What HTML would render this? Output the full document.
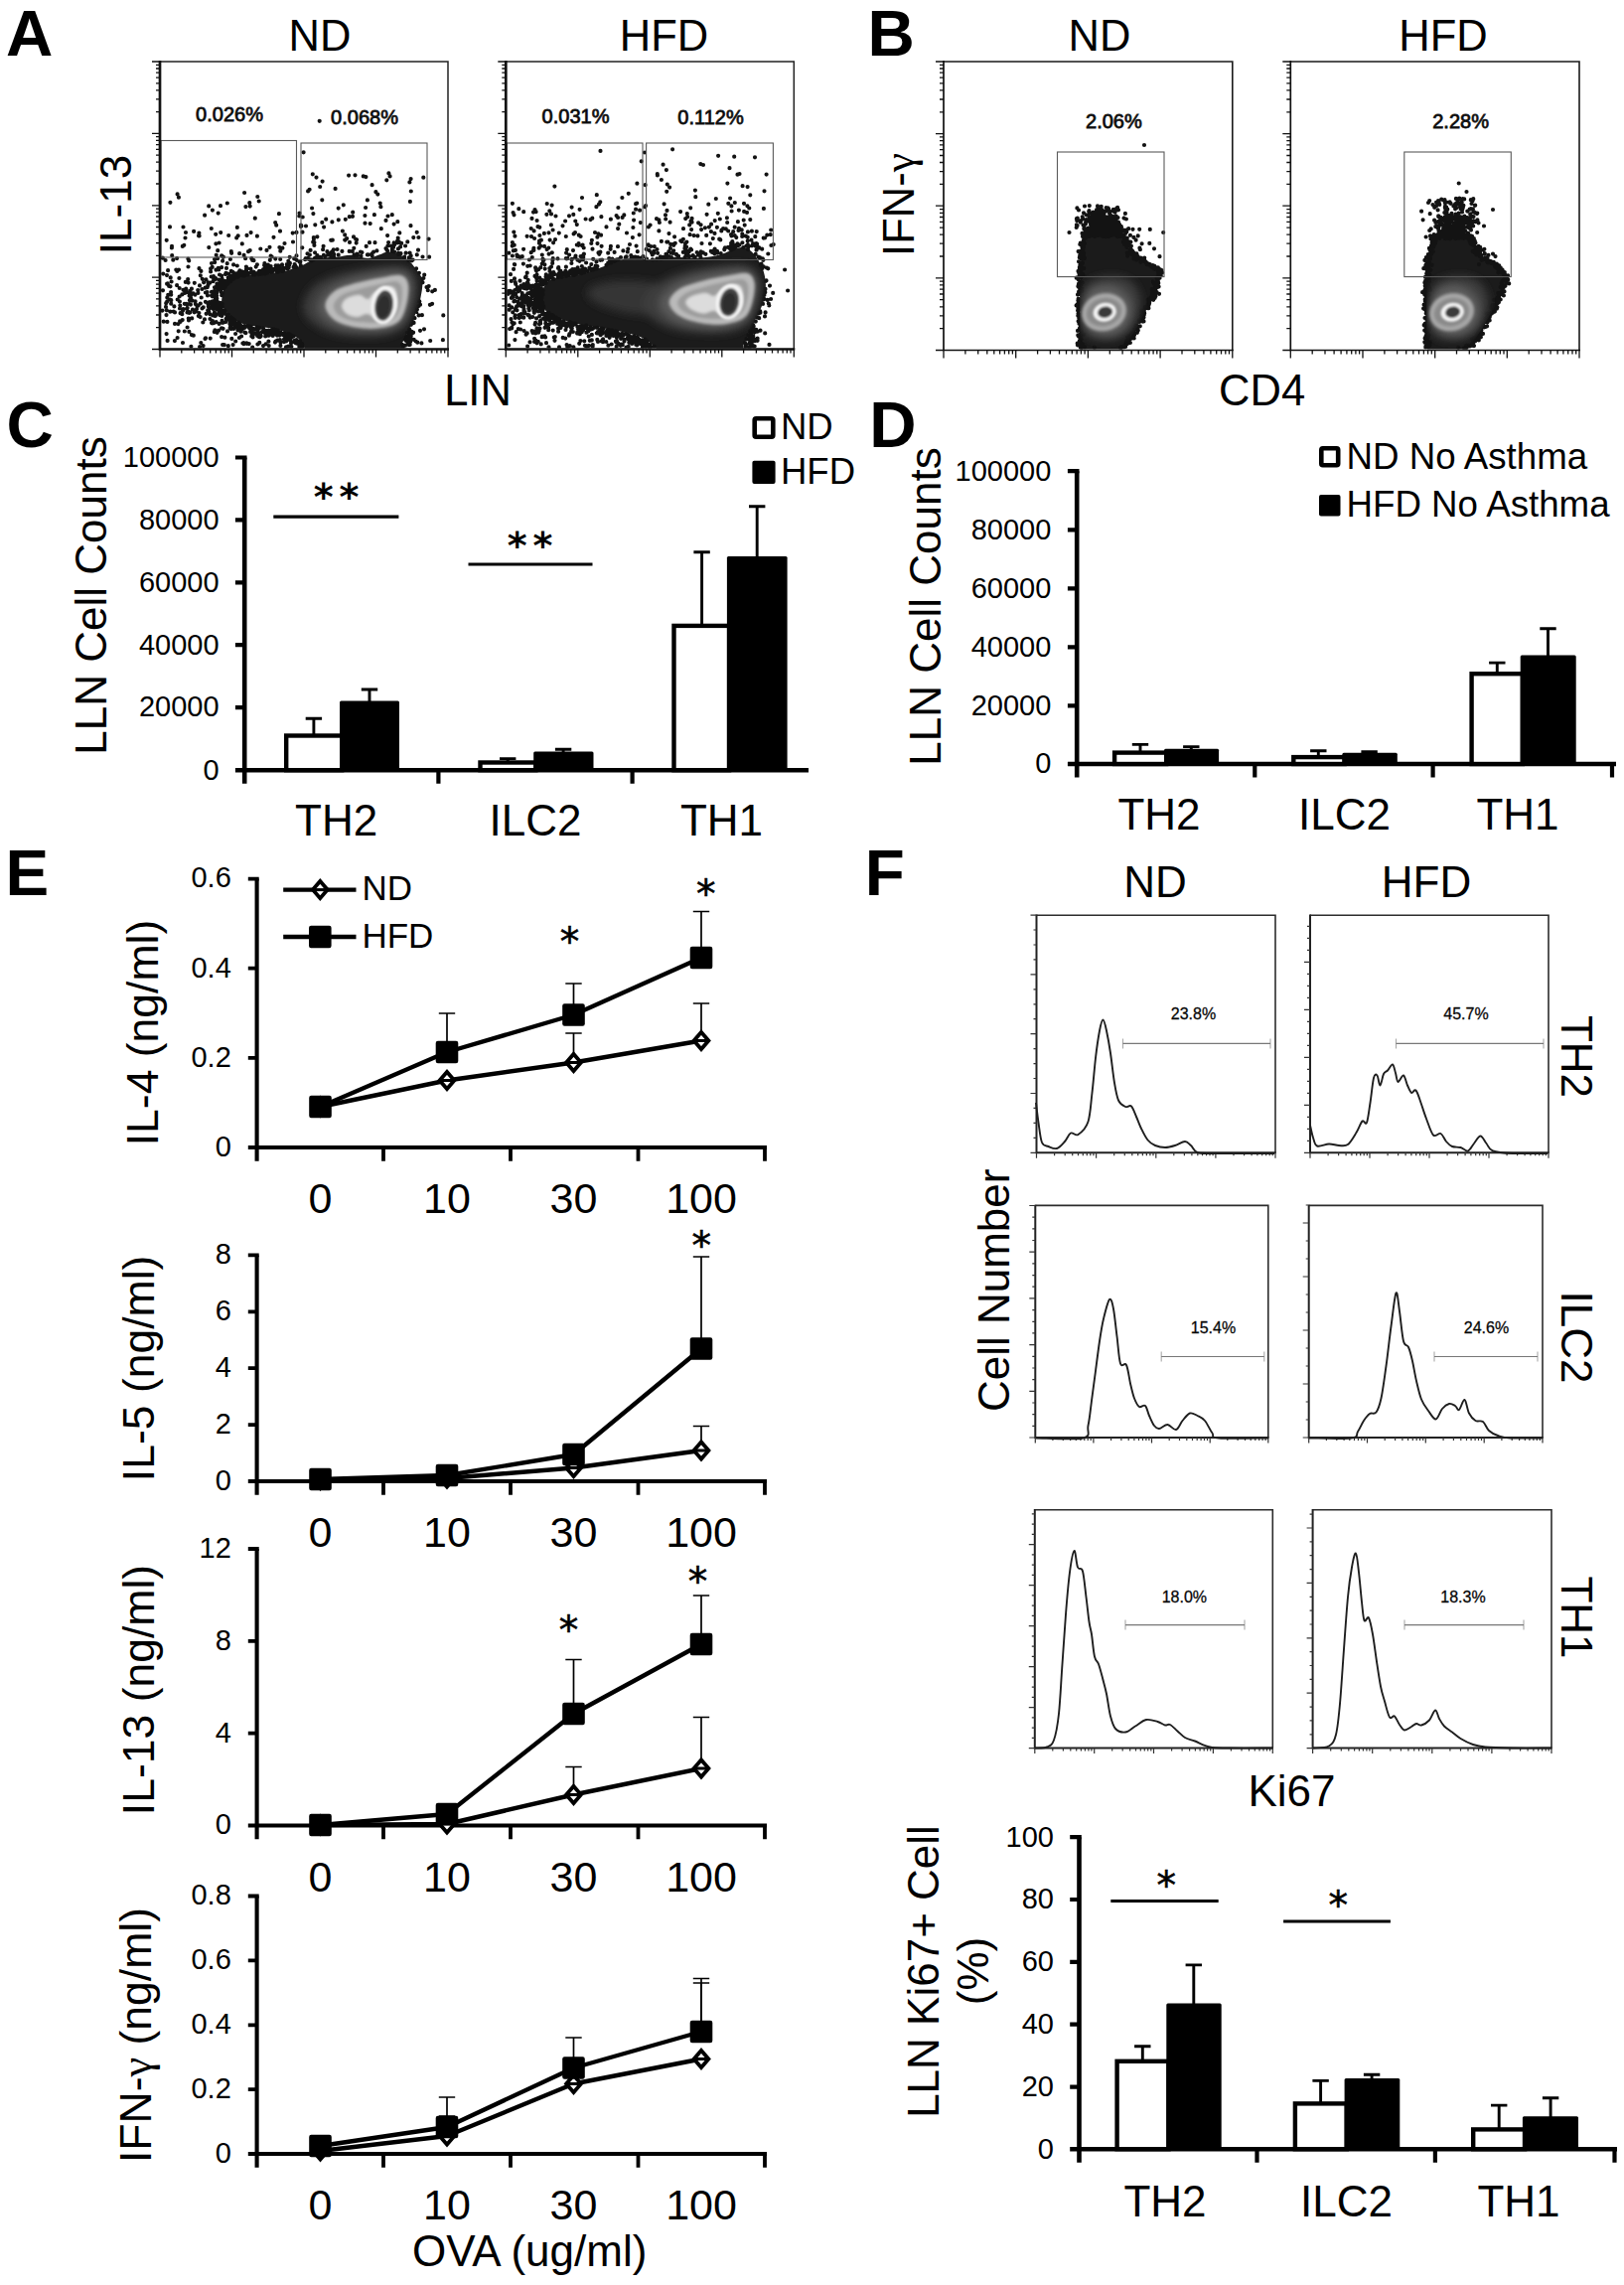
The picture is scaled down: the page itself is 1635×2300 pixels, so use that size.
<!DOCTYPE html>
<html><head><meta charset="utf-8"><title>Figure</title>
<style>html,body{margin:0;padding:0;background:#fff}svg{display:block}text{font-family:"Liberation Sans",Arial,sans-serif;fill:#000}</style>
</head><body>
<svg width="1635" height="2300" viewBox="0 0 1635 2300">
<defs>
<filter id="bl5" x="-20%" y="-20%" width="140%" height="140%"><feGaussianBlur stdDeviation="4"/></filter>
<filter id="bl2" x="-20%" y="-20%" width="140%" height="140%"><feGaussianBlur stdDeviation="1.6"/></filter>
<filter id="bl1" x="-20%" y="-20%" width="140%" height="140%"><feGaussianBlur stdDeviation="0.9"/></filter>
</defs>
<rect width="1635" height="2300" fill="#fff"/>
<clipPath id="ca1"><rect x="162" y="62" width="289" height="288.5"/></clipPath>
<g clip-path="url(#ca1)">
<clipPath id="ca1b"><path d="M223.2 301.5C223.5 298.4 224.3 293.1 226 289.9C227.8 286.7 230.4 284.1 233.6 282C236.7 280 239.8 278.4 245.2 277.4C250.6 276.4 258.9 276.5 265.9 275.8C272.9 275 280.7 274.2 287.1 272.8C293.5 271.3 299 269.1 304.3 267C309.5 264.9 312.7 261.6 318.6 260.2C324.4 258.8 333.3 259.4 339.2 258.8C345 258.2 348.3 256.5 353.5 256.7C358.7 256.9 365.6 259.9 370.3 259.9C375 259.8 378 257.7 381.5 256.6C385 255.6 387.7 253.6 391.2 253.6C394.8 253.6 399.2 254.9 402.7 256.5C406.3 258.1 409.5 260.5 412.5 263.3C415.4 266.2 418.3 270.1 420.5 273.3C422.6 276.6 424.8 278.1 425.3 282.7C425.7 287.2 424.6 294.6 423.2 300.7C421.9 306.7 419.5 312.9 417.1 319.1C414.7 325.3 411 333 408.8 337.8C406.5 342.7 404.7 345.7 403.6 348.2C402.4 350.8 405.9 352.3 402.1 353.2C398.3 354 389.5 353.4 380.7 353.5C372 353.5 358.8 353.5 349.4 353.5C340 353.5 331.1 353.7 324.3 353.5C317.5 353.3 312.6 354.4 308.7 352.3C304.8 350.2 304.3 344.1 300.8 341.1C297.3 338.1 292.5 336.2 287.4 334.4C282.3 332.5 275.9 331.1 270.3 330.1C264.6 329 258.7 329 253.6 328C248.4 327 243.5 326 239.6 324C235.6 322.1 232.4 318.7 229.8 316.1C227.2 313.6 225.1 311 224 308.6C222.9 306.1 222.9 304.6 223.2 301.5z"/></clipPath>
<path d="M223.2 301.5C223.5 298.4 224.3 293.1 226 289.9C227.8 286.7 230.4 284.1 233.6 282C236.7 280 239.8 278.4 245.2 277.4C250.6 276.4 258.9 276.5 265.9 275.8C272.9 275 280.7 274.2 287.1 272.8C293.5 271.3 299 269.1 304.3 267C309.5 264.9 312.7 261.6 318.6 260.2C324.4 258.8 333.3 259.4 339.2 258.8C345 258.2 348.3 256.5 353.5 256.7C358.7 256.9 365.6 259.9 370.3 259.9C375 259.8 378 257.7 381.5 256.6C385 255.6 387.7 253.6 391.2 253.6C394.8 253.6 399.2 254.9 402.7 256.5C406.3 258.1 409.5 260.5 412.5 263.3C415.4 266.2 418.3 270.1 420.5 273.3C422.6 276.6 424.8 278.1 425.3 282.7C425.7 287.2 424.6 294.6 423.2 300.7C421.9 306.7 419.5 312.9 417.1 319.1C414.7 325.3 411 333 408.8 337.8C406.5 342.7 404.7 345.7 403.6 348.2C402.4 350.8 405.9 352.3 402.1 353.2C398.3 354 389.5 353.4 380.7 353.5C372 353.5 358.8 353.5 349.4 353.5C340 353.5 331.1 353.7 324.3 353.5C317.5 353.3 312.6 354.4 308.7 352.3C304.8 350.2 304.3 344.1 300.8 341.1C297.3 338.1 292.5 336.2 287.4 334.4C282.3 332.5 275.9 331.1 270.3 330.1C264.6 329 258.7 329 253.6 328C248.4 327 243.5 326 239.6 324C235.6 322.1 232.4 318.7 229.8 316.1C227.2 313.6 225.1 311 224 308.6C222.9 306.1 222.9 304.6 223.2 301.5z" fill="#1b1b1b"/>
<path d="M374.5 255.3h0M363.5 257.8h0M254.2 261.9h0M187 234h0M426.3 178.7h0M389.5 251.5h0M382.7 204.6h0M303.4 227.4h0M200 237.3h0M394.8 251.1h0M278.2 226.7h0M210.2 207.4h0M260.7 202.5h0M304.7 218.5h0M419.7 233.8h0M314.8 261.7h0M248.5 236.9h0M349.2 240.1h0M319.4 238.3h0M319.5 257.2h0M351.1 176.6h0M282.3 252.7h0M400.3 223.2h0M324.3 201.3h0M351.8 218.2h0M325.1 251.2h0M414.6 261.5h0M314.1 209.5h0M311.9 256.6h0M238.2 239.4h0M224.9 258.7h0M383.4 208.2h0M206.1 216.7h0M354.8 252.9h0M357.5 176.3h0M400.7 239.7h0M432.1 258.7h0M251.7 207.6h0M223.1 257.4h0M316.4 246.9h0M410.3 243.4h0M339.5 251h0M419.8 256.4h0M336.2 258.7h0M388.5 221.9h0M316.4 244h0M412.9 202.9h0M323 259.3h0M322.5 258.9h0M408.6 254.7h0M241.1 255.2h0M310.1 192.4h0M232.8 253h0M359.3 255.5h0M298.5 257.4h0M217.2 235.8h0M253.3 260.2h0M317.2 259.8h0M219.2 252.2h0M370.8 256.4h0M325.9 256.8h0M412.6 254.6h0M302.9 227.9h0M397.2 246.3h0M388.5 250h0M310.8 260.9h0M328.2 220.7h0M185.3 246.8h0M335.1 252.6h0M363 253.6h0M200.6 237.4h0M322.2 188h0M421.4 239h0M315.4 215.1h0M394.8 253h0M333.2 241.8h0M324.6 182.6h0M171.4 203.8h0M397.3 246.1h0M372 244.2h0M402 243.8h0M314.8 175.3h0M368.1 209h0M171 228.4h0M268.5 251.9h0M275.5 238.8h0M356.5 256.7h0M347.8 220.8h0M393.9 247.6h0M189.4 260.6h0M311.6 190.8h0M389.3 181.3h0M325.6 247.8h0M256.8 219.7h0M246.1 194h0M317.3 226.3h0M308 227.5h0M340.8 221.3h0M222.2 234.1h0M407.2 258.7h0M331.1 255.4h0M412.4 183.4h0M245.6 256.9h0M334.8 241.7h0M413.7 257.4h0M397.1 253.5h0M359.1 241.3h0M309.9 259.8h0M315.9 240.8h0M324.3 223.9h0M344.4 252.9h0M383.8 230.2h0M219.7 214.6h0M259.3 198h0M396.1 248.9h0M406.9 259.3h0M334.4 223.4h0M222 207.2h0M286.5 245h0M401.3 255.9h0M172.9 249.5h0M369.9 256.4h0M319.2 258.9h0M321.5 259.9h0M367.5 224.7h0M233.1 254.8h0M230.2 237h0M247.4 208.1h0M250 253.2h0M400.1 242.5h0M271.5 248.8h0M337.6 189.9h0M271.8 261.8h0M298.5 233.9h0M295 243.5h0M404.2 244.9h0M396.6 225.6h0M200.4 234.6h0M302.9 226.7h0M166.6 262h0M326.1 228.6h0M376.1 253.7h0M277.2 224h0M195.1 232.9h0M376.9 216.2h0M365.8 177.4h0M217.4 245.3h0M305.6 153.3h0M367.4 217h0M390.4 247.5h0M396.6 244.4h0M315.2 243.7h0M411.8 259.3h0M425.5 258.5h0M251.7 252.1h0M216 261.1h0M318.5 178.6h0M331.9 256.8h0M356.3 249.8h0M309.5 255.3h0M280.9 215.2h0M377.5 244.2h0M315.8 239.1h0M272.6 257.5h0M364.4 254.1h0M213.9 211.6h0M210.3 249.1h0M243.8 245.4h0M347.2 236.4h0M184.5 228.5h0M178.6 195.4h0M333.5 254.2h0M217.7 256.8h0M352 243.9h0M413.8 192.5h0M368.7 247.9h0M183.8 247.9h0M412.4 260.8h0M391.4 174.4h0M330 256.6h0M284.4 249.7h0M374.6 186.2h0M347.4 241.7h0M403.1 248.4h0M401.3 243h0M412.3 259.2h0M238.8 228.9h0M351.7 252.9h0M291.7 258.8h0M369.9 201.4h0M368.4 178.1h0M390.1 252.5h0M358.7 244.6h0M340.7 209.6h0M219.1 260.2h0M304.5 233.7h0M262.3 250.5h0M301.3 217.5h0M273.7 258.5h0M347.2 241.5h0M231.9 261h0M374.7 257.6h0M167.7 241.8h0M251.3 204.2h0M413.5 227.2h0M421 251.7h0M258.9 237.7h0M355 217.8h0M173 247.9h0M304.3 249.3h0M334 258.5h0M416.3 239.1h0M391.1 244.1h0M431.6 240.6h0M296.2 260.4h0M220.6 244.5h0M298.6 261.8h0M340.7 256.7h0M228.8 204.5h0M336.2 255.9h0M390.5 217.5h0M408.1 247.5h0M400.9 250.4h0M173.2 257.2h0M282 232.7h0M327.2 258.3h0M345.8 206.3h0M335.8 251.4h0M355.2 213.7h0M378.4 193.2h0M281.4 249h0M301.5 214.5h0M239.7 237.3h0M294.7 234.6h0M413.6 180.1h0M252.6 234.1h0M390.1 237.1h0M380.3 195.6h0M335.1 254.3h0M358.2 240.8h0M179.9 198.7h0M402.3 234.4h0M359.9 256.7h0M317.1 254.3h0M394.8 216.2h0M312.6 251.9h0M372.7 225.1h0M403.5 255.2h0M212.8 230h0M356 238.4h0M401 254.8h0M379.4 252.4h0M186.5 239.5h0M392.6 177.4h0M329.4 253.2h0M344.9 232.6h0M401.4 255h0M400.2 244.3h0M269.1 273.1h0M304.3 348.8h0M410.8 345.6h0M279 337.6h0M293.1 337.7h0M187.2 290.7h0M259.8 346.3h0M213 324.9h0M178.7 301.5h0M199.2 292.1h0M277 344.6h0M198.2 307.4h0M243.2 331.1h0M163.5 312.6h0M248.3 273.4h0M207 340.3h0M289.4 337.8h0M409.4 340.8h0M253.3 338.4h0M202.3 345h0M238.6 327.2h0M275.9 333.8h0M279.5 342.7h0M222.8 310h0M205.1 284.3h0M220.2 271.4h0M225.8 347.2h0M169.1 272.2h0M223.5 322.9h0M261 339.2h0M255.4 273.9h0M291.9 264.9h0M269.9 266.7h0M226.3 312.6h0M224.2 287.7h0M223.6 305.8h0M193.2 320.4h0M266.9 275.5h0M194.7 295.3h0M437.9 291.9h0M189.6 284.6h0M280.2 267.4h0M192.5 296.5h0M171.7 279.4h0M238.8 276.5h0M218.2 287.8h0M228.8 284.3h0M254.3 337.3h0M412.8 333h0M265.2 332.6h0M225.6 314.9h0M237.7 325.8h0M300.8 346.3h0M224.1 347.1h0M425.5 280.6h0M190 322.4h0M218.3 300.5h0M190.8 305.9h0M226.4 339.7h0M227.5 274.9h0M254.2 349.5h0M231.7 277.8h0M187.5 305.8h0M221.9 314.5h0M247.7 275h0M280.6 271.6h0M174.7 313.6h0M223.9 295.1h0M174.3 261.7h0M234.9 278.2h0M280.5 335.1h0M266.4 265h0M270.7 348h0M286.8 270h0M180.6 298.5h0M265 348.1h0M220.1 315.4h0M203.5 310.5h0M252.7 328.9h0M423 306.7h0M212.7 278.5h0M171.2 301.6h0M198.3 307.4h0M253.9 334h0M275.2 333.3h0M184.5 291.8h0M288.8 266.2h0M192.9 290.7h0M235.2 276.4h0M255.5 262.2h0M270.8 337.6h0M215.8 296.5h0M283 271.7h0M248 271.5h0M219.1 290.5h0M281.5 337.6h0M244.5 273.9h0M426.4 280h0M226.6 286h0M215.5 307.8h0M302.3 346.3h0M419.9 311.4h0M188.2 306.6h0M228.2 285.7h0M164.2 275.6h0M223.6 308.6h0M432.9 306.8h0M240.6 273.9h0M183.7 322.1h0M239.4 326.8h0M209 297.4h0M275.3 333.4h0M416.7 341.8h0M226.1 315.6h0M413.8 261.5h0M201.1 349h0M196.4 296.7h0M270.1 273.9h0M208.7 289.2h0M235.5 280.3h0M252 331.2h0M201.8 277.3h0M415.5 324h0M416.1 334.7h0M185.8 333.5h0M266.8 274.8h0M404.9 346.9h0M296.6 342.8h0M271.8 333h0M255.6 273.8h0M249.3 276.5h0M229.8 348.2h0M209.5 284.4h0M191.9 306.6h0M312.9 261.3h0M192.6 301.9h0M210.5 310.8h0M224.3 288.8h0M239.4 332.3h0M172.6 283.5h0M236.1 275.2h0M220.4 281.7h0M243.4 273.6h0M232.6 331.1h0M276.8 270.7h0M217.5 293.9h0M260.5 273.8h0M415.1 335.5h0M169.2 296.9h0M257.3 275.2h0M187.9 310.8h0M247.9 271.2h0M258.9 266.3h0M411.1 344h0M319.5 259.1h0M313 261.5h0M299 344.4h0M200.5 270.2h0M236.4 322.3h0M289.4 341h0M192.9 337.1h0M181.6 315.2h0M254.8 331h0M218.7 289.3h0M189.9 313.8h0M216.2 264.1h0M415 325.1h0M285 337.1h0M184 345h0M433.2 343h0M195.7 314.3h0M217 306h0M275.2 333.2h0M232.8 272.8h0M221 288.1h0M285.9 335.7h0M285.8 269.9h0M217.3 296.8h0M218.2 297.4h0M287.8 339.3h0M202.7 299.5h0M269.5 274.1h0M197.4 313.3h0M297.1 267.2h0M273.4 335.2h0M255.8 275.5h0M231.6 323.6h0M291.2 267.1h0M201.8 305.5h0M408 347.7h0M235.2 331h0M251.3 330.5h0M239 277.4h0M253.4 335.2h0M217.6 299h0M409.8 338.5h0M224.3 290.2h0M242.4 333.7h0M248.9 328.6h0M253 331h0M254.7 276.5h0M242 331.7h0M189.8 320.6h0M186.8 283.9h0M206 321.4h0M258.3 331.8h0M219.8 304.8h0M233.6 277.8h0M220.4 312.3h0M215.2 280.6h0M229.7 279.7h0M202.4 272.9h0M427.2 276.7h0M232.6 320.7h0M168.3 299.6h0M280 271.7h0M293 345.4h0M176 314.4h0M178.1 287.2h0M260.2 330.9h0M281.4 335.9h0M239.8 278.6h0M227 276.1h0M295.5 268.9h0M222.7 288.2h0M279 267.6h0M211.4 316.3h0M272.1 333.6h0M213.3 303.5h0M290.2 348.5h0M290.7 269.6h0M214.7 310.9h0M201 287.4h0M279 272.3h0M280.2 336.1h0M266.1 267h0M232.5 328.8h0M172.1 294h0M307.8 260h0M272.1 274h0M411.3 262.1h0M224.3 313.7h0M226.4 285.6h0M423 332.8h0M200.4 315h0M178.1 260.1h0M260.3 331.1h0M217.2 300.5h0M266.9 335.2h0M284 266.4h0M204.7 309.3h0M263.1 272.9h0M295.3 344h0M232.6 325h0M190.6 297.7h0M316.8 260.2h0M413.5 261.9h0M252.1 334h0M411.1 343.1h0M184.4 311h0M214.6 307.6h0M303.9 349.1h0M217.1 280h0M271.1 271.3h0M301.1 346.1h0M278.1 268.3h0M282.1 269.5h0M189.5 268.5h0M168 277.1h0M424.4 345.4h0M291.4 337.4h0M289 337.8h0M304.1 346.2h0M274.7 338h0M209.2 312.4h0M199.7 307.6h0M232.3 321.6h0M435.1 305.8h0M196.8 306.1h0M290.8 336.4h0M213 265h0M225.7 283.2h0M167.8 312.3h0M256.6 335.7h0M244.4 345.5h0M186.1 294.9h0M218.3 294.5h0M258.7 329.3h0M217.5 316.7h0M282.2 261h0M414.5 333.8h0M260.8 276.1h0M298.3 344.7h0M204.6 348.1h0M231.6 330.1h0M216.6 299.5h0M201.6 319.1h0M218.8 303.5h0M225 324.6h0M289.2 336.3h0M235.2 325.7h0M272.4 336.2h0M313.2 262.5h0M221.8 285.9h0M269.4 274.5h0M411.5 347h0M248.7 345.9h0M225.2 290.4h0M212.3 305.1h0M285.2 272.6h0M232.4 321h0M223 284h0M288.9 338.1h0M216.7 281.1h0M234.6 347.1h0M291 339.2h0M270.7 273h0M218.6 306.2h0M212.5 309.7h0M225.4 285.2h0M295.6 338.6h0M228.9 283.2h0M411.5 338.2h0M256.5 276.4h0M222.5 305.4h0M246.5 277.3h0M171.5 288.3h0M240 324.5h0M242.2 327.7h0M214 323.1h0M192.4 348.8h0M172.2 296.7h0M190.5 315h0M413.9 326.8h0M420.3 344.7h0M245.2 345h0M421.6 308h0M253.2 273.1h0M224 288.8h0M249.1 270.3h0M283.8 272.8h0M410.2 334.8h0M217 317.8h0M215.5 315.7h0M235.8 278.1h0M210.4 314h0M284.1 272.7h0M225.2 289.3h0M407.9 341.8h0M244.4 275.4h0M282.4 347.9h0M269.4 334.3h0M302 343.4h0M179.7 333.3h0M240.9 340h0M167.2 305.2h0M218.2 311.3h0M187.5 291.4h0M298.1 268.8h0M203.7 280.8h0M215 278.2h0M288 349.4h0M184.1 312.6h0M220.8 309.5h0M313.5 262.2h0M189.3 294.3h0M408.6 342.8h0M223.2 313.9h0M222.7 311h0M280 271.3h0M270.4 343.7h0M235.1 266.4h0M213.9 310.2h0M229.3 318.3h0M215.9 314.5h0M204.3 324.5h0M270.4 332.5h0M435.2 293.3h0M180 271.6h0M209.4 287.3h0M272.9 270.8h0M307.2 261.2h0M277.6 267.4h0M220.7 314h0M270.8 337.7h0M290.2 336.6h0M249.9 328.7h0M188.6 329.5h0M254.7 275.5h0M228.5 319.4h0M276.4 335.4h0M247.1 260.2h0M213.3 306.1h0M415.1 323.8h0M319.7 260h0M292 342.6h0M280.2 271.7h0M206.9 294.5h0M236 276.1h0M222.9 289.8h0M183.3 316.2h0M223.3 318h0M264.9 275.5h0M237.1 278.1h0M245.1 329.7h0M219.8 269.8h0M318.7 259.5h0M214.6 309.3h0M232.5 282.1h0M223.6 280.6h0M246 328h0M416.6 324.9h0M176 325.9h0M218.4 285.7h0M237.1 336h0M274.9 271.2h0M257.7 268.6h0M274.1 331.6h0M288.1 343.4h0M224.6 330.8h0M252.4 270.5h0M229.7 284.5h0M414.4 341.4h0M218.4 303.7h0M262.5 337.5h0M262.3 275.8h0M266.9 268.2h0M214.2 296.2h0M268 272.2h0M265.1 330.6h0M217.2 288.8h0M245.5 276h0M411.7 336.5h0M242.5 277h0M277.9 270.2h0M297.3 345.1h0M279.1 342.7h0M191.5 292.9h0M230.1 281h0M218.7 311.1h0M251.2 274.8h0M293.4 348.8h0M266.9 272.4h0M218.6 334.8h0M233.5 281.2h0M270.7 269.4h0M289.8 269.4h0M218.6 305.1h0M254.5 339.4h0M301.6 263.7h0M214.5 283.2h0M412.6 342.3h0M257.3 331h0M177.3 271.5h0M280 273.6h0M262.9 274.3h0M405 349h0M192 299.4h0M232.6 321.6h0M279.1 269.6h0M213.7 268.9h0M221.7 304.8h0M236.3 277.5h0M194 311.6h0M424.9 317.2h0M431.7 288.1h0M445.9 342.2h0M215.5 296.2h0M168.1 285.7h0M250.6 328.6h0M245.1 274.6h0M277.7 332.2h0M211.4 321h0M218.1 297.2h0M263.9 334.2h0M296.6 266.1h0M221.9 292.3h0M256.4 335.7h0M290.3 262.8h0M259.6 275.1h0M250.5 328.6h0M292.9 339.1h0M211.3 284.7h0M259.2 338.1h0M230.5 275.8h0M427 331.3h0M232.1 283.2h0M446.3 317.4h0M181.5 323.9h0M425.5 284.3h0M239.4 275h0M216 317.8h0M262.7 338.2h0M255.6 331.3h0M231.4 326.1h0M181 310.5h0M193.6 302.6h0M246.4 334.6h0M208.6 294h0M188.7 310.1h0M220.6 286.1h0M190.2 262.4h0M241.4 272.4h0M164.7 323.7h0M238.6 329.3h0M429.5 289.1h0M419.3 314h0M239.4 276.4h0M242.6 275h0M419.1 270.3h0M223.1 269.2h0M183.4 296.4h0M292.1 341.4h0M247.9 268.6h0M169 286.3h0M213 297.6h0M302.4 263.4h0M163.8 259.6h0M267.6 346.3h0M248.3 345.4h0M226 285.6h0M240.2 325.8h0M281.4 269.1h0M217.7 324.2h0M223.8 314.9h0M225 314.1h0M220.6 325.9h0M212.1 270.4h0M190.4 333.9h0M223.2 277.5h0M217.5 271.7h0M226.7 288.8h0M188.5 314.5h0M213.7 298.3h0M224.3 288.7h0M408.9 339.7h0M415.2 325h0M179.4 326.1h0M234.3 280.8h0M227.5 283.1h0M167.6 336.1h0M242.3 329.7h0M180.9 303.6h0M279.4 271.1h0M405.5 349.4h0M206.5 341h0M235 326.1h0M171.3 313.7h0M190.9 302.2h0M237.7 325.7h0M199.8 318.1h0M222 283h0M254.4 275h0M217.3 307.8h0M236.4 328.5h0M234.6 320.8h0M180.7 290h0M413.7 338.3h0M303.7 347.3h0M245.4 346.2h0M280.8 269.9h0M277.5 343.5h0M241.5 326.3h0M232.2 321.6h0M266.3 270.9h0M232.5 319.3h0M281.9 342.2h0M209.5 306.2h0M232.5 281.8h0M213 293.9h0M274.4 273.2h0M265.2 271h0M167 308.9h0M232.1 328.5h0M220.1 332.7h0M274.6 272.6h0M194.8 337.7h0M273.4 335h0M243.6 273.4h0M228.4 275.3h0M224.1 262.7h0M268 332.8h0M211.7 340.6h0M233.3 340.9h0M207.6 315.8h0M412.7 346.9h0M226.8 287.8h0M196.6 303.3h0M168.8 285.4h0M191.4 314.4h0M282.5 344.7h0M217 299.3h0M267.9 335.5h0M413.1 336.5h0M228 269.9h0M223.2 297.2h0M247.5 335h0M254.5 338.2h0M413.6 336.5h0M237.6 329.3h0M164 292.3h0M291.3 337h0M268.1 270.5h0M272.7 268.1h0M405.1 347.5h0M214 317.3h0M237.2 343.5h0M413.2 343.8h0M209.3 312.3h0M198 311.1h0M233.2 322.7h0M222.2 283.2h0M180.4 280h0M178.3 273h0M223.1 339.1h0M228.4 320.4h0M217.7 296.9h0M210.7 304.3h0M218.3 307.1h0M227.6 320.8h0M168.4 323.9h0M221 290.3h0M206.9 303.8h0M215.1 325.2h0M229 333.4h0M247.4 335.2h0M291.6 336.5h0M168.2 303.6h0M231.8 281.3h0M220.2 309.5h0M220.2 291.1h0M209.8 308.4h0M222.2 284.3h0M222.7 294.1h0M216 289.3h0M244.4 277.4h0M405 347.1h0M418.7 343.5h0M221 276.5h0M227.4 324h0M229.6 285.1h0M219.4 309.4h0M243.7 331.4h0M195.8 284.8h0M261.1 272.8h0M246.1 328.8h0M268.5 271.5h0M216.6 302h0M245.3 277.3h0M216.4 332.4h0M238.8 267.5h0M261.3 344.9h0M289.5 270.5h0M287.9 269.7h0M227.1 315.6h0M217.8 293.7h0M172.2 305.7h0M230.1 321.4h0M221.6 285h0M293.4 339.8h0M215.9 293.2h0M261.7 339.2h0M221.4 317.2h0M301.3 348.9h0M298.8 345.7h0M191.3 301.8h0M231 282.8h0M214 294.4h0M167.5 317.1h0M297 266.8h0M207.5 281.4h0M279.8 332.5h0M185.8 305.8h0M170.1 288h0M234.4 273.8h0M172.3 302.2h0M422.3 303.4h0M279 268.9h0M224 324.8h0M278.2 336.2h0M215.6 306.2h0M228.7 265.2h0M224.8 314.2h0M430.8 292.2h0M318.3 259.2h0M238.8 276.5h0M286 344.1h0M421.6 317.4h0M415.6 261.6h0M181.1 323.3h0M421.9 274.8h0M259.4 346.5h0M302.8 267.2h0M250.7 346.1h0M223 330.4h0M230.5 280h0M245.7 274.1h0M412.9 339h0M298.6 342.1h0M213.4 325.3h0M246.1 330h0M252 329.2h0M278.6 273.3h0M215.1 293.3h0M175.4 308.4h0M206.6 289.7h0M221.8 306.8h0M230.4 283h0M232.2 324.2h0M215.2 303.1h0M287 335.8h0M267.2 338.5h0M226.4 283h0M253.5 330.8h0M233.5 278.2h0M175.9 343.1h0M275.9 331.7h0M277.3 260.6h0M417.5 320.2h0M292.9 339.7h0M199.4 294.9h0M286 341.7h0M260.2 334.8h0M286.8 338.2h0M259.3 330.1h0M241.1 275.1h0M203.4 291h0M412.1 331.3h0M212.1 273.4h0M414.5 262.5h0M254.2 274.4h0M266.3 271.8h0M261.5 329.9h0M215.8 334.1h0M255.4 276.2h0M237.1 279.1h0M181.3 307.6h0M229.9 316.8h0M228.7 286h0M189.2 281h0M269.8 337.6h0M217.4 293.1h0M210.6 304.3h0M282.2 334.3h0M239.6 326.3h0M243.1 338.5h0M283.5 271.5h0M168.6 342.9h0M178.6 340h0" fill="none" stroke="#131313" stroke-width="4.2" stroke-linecap="round"/>
<g clip-path="url(#ca1b)">
<g filter="url(#bl5)">
<path d="M305.4 307.5C306.1 301.2 310.6 292.2 318 286.6C325.3 281 335.4 277.2 349.4 274C363.3 270.9 390.2 266.7 401.7 267.7C413.2 268.8 416 273.7 418.4 280.3C420.9 286.9 418.4 299.3 416.4 307.5C414.3 315.7 411.8 324.3 405.9 329.5C400 334.7 391.9 337.3 380.8 338.5C369.6 339.6 350.1 338.8 338.9 336.4C327.7 334 319.4 329.1 313.8 324.3C308.2 319.4 304.7 313.8 305.4 307.5z" fill="#3e3e3e"/>
<path d="M320 307.5C321.1 302.6 326 295.5 332.6 290.8C339.2 286.1 348.3 282.2 359.8 279.2C371.3 276.3 392.6 272.1 401.7 273C410.8 273.8 412.5 278.7 414.3 284.5C416 290.2 414.3 300.4 412.2 307.5C410.1 314.7 408 323 401.7 327.4C395.4 331.8 384.3 333.2 374.5 333.7C364.7 334.1 351.1 332.4 343.1 330.1C335.1 327.9 330.2 323.8 326.3 320.1C322.5 316.3 319 312.4 320 307.5z" fill="#5c5c5c"/>
</g><g filter="url(#bl2)">
<path d="M327.4 307.5C327.4 302.6 331.4 296.7 336.8 292.9C342.2 289 351.8 286.8 359.8 284.5C367.9 282.2 377.6 280.5 385 279.2C392.3 278 399.4 275.9 403.8 277.2C408.2 278.4 410.2 281.5 411.1 286.6C412 291.6 410.8 301.2 409 307.5C407.3 313.8 405.4 320.4 400.7 324.3C395.9 328.1 387.9 329.7 380.8 330.5C373.6 331.4 365.1 330.9 357.7 329.5C350.4 328.1 341.9 325.8 336.8 322.2C331.7 318.5 327.4 312.4 327.4 307.5z" fill="#bababa"/>
<path d="M335.8 307.5C336.1 304 339.8 299.8 344.1 297C348.5 294.3 355.1 292.7 361.9 290.8C368.7 288.8 378.7 286.8 385 285.5C391.2 284.3 396.3 282.6 399.6 283.4C402.9 284.3 404.2 286.8 404.8 290.8C405.5 294.8 404.8 302.6 403.4 307.5C402 312.4 400.2 317.2 396.5 320.1C392.7 322.9 387.2 324.1 380.8 324.7C374.3 325.3 364.2 325 357.7 323.8C351.3 322.7 345.7 320.7 342 318C338.4 315.3 335.4 311 335.8 307.5z" fill="#9c9c9c"/>
<path d="M344.1 307.9C344.1 305.3 346.4 302 349.4 300.2C352.3 298.4 358.4 296.9 361.9 297C365.4 297.2 367.9 301.6 370.3 301.2C372.7 300.9 373.8 297 376.6 295C379.4 292.9 383.6 289.4 387 288.7C390.5 288 395.4 287.6 397.5 290.8C399.6 293.9 400.3 302.6 399.6 307.5C398.9 312.4 396.5 317.6 393.3 320.1C390.2 322.5 384.6 322.9 380.8 322.2C376.9 321.5 373.8 316.4 370.3 315.9C366.8 315.4 363.3 319 359.8 319C356.3 319 352 317.7 349.4 315.9C346.7 314 344.1 310.5 344.1 307.9z" fill="#dcdcdc"/>
</g><g filter="url(#bl1)">
<path d="M399.5 309C399 311.8 398.1 314.7 396.9 317.1C395.8 319.5 394.1 321.7 392.4 323.2C390.7 324.7 388.6 325.8 386.7 326.1C384.8 326.4 382.7 326.1 381 325.2C379.2 324.3 377.6 322.7 376.4 320.8C375.2 318.8 374.2 316.2 373.8 313.6C373.4 311 373.4 307.9 373.8 305.2C374.2 302.4 375.1 299.4 376.3 297.1C377.5 294.7 379.2 292.5 380.9 291C382.6 289.5 384.7 288.4 386.6 288.1C388.5 287.8 390.6 288.1 392.3 289C394 289.8 395.7 291.5 396.9 293.4C398.1 295.3 399 298 399.4 300.6C399.9 303.2 399.9 306.3 399.5 309z" fill="#f4f4f4"/>
<path d="M395.7 308.9C395.4 311.1 394.7 313.5 393.8 315.4C393 317.3 391.7 319.1 390.5 320.3C389.3 321.6 387.8 322.5 386.4 322.8C385 323.1 383.6 322.8 382.3 322.1C381.1 321.5 380 320.2 379.1 318.6C378.3 317.1 377.7 315 377.4 312.9C377.1 310.8 377.2 308.4 377.5 306.1C377.9 303.9 378.6 301.5 379.4 299.6C380.3 297.7 381.5 295.9 382.8 294.7C384 293.5 385.5 292.6 386.9 292.3C388.2 292 389.7 292.2 390.9 292.9C392.1 293.6 393.3 294.9 394.1 296.4C394.9 297.9 395.6 300 395.8 302.1C396.1 304.2 396.1 306.7 395.7 308.9z" fill="#444"/>
<path d="M392.4 309.7C392.2 311.4 391.7 313.1 391.1 314.6C390.4 316 389.6 317.3 388.7 318.3C387.9 319.2 386.8 319.8 385.9 320.1C385 320.3 384 320.2 383.1 319.7C382.3 319.2 381.5 318.2 381 317.1C380.4 316 380 314.4 379.9 312.9C379.7 311.3 379.7 309.5 380 307.8C380.2 306.2 380.7 304.4 381.4 303C382 301.6 382.8 300.2 383.7 299.3C384.5 298.4 385.6 297.7 386.5 297.5C387.4 297.2 388.4 297.4 389.3 297.9C390.1 298.4 390.9 299.3 391.4 300.5C392 301.6 392.4 303.1 392.5 304.7C392.7 306.2 392.7 308.1 392.4 309.7z" fill="#2e2e2e"/>
</g></g></g>
<rect x="162" y="141.5" width="136.5" height="117.5" fill="none" stroke="#5a5a5a" stroke-width="1.1"/>
<rect x="303" y="144" width="127" height="117.5" fill="none" stroke="#5a5a5a" stroke-width="1.1"/>
<path d="M161 62H451V351.5" fill="none" stroke="#222" stroke-width="1.5"/>
<path d="M161 61V351.5H452" fill="none" stroke="#111" stroke-width="2.7"/>
<path d="M161 351.5v8M161 351.5h-8M182.8 351.5v4M161 329.7h-4M195.6 351.5v4M161 317h-4M204.6 351.5v4M161 307.9h-4M211.7 351.5v4M161 300.9h-4M217.4 351.5v4M161 295.2h-4M222.3 351.5v4M161 290.3h-4M226.5 351.5v4M161 286.1h-4M230.2 351.5v4M161 282.4h-4M233.5 351.5v8M161 279.1h-8M255.3 351.5v4M161 257.3h-4M268.1 351.5v4M161 244.6h-4M277.1 351.5v4M161 235.6h-4M284.2 351.5v4M161 228.5h-4M289.9 351.5v4M161 222.8h-4M294.8 351.5v4M161 218h-4M299 351.5v4M161 213.8h-4M302.7 351.5v4M161 210.1h-4M306 351.5v8M161 206.8h-8M327.8 351.5v4M161 185h-4M340.6 351.5v4M161 172.2h-4M349.6 351.5v4M161 163.2h-4M356.7 351.5v4M161 156.2h-4M362.4 351.5v4M161 150.4h-4M367.3 351.5v4M161 145.6h-4M371.5 351.5v4M161 141.4h-4M375.2 351.5v4M161 137.7h-4M378.5 351.5v8M161 134.4h-8M400.3 351.5v4M161 112.6h-4M413.1 351.5v4M161 99.8h-4M422.1 351.5v4M161 90.8h-4M429.2 351.5v4M161 83.8h-4M434.9 351.5v4M161 78.1h-4M439.8 351.5v4M161 73.2h-4M444 351.5v4M161 69h-4M447.7 351.5v4M161 65.3h-4M451 351.5v8M161 62h-8" fill="none" stroke="#111" stroke-width="1.3"/>
<text x="231" y="121.5" text-anchor="middle" fill="#1a1a1a" font-size="20" stroke="#1a1a1a" stroke-width="0.8">0.026%</text>
<text x="367" y="124.5" text-anchor="middle" fill="#1a1a1a" font-size="20" stroke="#1a1a1a" stroke-width="0.8">0.068%</text>
<path d="M321.7 121.8h0" fill="none" stroke="#131313" stroke-width="4.2" stroke-linecap="round"/>
<clipPath id="ca2"><rect x="510.3" y="62" width="289" height="288.5"/></clipPath>
<g clip-path="url(#ca2)">
<clipPath id="ca2b"><path d="M545.4 301.2C545.4 296.9 546.6 289.6 549.1 286C551.6 282.4 555 281.2 560.3 279.6C565.7 278.1 574.1 278.1 581.1 276.6C588.1 275 595.3 272.6 602.3 270.2C609.3 267.7 616.9 263.6 623.1 261.9C629.2 260.1 633.3 259.9 639.1 259.9C644.9 259.9 651.4 262.1 658 262C664.7 261.8 672 259.2 679 258.8C686 258.5 692.9 260.1 699.9 259.9C707 259.6 714.9 258.7 721.3 257.3C727.7 255.9 733.5 252.8 738.2 251.4C742.9 250 746.2 248.3 749.6 248.9C753 249.6 755.6 251.8 758.6 255.2C761.6 258.7 765.5 264.5 767.5 269.7C769.6 275 770.8 280.8 770.9 286.6C771 292.4 769.8 298.9 768.1 304.7C766.4 310.4 763.2 315.6 760.7 321.1C758.2 326.6 755 333.3 752.9 337.8C750.9 342.4 749 345.8 748.1 348.3C747.2 350.9 752 352.3 747.4 353.1C742.8 354 730.4 353.4 720.7 353.5C711.1 353.5 698.7 353.6 689.4 353.5C680.1 353.4 671.8 354.9 665 352.8C658.2 350.6 654.9 343.8 648.6 340.8C642.3 337.7 634.3 336.1 627.2 334.3C620.1 332.5 613.8 331.5 606.1 330.1C598.4 328.7 588.6 327.6 581.1 325.9C573.5 324.2 565.9 322.1 560.6 319.8C555.3 317.5 551.6 315.3 549 312.2C546.5 309.1 545.4 305.6 545.4 301.2z"/></clipPath>
<path d="M545.4 301.2C545.4 296.9 546.6 289.6 549.1 286C551.6 282.4 555 281.2 560.3 279.6C565.7 278.1 574.1 278.1 581.1 276.6C588.1 275 595.3 272.6 602.3 270.2C609.3 267.7 616.9 263.6 623.1 261.9C629.2 260.1 633.3 259.9 639.1 259.9C644.9 259.9 651.4 262.1 658 262C664.7 261.8 672 259.2 679 258.8C686 258.5 692.9 260.1 699.9 259.9C707 259.6 714.9 258.7 721.3 257.3C727.7 255.9 733.5 252.8 738.2 251.4C742.9 250 746.2 248.3 749.6 248.9C753 249.6 755.6 251.8 758.6 255.2C761.6 258.7 765.5 264.5 767.5 269.7C769.6 275 770.8 280.8 770.9 286.6C771 292.4 769.8 298.9 768.1 304.7C766.4 310.4 763.2 315.6 760.7 321.1C758.2 326.6 755 333.3 752.9 337.8C750.9 342.4 749 345.8 748.1 348.3C747.2 350.9 752 352.3 747.4 353.1C742.8 354 730.4 353.4 720.7 353.5C711.1 353.5 698.7 353.6 689.4 353.5C680.1 353.4 671.8 354.9 665 352.8C658.2 350.6 654.9 343.8 648.6 340.8C642.3 337.7 634.3 336.1 627.2 334.3C620.1 332.5 613.8 331.5 606.1 330.1C598.4 328.7 588.6 327.6 581.1 325.9C573.5 324.2 565.9 322.1 560.6 319.8C555.3 317.5 551.6 315.3 549 312.2C546.5 309.1 545.4 305.6 545.4 301.2z" fill="#1b1b1b"/>
<path d="M680.8 255.9h0M665.3 260.7h0M671.3 243.6h0M596.5 250.7h0M700.3 198.2h0M559.5 217.5h0M543 242.7h0M686.3 243.2h0M741.3 239.1h0M733.2 232.5h0M690.4 257.9h0M692.5 253.6h0M601.4 238.7h0M729.3 250.9h0M690 245.1h0M537 213.6h0M556.6 231.5h0M605.6 247.8h0M537.6 232.4h0M596.3 219.7h0M604.4 261.8h0M737.2 243.6h0M747.4 244.3h0M606.1 261.6h0M640.6 247.6h0M577.6 235.4h0M552.3 249.6h0M753 251.2h0M742.4 245.4h0M688 230.2h0M647 259h0M711.2 236.9h0M520.4 256.5h0M736.4 246.8h0M627.4 252.4h0M612.2 254.7h0M732.2 224h0M713.3 205.7h0M697.7 257.2h0M538.1 240h0M757.8 246.9h0M516.6 214.1h0M597.2 260.8h0M643.6 236.3h0M675.4 245.9h0M776.2 231.5h0M638.1 221.6h0M559 241.1h0M683.1 257.9h0M555.6 206.6h0M554.9 226.4h0M622.1 219h0M763.6 258.6h0M756.5 241.7h0M666.6 260.5h0M605.4 218.2h0M703 256.7h0M604.4 253.7h0M703.7 255.8h0M628.3 216.4h0M671.2 192.8h0M699.9 191.6h0M603 205.6h0M535 238.1h0M761.5 251.7h0M586 199h0M579.5 257.7h0M691.4 243.6h0M562.8 234.6h0M685.3 242.3h0M725.3 241.4h0M693.2 252.5h0M705.6 226.3h0M561.5 260.4h0M645.3 259.9h0M571.4 260.2h0M716.1 225.7h0M752 213.9h0M541.5 228.2h0M738.7 250.3h0M651 260.8h0M543.3 228.8h0M692.8 258h0M752.9 246.3h0M566.5 227.3h0M760.3 238.2h0M695.3 250.6h0M614.9 247.9h0M584.6 258.1h0M535.8 259h0M525.8 258.2h0M752.6 188.1h0M674.6 223.7h0M553.3 212.3h0M670 216.4h0M518.9 251.9h0M595.3 245h0M641.8 253.2h0M637.4 229h0M634 246h0M602.4 235.3h0M767.2 250.7h0M706.5 245h0M656.8 256.4h0M581.5 261.7h0M661.9 176.5h0M776.4 247h0M586.1 261.1h0M650.7 250.9h0M517.5 216.3h0M721.9 228.8h0M535.5 219.9h0M645.7 162.3h0M689.7 247.8h0M582.6 245.2h0M764.9 259.1h0M518.4 237.7h0M649.2 208.3h0M729.3 251.3h0M649 153.5h0M641.2 204.5h0M753.6 248.3h0M539.6 213.2h0M706.1 231.1h0M743.9 211.6h0M663.4 221.4h0M744.5 175h0M767.8 260.3h0M739.7 237.1h0M534.7 254.2h0M760.7 255.9h0M778.7 246.1h0M757 247.3h0M569.1 222.5h0M721.5 254.1h0M580.8 246.5h0M720.8 200h0M736.2 251.3h0M696.1 251.5h0M690.9 256.5h0M733.1 248.9h0M749 204.8h0M630.7 258.4h0M736.6 212.5h0M644.1 211.7h0M691.3 253.1h0M696.1 231.1h0M632.8 194.8h0M722.4 254.7h0M600.8 196.2h0M640.1 210.7h0M661 220.2h0M595.9 241.8h0M760.7 247.7h0M658.1 255h0M719.4 254.7h0M716.9 253.9h0M692.2 218.3h0M705.3 165.1h0M743.5 232h0M635.3 257.2h0M736.4 207.4h0M705 256.1h0M687.9 253.9h0M744 229.8h0M724.8 220.5h0M555 215.4h0M673.5 235.1h0M719.3 255.3h0M617.4 261.6h0M714.9 245.3h0M587.9 255.7h0M570.8 251.2h0M690.3 251.3h0M736 236.1h0M678.3 246.8h0M694.6 236.2h0M653.7 252.1h0M573.1 256.5h0M731.9 219.3h0M599 234h0M726.5 231.7h0M515.9 204.8h0M679.1 238.3h0M736 251.6h0M699.7 258.9h0M770 239.5h0M718.9 252h0M544.9 241.7h0M547.9 234.9h0M552.6 255.7h0M652.9 228.5h0M573 217.3h0M515.9 244h0M665.7 260h0M736.5 237.4h0M772.3 236.6h0M730.8 230.4h0M715.8 252.9h0M522.3 210.2h0M631 234.5h0M550.4 215.8h0M733.3 204.8h0M742.7 247.5h0M527.2 213.2h0M604.3 203.3h0M755.3 196.3h0M719.7 222.1h0M689.4 250.1h0M742.9 223.2h0M547.5 261.8h0M570.4 260.5h0M695.2 209.3h0M586.1 257.5h0M622.1 230.1h0M723.1 156.8h0M575.8 260.8h0M664.8 259.6h0M626.6 218.9h0M678.2 252.3h0M579.3 222.5h0M626.4 199h0M679.8 244.8h0M632.3 250.6h0M746.7 231.4h0M715.9 233.1h0M713.9 228.6h0M516.8 252.3h0M579.2 259h0M530.6 237.8h0M691.2 254.5h0M677.5 254.9h0M768.7 239.6h0M665.9 242.9h0M577.3 215.9h0M739.7 228.7h0M552.5 234.3h0M748.3 249h0M603.3 255.8h0M748.7 221.6h0M663.9 224h0M760 158.3h0M620.9 261.4h0M646.4 260h0M649.6 186.2h0M614.9 220.7h0M737.6 244.4h0M670.5 255.9h0M655.3 248h0M722 252.8h0M744.4 246.6h0M532.9 261.5h0M661.1 261.2h0M758.1 245.2h0M587.7 249.5h0M750.7 237.6h0M658.8 248.1h0M755.3 221.1h0M570.1 254.6h0M696.6 223.7h0M668.6 205.3h0M694.2 258.1h0M754.3 209.5h0M732.4 184.6h0M527.1 250.8h0M739.8 204h0M584.6 238h0M682.8 258h0M671.5 211.9h0M614.6 250.8h0M749.1 212.9h0M520.6 258h0M671.8 185.6h0M737.3 243h0M661.5 251h0M739.2 157.7h0M725.7 255h0M542.7 249.7h0M738.2 233.2h0M548 247.9h0M694.2 226.4h0M550.6 251.1h0M652.7 246.4h0M594.5 221.1h0M687.9 240.8h0M589.6 220.5h0M512.3 254.7h0M698.6 237.1h0M577 252.1h0M637.8 214.5h0M537.1 251.4h0M773.3 255.5h0M662.1 254.8h0M762.1 245.6h0M651 260.6h0M542.9 244.7h0M601.5 245.1h0M735.1 199.6h0M555.8 254.3h0M734.5 169.2h0M760.9 247.7h0M693.6 253.6h0M709.9 229.3h0M522.5 258.3h0M703.1 224.3h0M558.4 187.6h0M517.7 246.7h0M726.3 232.4h0M640.1 205.2h0M550.7 205h0M687.9 253.8h0M671.3 255.9h0M639.6 258.7h0M668.8 259.2h0M769.5 192.3h0M707.9 254.4h0M652.7 246.9h0M575.6 208.6h0M658.3 252.9h0M764.3 249.4h0M677.1 150.3h0M717.8 240.1h0M678.6 245.6h0M538.5 211.1h0M752.7 238.8h0M751.4 247.5h0M691.1 248.6h0M618.6 253.9h0M654.6 226.6h0M667.6 165.7h0M631.8 253.5h0M661.8 175.2h0M656 254.5h0M604.5 151.9h0M670.2 220.5h0M637.9 258.9h0M622 248.2h0M685.1 213.1h0M647.5 258.2h0M695.5 222.6h0M602.5 254.4h0M730 249.3h0M644.8 224.1h0M736.7 250h0M697.9 258h0M675.8 254.7h0M569.8 238h0M623.3 225.7h0M722.8 214.8h0M719.6 250.5h0M582.4 246.8h0M692.1 256.3h0M583.6 210.8h0M736.1 244.8h0M775.7 236.2h0M663.4 232.4h0M761.4 245.1h0M587.3 258.9h0M737.7 248.5h0M742.5 175.7h0M705.7 253.3h0M696.6 219.9h0M620.6 217.1h0M674.9 249.9h0M702.4 237.4h0M762.3 247.8h0M670.9 171.1h0M667.1 259.8h0M701.7 254h0M545.8 256.5h0M752.4 207.3h0M735.2 250.8h0M747.6 187.2h0M544.3 247.7h0M580.8 226.1h0M724.2 240.7h0M764.4 259.2h0M515.7 247.6h0M537.4 251.9h0M605.1 236.7h0M540.6 222h0M705.7 254.4h0M610.5 228.4h0M537.4 249.8h0M515.9 257.5h0M728.1 230h0M719.5 234.9h0M636.9 239.1h0M673.2 258h0M557.1 244.3h0M665.9 181h0M711.6 215.8h0M553.6 241.6h0M543.4 237h0M752.9 233.4h0M600.4 208.2h0M586.1 247.3h0M534.7 230h0M635.5 259.3h0M735.9 247.4h0M690.1 249.7h0M667.8 258.8h0M674.1 188.6h0M673.4 253h0M517.3 233.6h0M691.8 215.1h0M690.2 220.1h0M747.2 238h0M756.9 232.7h0M768.9 209.9h0M641.4 184.7h0M752.7 242.6h0M675.2 246.1h0M740.2 247.1h0M523.6 259h0M710.4 255.8h0M650.1 207.1h0M664.9 258.3h0M708 166h0M740.3 249.3h0M586.6 246.6h0M749.7 226.6h0M681.3 256.7h0M761.7 233.1h0M622.4 209h0M672.4 243.5h0M582.8 236.7h0M579 234.1h0M747.3 235.5h0M771.6 175.6h0M545 281.6h0M622.5 346.4h0M615.7 346.5h0M531.3 295.4h0M531.4 316.9h0M629.3 336h0M562.3 269.7h0M514 276.2h0M522.7 317h0M549.7 284.7h0M585.4 332.4h0M565.9 278.4h0M572.9 337.7h0M539.1 324.9h0M632 337.2h0M549.4 318.7h0M521.1 303.6h0M579.1 273.8h0M560.3 323.6h0M542.1 334.7h0M769.4 296.9h0M549.8 276.4h0M759.8 334.4h0M642 259.7h0M612.9 264.9h0M534.2 287.9h0M563.4 324.2h0M618.2 262.9h0M649.3 341.7h0M605.8 330.5h0M593.8 342.8h0M775 287.6h0M606.5 334.3h0M573.4 326.9h0M573.2 327.4h0M575.6 261.6h0M563.5 321.7h0M527.5 311h0M531.5 307.1h0M599.7 267.7h0M759.9 343.2h0M546.4 286.5h0M625.8 346.7h0M551.2 327.4h0M620.6 348.9h0M767.8 305.5h0M542.4 271.1h0M585.7 275h0M585.7 275.1h0M540.5 276.3h0M772.6 301.9h0M634.6 339.9h0M569.9 268.7h0M586.8 261.3h0M567.8 326.9h0M762.6 340.7h0M514.9 299.9h0M552.4 314.7h0M565.7 275.9h0M539.8 296.5h0M619.6 262.5h0M539.2 335.4h0M637.4 341.9h0M610.4 338h0M524.4 288h0M641.2 347.5h0M623.1 336h0M594.2 329.3h0M534 307.4h0M638.3 341.6h0M770.2 335.4h0M556.9 317.6h0M773.3 270.3h0M534.5 301.2h0M605.1 334h0M751.5 341.2h0M769.2 300.8h0M579.8 271.1h0M515.4 324.5h0M625.5 339.2h0M531.8 299.9h0M627.6 337.7h0M519.4 310h0M549.3 325.4h0M543.5 330.5h0M758.8 340.8h0M556.7 332.6h0M588.7 328.6h0M525.9 307.2h0M515.8 294.1h0M576.4 271h0M568 276.7h0M545.9 338.7h0M520.4 291.4h0M557.3 280.9h0M633.7 343.7h0M626.4 335.8h0M621.3 334.1h0M563.5 272.7h0M554.4 278.9h0M553.3 321.4h0M552 281.3h0M549.5 278.6h0M756 335.4h0M641.3 341h0M576.7 275.6h0M518.8 311.7h0M538.1 294.2h0M541.9 313.4h0M541.8 308.9h0M520.5 312.3h0M635.7 339.4h0M553 326.3h0M757.1 329.9h0M527.5 297.7h0M542.5 308.3h0M544.3 269.2h0M532.5 308h0M517.1 270.9h0M546.2 312.9h0M556.2 264.9h0M521.4 292h0M555 268.6h0M558.3 322.9h0M574.3 327.6h0M640 345.1h0M541.7 307.8h0M567 275.2h0M558.8 339.1h0M563.7 277.1h0M588.9 347.8h0M601.1 329.9h0M531.7 286.7h0M552.3 315.6h0M523.2 292.3h0M562.1 333.7h0M581.2 334.6h0M640.3 347h0M556 324.8h0M619.3 333.6h0M765.5 332.7h0M604.4 336.9h0M569.5 326.4h0M535.3 291.8h0M755.7 341.7h0M770.6 314.4h0M527.4 313.1h0M545.4 300h0M546.3 284.2h0M526.2 319.4h0M575.6 328.4h0M604.5 331.8h0M536.3 293.9h0M760.8 323.6h0M551.9 321.7h0M532 287.2h0M569.9 260.1h0M655.1 348.9h0M532.5 306.9h0M595.9 337h0M583.5 262.8h0M754.4 345.6h0M516.5 326.3h0M584.4 343.1h0M565.1 274.7h0M575.4 265h0M529.3 304.5h0M548.2 316.1h0M557.7 275.5h0M549.8 327.1h0M536.3 287.5h0M539.6 299h0M619.9 343.5h0M536 305.7h0M559.7 323.6h0M586.7 330.4h0M534.2 306.9h0M516.2 297.5h0M582.4 334.1h0M523.8 290.4h0M573.8 324.1h0M520.1 299.1h0M535.1 296.8h0M519 296.2h0M553.5 273h0M521.1 308h0M522.7 319.7h0M587.2 328.8h0M546.7 292.5h0M573.3 325.2h0M771.5 282.4h0M601.8 334h0M778.2 294.9h0M534.1 303.8h0M527.9 290.2h0M557.3 324.7h0M543.9 300.7h0M546.1 306.6h0M538.5 296.4h0M581 274h0M551.2 320.1h0M641.2 345.4h0M636.2 340.3h0M545.1 293.7h0M607.7 331.1h0M769 301.3h0M625.3 338.1h0M544.4 322.3h0M557.9 276.3h0M664.8 260.4h0M537.6 307.6h0M531.2 267.8h0M613.6 339.8h0M545 313.7h0M521.2 291.5h0M515.5 294.7h0M528.9 297.6h0M569.5 332h0M754.1 349.3h0M755.2 343.5h0M572.3 276.9h0M559.9 319.5h0M564.5 272.9h0M615.4 264.3h0M590.7 348.4h0M758.2 327h0M547.2 308.3h0M522.6 292.2h0M550 281h0M536.9 310.3h0M575.1 329.9h0M573.4 336h0M646.5 347.1h0M765.4 314.7h0M617.1 335.7h0M563 324.2h0M543 297.5h0M650.1 348.8h0M579.7 326.3h0M753.5 337.4h0M555.8 274.8h0M551.5 315.2h0M583.5 272.7h0M535.9 292.2h0M568.3 325.4h0M646.6 342.8h0M770.3 294.2h0M540.5 308h0M750.8 347.1h0M550.4 319.8h0M540.5 330.4h0M577.4 349.3h0M571.6 276.5h0M617.5 338h0M636.2 343.9h0M550.5 279h0M606.4 333.1h0M647 342.6h0M538.9 301.4h0M547.9 320h0M511.8 293.2h0M540.2 280.3h0M570.1 327.2h0M545.1 300.8h0M544.2 325.4h0M546.1 286.7h0M768.4 261.8h0M549.1 339.5h0M607 344.2h0M574.5 273.2h0M650.3 345.7h0M533.6 319.6h0M573.7 348.1h0M619.7 335.6h0M543.3 279.7h0M579.2 275.3h0M615.7 335.4h0M571.5 325.3h0M549 321.9h0M585.8 268h0M633 337.3h0M544.4 310.5h0M752.6 341.3h0M517.4 303.5h0M759.4 331.3h0M514.8 282.9h0M553.7 318.9h0M610.5 266.8h0M553.8 317.1h0M556.6 280.7h0M605.7 343.4h0M770 318.4h0M559.3 323.3h0M516.1 299.2h0M624.8 347.8h0M562 269.9h0M553.4 317h0M604.6 337.2h0M552.4 277.6h0M537.7 292.6h0M541.3 304h0M518.2 266.3h0M613.9 263.2h0M651.3 343.6h0M606.4 332.6h0M537.9 305h0M539.4 334.8h0M540.7 290.3h0M612.4 347.7h0M790.1 271.5h0M531 302.5h0M524.8 308.1h0M527.9 315.3h0M539.9 295.8h0M535.6 333h0M538.1 340.8h0M640.9 345.8h0M636 342.8h0M758.3 338.2h0M758.2 333.5h0M579 325.5h0M582.1 331.5h0M532.2 303.7h0M602 343.9h0M771 283h0M606.1 336h0M554.8 277.7h0M567.6 323.6h0M676 259.1h0M595.8 336.8h0M566.4 326h0M597.9 271h0M540.8 286.8h0M548.4 338.4h0M661.6 260.4h0M578.5 271h0M793.1 292.5h0M547.1 320.6h0M548.8 283.3h0M637.9 340.3h0M595.4 271.7h0M548 315.6h0M632.6 341.6h0M565.7 327.7h0M596.3 270.9h0M569.7 274.1h0M607.2 343.2h0M654.6 349.5h0M540.5 345.3h0M705.5 259.2h0M583.8 336.2h0M689.5 259h0M614.8 337.3h0M641.5 339.7h0M756.7 345.6h0M517.9 266.1h0M581.6 269.3h0M556 276.7h0M511.8 295.8h0M576.4 273.4h0M757 330.7h0M539.6 288h0M554.2 276.7h0M620 333.7h0M544.9 291.1h0M569.3 272.9h0M770.5 290.9h0M589.1 270.6h0M756.2 339.7h0M634.1 338.8h0M543.3 308.8h0M756.1 332.7h0M515.8 293.6h0M543.8 304h0M542.5 298.3h0M527.3 288.5h0M563.5 277.9h0M519.1 295.9h0M546.2 306.2h0M607.1 341.3h0M599.3 268.8h0M767.6 269.9h0M544 290.2h0M587.2 332.1h0M565.4 278.8h0M543.7 298.9h0M570.6 347h0M600.9 270.3h0M527.6 333h0M523.2 300.7h0M544.8 301.9h0M575.6 326.4h0M538.5 301.7h0M539.1 269.4h0M594 330.9h0M513.4 292.8h0M536.8 287.8h0M545.2 295.3h0M533.8 294.5h0M562.5 275.7h0M639.3 339.4h0M581.6 274.8h0M757.1 342.5h0M576.9 334h0M641.9 259.2h0M575.1 333.6h0M643.4 344.4h0M569.2 340.6h0M576.2 327.7h0M574.2 272.7h0M537.5 312.9h0M575.8 330.5h0M582.7 274.3h0M519.6 334.2h0M544.5 311.4h0M543.2 300.9h0M616.4 260.6h0M543.7 302.8h0M765.3 313.4h0M545.7 339.2h0M531.7 285.5h0M540.1 308.8h0M622 336.9h0M596.4 330.9h0M558.5 276h0M534.3 289.9h0M542.8 292.2h0M638.8 338.9h0M539.1 287.4h0M524 331.5h0M585.8 334.2h0M611 333.7h0M547.3 310.1h0M548.7 270.6h0M543.6 297.9h0M537.9 308.6h0M545.1 306.4h0M555.6 318.5h0M541.1 292.8h0M641.5 343.5h0M563 349.4h0M574.6 275.7h0M542.6 309.6h0M579.9 275.8h0M632 339.8h0M758.6 348.4h0M542.9 303.5h0M580.1 275.7h0M588.3 343.3h0M546.5 312.3h0M601 269.1h0M581.4 328.9h0M529.7 278.4h0M542.7 333h0M533.5 344.3h0M532.4 289.6h0M768.7 268.3h0M611.3 335.4h0M567.3 276.7h0M638.4 338.3h0M631.8 337.2h0M521.8 306.1h0M642.8 259.3h0M617.5 336.9h0M658.5 348.5h0M531.1 348.6h0M541.4 293.5h0M611.9 331.9h0M597.7 271.3h0M582.8 331.1h0M776.1 301h0M576.1 325.4h0M539.9 300.8h0M557.8 339.5h0M557.1 324h0M639.3 341h0M545 283h0M616.1 332.6h0M596.7 348.7h0M638.2 341.2h0M762.5 333.7h0M563.9 273.5h0M556.1 277.1h0M530.3 298.7h0M588.2 274.2h0M527.3 286h0M609.1 335h0M646.4 342.5h0M564 325.4h0M524.6 287.6h0M556.7 275.9h0M541 305.3h0M523 291.3h0M541.4 298.8h0M544.2 283.4h0M537.7 307.8h0M633.3 344.8h0M561.5 323.6h0M750.3 349h0M525.7 295.2h0M616.5 261.5h0M575.6 331.1h0M773.8 305.5h0M527.2 308h0M600.7 270.3h0M535.8 298.6h0M571.7 276.6h0M574.4 274.9h0M543.2 294.4h0M543.2 286.2h0M600.5 263.4h0M639.8 340.8h0M576.8 276.6h0M543.6 323.7h0M539.5 310.3h0M754.3 349.2h0M519.2 285.9h0M625.1 340.7h0M767 268.8h0M572.7 327.6h0M553.2 322.5h0M592.7 338.6h0M545.9 291h0M527.3 319.7h0M762.6 342.8h0M518.4 318.6h0M542.1 287.9h0M640.8 341.3h0M604.7 331.8h0M552.5 349.3h0M594.1 331.7h0M518.4 292h0M756.2 340h0M669.1 260h0M535.2 294.4h0M590.6 330.1h0M555.2 279.6h0M526 301.8h0M537.7 333.5h0M548.5 285.4h0M556.4 318.8h0M595.8 342.4h0M512.2 347.5h0M587 261.4h0M546.1 304.7h0M625 259.1h0M537.1 305.1h0M571 275.5h0M622.5 345.5h0M670.5 259.6h0M620.2 336.1h0M545.4 311.9h0M533.7 267.5h0M644.1 345.9h0M620.9 339.7h0M539.6 286.6h0M532.3 310.4h0M536.4 334.9h0M546.6 309.9h0M755.1 348.9h0M518.8 317.3h0M534 304.1h0M538.5 277.9h0M545 293.5h0M618.2 335.8h0M539.6 304.6h0M548.6 329.8h0M601.4 335.4h0M564.5 329.9h0M583.2 345.8h0M620.3 344.6h0M518.4 342.1h0M559.8 322.8h0M590.1 330.1h0M555.8 320h0M531.7 281.9h0M562.3 269.1h0M518 280.4h0M755.8 346.5h0M755.1 333.6h0M556.4 262h0M574.8 325.9h0M550.7 319.1h0M613.4 332.3h0M774.5 346.9h0M561.9 321.2h0M561.8 278.9h0M563.4 278.1h0M762 319.4h0M585.8 273h0M587.7 330.3h0M755.6 338h0M548.4 266.3h0M644.7 344.7h0M563.6 329.3h0M571.3 349.1h0M512.6 311.8h0M646.9 349.1h0M590.4 334.7h0M653.5 349h0M526.9 265.6h0M520.2 308.3h0M536.3 319h0M542.6 307.1h0M581.1 335.6h0M565.2 278.4h0M638.1 341.7h0M540.4 299.5h0M561.2 325.9h0M539.9 333h0M538.6 326.6h0M630.5 349.5h0M597.7 330.1h0M575.6 275.6h0M572.8 274h0M524.7 305h0M764.2 320.2h0M758.7 328.3h0M540.6 282.7h0M532.7 308.7h0M523.5 282.7h0M567.2 277h0M592.9 347.9h0M603.8 332.8h0M518.1 302.9h0M546.5 260.7h0M761.3 331.9h0M529.8 300.7h0M539.6 271.7h0M620.5 334.5h0M642.3 340.7h0M590.1 264.5h0M523.8 324.5h0M628.5 343.6h0M518.8 320h0M612.3 335.9h0M584.6 328.3h0M596.1 331.2h0M582.6 332.6h0M766.5 265.7h0M529.6 336.7h0M576.3 327.3h0M539.3 342.7h0M649.1 348h0M585.3 328.2h0M540 277.4h0M524.7 316.1h0M533 295h0M541.7 343.8h0M596.3 330.6h0M575.5 328.3h0M557.3 274h0M555.2 316.8h0M596.8 347h0M521.8 293.3h0M530.7 335.4h0M601.3 341.9h0M546.8 262.6h0M525.8 304.8h0M532.8 312.3h0M654.2 346.8h0M590.2 327.7h0M774.3 307.4h0M583.8 331.9h0M647.2 344h0M538.8 290.1h0M543.2 318.2h0M758.3 331.5h0M757.9 341.9h0M625.6 339.7h0M651.5 346.7h0M534.4 319.3h0M562.1 330.7h0M750.1 345.2h0M558.5 342.8h0M530.3 290.7h0M557.4 275.8h0M526.5 298.8h0M636.2 345.9h0M516.2 294.3h0M622.2 337.9h0M634.6 339.6h0M545.7 265.5h0M545.3 284.9h0M600.8 335.3h0M515.1 330.4h0M653.7 346.7h0M551 281.1h0M586.6 271.5h0M539.8 298.4h0M517.7 325.4h0M525.6 308.1h0M665.7 259.3h0M532.7 317.4h0M615 333.2h0M525.5 298.3h0M542.8 292.3h0M535.9 306.2h0M763.7 315.4h0M576.5 273.1h0M537 306.2h0M628.8 341.8h0M535.9 304.9h0M570 277.8h0M615.1 337.7h0M621 343.4h0M546.2 295.2h0M591.5 272.8h0M594.7 331.6h0M753.8 337.9h0M528.9 303.4h0M564.4 325.4h0M553.3 270.1h0M581.7 274.3h0M524.7 305h0M646.5 342.7h0M530.3 287.2h0M552.1 329.9h0M564.4 328.2h0M561.7 322.5h0M760.5 332.6h0M513.1 331.1h0M547.3 282.3h0M765.8 266.9h0M539.5 291.5h0M530.6 284.8h0M553.9 278.5h0M640.6 343h0M514.5 321.2h0M562.8 322.4h0M538.6 312.4h0M545.6 298h0M629.7 259.2h0M632.7 348.9h0M528.5 314.1h0M537.9 314.8h0M552.2 332.2h0M522.7 320.1h0M615.7 334.4h0M538.1 343.9h0M612.9 334.2h0M570.2 329.1h0M633.4 339.5h0M546.2 316.1h0M614.3 264.2h0M550 345.2h0M549.3 322h0M656.9 261.3h0M584.2 272.2h0M512.6 307.4h0M515.2 329.5h0M566.7 339.9h0M581 273.2h0M546.5 296.5h0M521.8 331h0M566 324.2h0M550.2 278.5h0M520.8 289h0M592.2 333.5h0M561.7 276.9h0M537.1 310.6h0M540 272.6h0M601.4 268h0M587.3 270.4h0M516.2 314.3h0M530.7 274.7h0M539.8 297.9h0M595.3 266.1h0M626.8 347.2h0M577.2 327.1h0M542.2 298.8h0M759.7 348.5h0M768 305.9h0M543 326.3h0M515.2 309.4h0M540.1 320.4h0M593.4 269.7h0M557 320.5h0M643.6 341.9h0M518.8 284.2h0M625.1 341h0M556.7 260.2h0M543.6 295.2h0M613.2 260.1h0M538.4 291.1h0M539.9 305.1h0M612.2 264.6h0M622.5 261.2h0M771.9 269.6h0M553.4 319.2h0M578.3 276.8h0M531.3 304.7h0M529 279.2h0M544.7 346.4h0M610.3 344h0" fill="none" stroke="#131313" stroke-width="4.2" stroke-linecap="round"/>
<g clip-path="url(#ca2b)">
<g filter="url(#bl5)">
<path d="M703.7 305.8C703.5 308 701.8 310.1 698.8 311.8C695.9 313.5 691.3 315 686.1 316C680.9 317 674.2 317.6 667.5 317.7C660.8 317.9 653 317.6 645.8 316.8C638.6 316.1 631 314.9 624.4 313.4C617.9 311.9 611.5 310 606.5 308C601.6 306 597.4 303.6 594.9 301.3C592.3 299.1 591 296.7 591.2 294.5C591.5 292.4 593.2 290.3 596.2 288.6C599.1 286.9 603.7 285.4 608.9 284.4C614.1 283.4 620.8 282.8 627.5 282.6C634.2 282.5 642 282.8 649.2 283.5C656.3 284.2 664 285.5 670.6 286.9C677.1 288.4 683.5 290.4 688.4 292.4C693.4 294.4 697.5 296.8 700.1 299C702.6 301.3 703.9 303.7 703.7 305.8z" fill="#353535"/>
<path d="M647.5 304.4C648.2 298.3 654.1 290.9 662.1 285.5C670.2 280.1 681.3 275.1 695.6 271.9C709.9 268.8 736.5 265.3 748 266.7C759.5 268.1 762.3 273.8 764.7 280.3C767.2 286.8 764.7 297.7 762.6 305.4C760.5 313.1 758.1 321.4 752.2 326.4C746.2 331.3 738.2 334 727 335.1C715.9 336.3 696.7 335.3 685.2 333.1C673.7 330.8 664.2 326.5 658 321.7C651.7 317 646.8 310.4 647.5 304.4z" fill="#3e3e3e"/>
<path d="M664.2 303.7C665.5 298.8 671.9 292.1 678.9 287.6C685.9 283.2 694.6 279.8 706.1 277.2C717.6 274.5 738.9 270.6 748 271.5C757.1 272.4 758.8 276.7 760.5 282.4C762.3 288 760.5 298.5 758.4 305.4C756.4 312.3 754.3 319.7 748 323.8C741.7 328 730.5 330.1 720.8 330.5C711 331 697.6 328.9 689.4 326.8C681.2 324.6 675.8 321.4 671.6 317.6C667.4 313.7 663 308.7 664.2 303.7z" fill="#5c5c5c"/>
</g><g filter="url(#bl2)">
<path d="M673.7 304.4C673.7 299.8 678.4 294.4 684.1 290.8C689.9 287.1 700 284.7 708.2 282.4C716.4 280.1 726 278.4 733.3 277.2C740.7 275.9 747.8 273.8 752.2 275.1C756.5 276.3 758.6 279.6 759.5 284.5C760.4 289.4 759.1 298.4 757.4 304.4C755.7 310.3 753.7 316.4 749 320.1C744.3 323.7 736.3 325.5 729.1 326.4C722 327.2 713.6 326.7 706.1 325.3C698.6 323.9 689.5 321.5 684.1 318C678.7 314.5 673.7 308.9 673.7 304.4z" fill="#bababa"/>
<path d="M682 304.4C682.4 301.1 686.7 297.2 691.5 294.5C696.2 291.8 703.3 290.2 710.3 288.3C717.3 286.3 727 284.2 733.3 283C739.6 281.9 744.7 280.4 748 281.3C751.3 282.3 752.6 284.8 753.2 288.7C753.8 292.5 753.1 299.8 751.7 304.4C750.4 309 748.6 313.6 744.8 316.3C741.1 319 735.6 320.1 729.1 320.7C722.7 321.3 712.7 321.2 706.1 320.1C699.5 319 693.4 316.8 689.4 314.2C685.3 311.6 681.7 307.7 682 304.4z" fill="#9c9c9c"/>
<path d="M690.4 304.4C690.4 302.1 693.4 299.7 696.7 298.1C700 296.5 706.6 295 710.3 295C714 295 716.2 298.4 718.7 298.1C721.1 297.7 722.2 294.8 725 292.9C727.7 290.9 731.9 287.3 735.4 286.6C738.9 285.9 743.8 285.7 745.9 288.7C748 291.6 748.7 299.8 748 304.4C747.3 308.9 744.8 313.5 741.7 315.9C738.6 318.2 733 318.9 729.1 318.4C725.3 317.9 722.2 313.2 718.7 312.7C715.2 312.3 711.9 315.6 708.2 315.5C704.5 315.3 699.7 313.5 696.7 311.7C693.7 309.9 690.4 306.6 690.4 304.4z" fill="#dcdcdc"/>
</g><g filter="url(#bl1)">
<path d="M747.5 306.4C747 309 745.9 311.7 744.7 313.8C743.4 315.9 741.6 317.9 739.8 319.2C738 320.5 735.8 321.3 733.8 321.5C731.8 321.7 729.7 321.3 728 320.4C726.2 319.4 724.6 317.8 723.4 315.9C722.2 314 721.3 311.5 721 309C720.6 306.5 720.7 303.6 721.2 301.1C721.8 298.5 722.8 295.8 724.1 293.7C725.4 291.6 727.2 289.6 729 288.3C730.8 287 733 286.1 734.9 285.9C736.9 285.8 739 286.2 740.8 287.1C742.5 288.1 744.2 289.7 745.4 291.6C746.5 293.5 747.4 296 747.8 298.5C748.1 301 748 303.9 747.5 306.4z" fill="#f4f4f4"/>
<path d="M743.8 306.1C743.4 308.1 742.6 310.2 741.6 311.9C740.7 313.6 739.4 315.2 738 316.3C736.7 317.3 735.1 318 733.7 318.2C732.3 318.4 730.8 318.1 729.5 317.3C728.3 316.6 727.1 315.4 726.3 313.9C725.5 312.4 724.9 310.4 724.6 308.5C724.4 306.6 724.5 304.3 724.9 302.2C725.3 300.2 726.1 298.1 727.1 296.4C728.1 294.7 729.4 293.1 730.7 292.1C732 291 733.6 290.3 735 290.1C736.5 290 738 290.3 739.2 291C740.5 291.7 741.7 293 742.5 294.4C743.3 295.9 743.9 297.9 744.1 299.8C744.3 301.8 744.2 304.1 743.8 306.1z" fill="#444"/>
<path d="M740.5 306.3C740.2 307.8 739.6 309.4 739 310.7C738.3 311.9 737.4 313.1 736.4 313.9C735.5 314.6 734.4 315.2 733.4 315.3C732.4 315.4 731.3 315.2 730.5 314.7C729.6 314.2 728.8 313.3 728.2 312.2C727.7 311.1 727.3 309.7 727.1 308.3C727 306.8 727.1 305.2 727.4 303.7C727.7 302.2 728.3 300.6 728.9 299.3C729.6 298.1 730.6 296.9 731.5 296.1C732.4 295.4 733.5 294.8 734.5 294.7C735.5 294.6 736.6 294.8 737.4 295.3C738.3 295.8 739.1 296.7 739.7 297.8C740.2 298.9 740.6 300.3 740.8 301.7C740.9 303.2 740.8 304.8 740.5 306.3z" fill="#2e2e2e"/>
</g></g></g>
<rect x="510.4" y="144" width="136.6" height="117" fill="none" stroke="#5a5a5a" stroke-width="1.1"/>
<rect x="650.6" y="144" width="127.8" height="117.5" fill="none" stroke="#5a5a5a" stroke-width="1.1"/>
<path d="M509.3 62H799.3V351.5" fill="none" stroke="#222" stroke-width="1.5"/>
<path d="M509.3 61V351.5H800.3" fill="none" stroke="#111" stroke-width="2.7"/>
<path d="M509.3 351.5v8M509.3 351.5h-8M531.1 351.5v4M509.3 329.7h-4M543.9 351.5v4M509.3 317h-4M552.9 351.5v4M509.3 307.9h-4M560 351.5v4M509.3 300.9h-4M565.7 351.5v4M509.3 295.2h-4M570.6 351.5v4M509.3 290.3h-4M574.8 351.5v4M509.3 286.1h-4M578.5 351.5v4M509.3 282.4h-4M581.8 351.5v8M509.3 279.1h-8M603.6 351.5v4M509.3 257.3h-4M616.4 351.5v4M509.3 244.6h-4M625.4 351.5v4M509.3 235.6h-4M632.5 351.5v4M509.3 228.5h-4M638.2 351.5v4M509.3 222.8h-4M643.1 351.5v4M509.3 218h-4M647.3 351.5v4M509.3 213.8h-4M651 351.5v4M509.3 210.1h-4M654.3 351.5v8M509.3 206.8h-8M676.1 351.5v4M509.3 185h-4M688.9 351.5v4M509.3 172.2h-4M697.9 351.5v4M509.3 163.2h-4M705 351.5v4M509.3 156.2h-4M710.7 351.5v4M509.3 150.4h-4M715.6 351.5v4M509.3 145.6h-4M719.8 351.5v4M509.3 141.4h-4M723.5 351.5v4M509.3 137.7h-4M726.8 351.5v8M509.3 134.4h-8M748.6 351.5v4M509.3 112.6h-4M761.4 351.5v4M509.3 99.8h-4M770.4 351.5v4M509.3 90.8h-4M777.5 351.5v4M509.3 83.8h-4M783.2 351.5v4M509.3 78.1h-4M788.1 351.5v4M509.3 73.2h-4M792.3 351.5v4M509.3 69h-4M796 351.5v4M509.3 65.3h-4M799.3 351.5v8M509.3 62h-8" fill="none" stroke="#111" stroke-width="1.3"/>
<text x="579.5" y="124" text-anchor="middle" fill="#1a1a1a" font-size="20" stroke="#1a1a1a" stroke-width="0.8">0.031%</text>
<text x="715.5" y="124.7" text-anchor="middle" fill="#1a1a1a" font-size="20" stroke="#1a1a1a" stroke-width="0.8">0.112%</text>
<clipPath id="cb1"><rect x="951" y="62" width="289.8" height="289.5"/></clipPath>
<g clip-path="url(#cb1)">
<clipPath id="cb1b"><path d="M1087.5 353.6L1087.3 332.6L1087.1 311.7L1087.1 290.8L1087.7 271.9L1088.7 259.4L1090 246.8L1092.1 236.3L1096.9 230L1104.2 226.9L1112.6 228L1121 230L1127.3 233.2L1131.5 238.4L1134.6 246.8L1139.8 254.1L1148.2 261.5L1158.7 266.7L1167 271.5L1166.2 280.3L1161.2 297L1152.8 313.8L1144.4 330.5L1136.1 343.1L1128.3 353.6z"/></clipPath>
<path d="M1087.5 353.6L1087.3 332.6L1087.1 311.7L1087.1 290.8L1087.7 271.9L1088.7 259.4L1090 246.8L1092.1 236.3L1096.9 230L1104.2 226.9L1112.6 228L1121 230L1127.3 233.2L1131.5 238.4L1134.6 246.8L1139.8 254.1L1148.2 261.5L1158.7 266.7L1167 271.5L1166.2 280.3L1161.2 297L1152.8 313.8L1144.4 330.5L1136.1 343.1L1128.3 353.6z" fill="#1b1b1b"/>
<path d="M1087.2 337.7h0M1087.1 330.2h0M1088 339.5h0M1087.4 345.8h0M1088.5 341.6h0M1089.8 346.4h0M1087.7 349.4h0M1087.4 340.7h0M1087.6 336.4h0M1088.2 332.1h0M1085 332.9h0M1089.7 348.4h0M1088.3 332.5h0M1087.9 346.8h0M1088.2 345.4h0M1084.9 347.3h0M1087.5 337.6h0M1085.9 338.6h0M1088.2 336.1h0M1088.7 333.6h0M1084.7 345.7h0M1087.4 348.5h0M1091.1 336.5h0M1085.3 337.4h0M1086.8 343.4h0M1088.3 350.3h0M1088.3 339.1h0M1087.6 347.2h0M1085.5 315.8h0M1087.6 331.3h0M1087.6 321.6h0M1089.3 316.6h0M1088.5 317.2h0M1088 328.4h0M1090.3 323.1h0M1085.3 312.7h0M1085.8 317.5h0M1088.1 325.4h0M1089.2 311.4h0M1086.8 322.8h0M1087.9 323.8h0M1087.8 322.4h0M1085.7 315.8h0M1086.8 323.8h0M1087.5 320h0M1089.4 325.7h0M1089.2 320.6h0M1086.4 325.8h0M1085.4 313.3h0M1085.6 323.3h0M1085.3 317.8h0M1085.4 310.4h0M1085.1 312.4h0M1089.2 325.9h0M1086.3 320.3h0M1088.4 319.8h0M1086.3 319h0M1087.5 317.3h0M1088.1 317.7h0M1086.5 322.5h0M1086.8 317.9h0M1087.3 323.3h0M1086.8 330.8h0M1088.8 308h0M1085.4 302.4h0M1087.1 306.7h0M1086.8 304.8h0M1087.8 307.9h0M1086.5 310.5h0M1085.9 302.1h0M1087.8 290.1h0M1086.1 293.5h0M1085.4 307.6h0M1089.2 291.2h0M1087.1 304.3h0M1085 308.6h0M1084.8 306.3h0M1086 304.3h0M1088.6 305.3h0M1088.9 290.5h0M1088.9 306h0M1085.1 307.2h0M1086.7 303.2h0M1085.8 307.9h0M1087.7 302.6h0M1085.8 311.2h0M1087.3 290.9h0M1089.8 310.1h0M1085.7 304.4h0M1085 296.6h0M1087.2 307.9h0M1086.4 301.7h0M1085.6 300.9h0M1086.7 295.9h0M1083.6 307.4h0M1086.8 293h0M1085.2 296.3h0M1085.8 295.5h0M1086.4 274.6h0M1088 276h0M1090.4 276.4h0M1086.3 278.2h0M1088.3 275.6h0M1085.6 281.2h0M1088.5 286.3h0M1088.6 275.9h0M1088.2 273h0M1086.3 285.9h0M1087.5 271.5h0M1088 277.2h0M1087.5 272h0M1088 284.8h0M1086.6 279.7h0M1088.2 279.2h0M1087.8 283.9h0M1087.3 276.6h0M1085.9 288.8h0M1083.7 279.7h0M1089.6 284.6h0M1085.9 286.5h0M1085.5 272.9h0M1086.1 285.4h0M1086.7 276.5h0M1085.4 288.2h0M1086.6 285.1h0M1086.8 288.5h0M1086.2 287.8h0M1086.2 274.4h0M1090.1 276.2h0M1089.4 293h0M1088.5 264.1h0M1087.2 257.1h0M1086.8 269.1h0M1086.8 270.9h0M1087.4 268.1h0M1086.8 259.2h0M1089.3 264.9h0M1086 263.3h0M1088.5 267.2h0M1091.2 270.2h0M1088.2 265.8h0M1089.9 264.6h0M1087.4 266.7h0M1088.7 271.3h0M1088.8 266.4h0M1087.8 269.7h0M1088.2 270.1h0M1089.1 270.8h0M1087.8 257.9h0M1088.9 265.7h0M1087.8 265.8h0M1090.2 251.1h0M1088.9 259.7h0M1090.7 254.1h0M1087.9 255.7h0M1089.5 249.2h0M1087.3 253h0M1085.6 253.1h0M1091.3 260.3h0M1091.2 254.8h0M1088.5 246.8h0M1091.9 259.7h0M1089.8 253h0M1090.6 256.8h0M1088.8 260.2h0M1089.5 255.7h0M1090.8 248.9h0M1088.6 254.2h0M1090.7 256.7h0M1087.3 246h0M1091 256.9h0M1088 252.6h0M1090.8 236.8h0M1087.8 244.5h0M1091.5 245.4h0M1090.6 242.9h0M1091.1 244h0M1092 245.1h0M1091.2 241.3h0M1092.5 239.8h0M1090.1 244.3h0M1089.8 244.9h0M1093 239.6h0M1090 238.1h0M1089.5 234.9h0M1091.1 238h0M1091.1 238.9h0M1090.7 247.2h0M1091.3 240.3h0M1091.2 238.7h0M1093.4 237.1h0M1098.3 230.2h0M1091.8 235.5h0M1095.8 234.4h0M1096 230.4h0M1095.8 235.2h0M1096.9 232.5h0M1091.2 238.8h0M1092.7 234.1h0M1097.6 230.7h0M1096.1 229.8h0M1095.6 231.5h0M1098.9 230.6h0M1101.6 227.5h0M1098.3 230.4h0M1099.4 230.4h0M1098 230.3h0M1105.8 224.3h0M1100.7 228.6h0M1102.6 227.5h0M1100.2 231h0M1104.4 229.9h0M1098 226.1h0M1102 226.6h0M1094.9 229.9h0M1097.2 230.4h0M1103.9 228.4h0M1107.8 225.9h0M1113.9 224.6h0M1109.1 225.9h0M1109.5 229.4h0M1108.6 227.4h0M1106.2 227.8h0M1109.2 225h0M1108 226.7h0M1112.6 228.8h0M1113.1 226.7h0M1111.4 225.4h0M1109.8 229.4h0M1112 232.2h0M1117.1 229.2h0M1116.9 230.9h0M1122 228.7h0M1117.7 230.3h0M1116.9 227.6h0M1120.4 231.1h0M1112.4 226.1h0M1112.2 226.3h0M1116.4 229.2h0M1121.4 227.9h0M1114.4 229.7h0M1119.8 231.1h0M1118.7 229h0M1114.4 229.4h0M1125.2 232.9h0M1123.2 230h0M1127.3 233h0M1127.6 232.3h0M1124.1 229.8h0M1121.4 227.9h0M1124.8 232.2h0M1122.7 231h0M1127 233.6h0M1126.8 229.7h0M1129 230.4h0M1130.6 236.3h0M1128.7 234.2h0M1126.5 235.8h0M1131.8 237.9h0M1129 236.6h0M1128.1 238h0M1133.1 234.9h0M1127.7 231h0M1129.9 236h0M1128.5 231.5h0M1128.4 237h0M1134.1 242.2h0M1130.8 243.6h0M1134.7 243.3h0M1131.9 239.9h0M1133.8 241.7h0M1133 246.3h0M1135.6 247.1h0M1136.7 245.3h0M1133.8 241.6h0M1131.5 243.6h0M1132.5 243.1h0M1132.2 242.2h0M1134.7 240.1h0M1134.6 243.2h0M1131.9 245.8h0M1137.9 251.6h0M1137.5 247.5h0M1138.9 247.7h0M1135.1 257.6h0M1139.3 251.8h0M1134.9 254.5h0M1140.1 255.7h0M1134.7 249h0M1138.8 252.4h0M1138.4 250.9h0M1140.1 252.7h0M1136.6 243.3h0M1138.5 252.1h0M1139.8 253.4h0M1134.4 248.7h0M1144.2 261.6h0M1136.8 254.7h0M1146.4 259.7h0M1144.1 259.9h0M1140.2 255.6h0M1140.7 255.4h0M1144.3 257.3h0M1143.8 257.5h0M1144.6 260.7h0M1145.1 258.1h0M1145.6 258.2h0M1144.1 256.8h0M1141.5 254.4h0M1140.4 256.4h0M1152.2 259.5h0M1144.2 259.5h0M1138 255.5h0M1141.5 260.3h0M1148.5 262.1h0M1148.5 263.7h0M1154.6 266.1h0M1150.1 262.5h0M1150.9 262h0M1151.6 260.3h0M1152 260.9h0M1151.4 262.6h0M1152.2 261.6h0M1158 266.9h0M1148.6 259.7h0M1151.2 262.3h0M1153.7 263.7h0M1156.3 266.3h0M1153.7 263.9h0M1158.6 266.8h0M1155.9 265.4h0M1151 261.1h0M1157.8 266.2h0M1167.7 272.6h0M1160.8 268h0M1161.6 270h0M1163.2 269.9h0M1161.9 267.6h0M1159 267.6h0M1160.6 267.1h0M1161.3 269h0M1162.5 270.7h0M1167.1 272.1h0M1159.5 268.3h0M1162.4 267.9h0M1165.9 269.3h0M1159.5 268.7h0M1165.9 273.2h0M1164.8 269.6h0M1166 278.9h0M1167.7 275.3h0M1168.6 271.7h0M1166.3 275.9h0M1166.4 275.7h0M1166.7 270.5h0M1167.6 279.7h0M1169.5 272.1h0M1165.5 279.4h0M1166.8 275.5h0M1166.4 277.2h0M1170.1 274.4h0M1168.8 277.2h0M1166.3 272.4h0M1164.6 279.7h0M1160.8 283.5h0M1164.5 289.3h0M1159.9 297.2h0M1160.3 298.3h0M1163.9 289.6h0M1159.8 296.4h0M1159.9 294.8h0M1164.7 283.8h0M1164 286h0M1166.3 284.9h0M1167 295.8h0M1165.9 283.1h0M1161.7 285.6h0M1165.1 282.3h0M1163.3 291.5h0M1165.8 280.4h0M1161.3 294.9h0M1159.7 291.2h0M1161.3 297.1h0M1162.9 296.2h0M1165 287.1h0M1163 288.7h0M1167.5 279.8h0M1161 293.2h0M1161.3 293h0M1160 292.5h0M1163.4 289.7h0M1166.6 288.6h0M1162.6 292.8h0M1155.9 306.1h0M1162.6 299.9h0M1160.3 299h0M1157.3 302.6h0M1161.2 301.8h0M1156.2 304.9h0M1156.6 306.8h0M1155.8 301.7h0M1157.2 304h0M1159.5 300.6h0M1163.4 298.2h0M1158.6 299.3h0M1152.5 310.8h0M1161.7 294.8h0M1157.1 305.6h0M1156.5 307.3h0M1164.6 294.2h0M1160.8 301h0M1159.9 299.2h0M1161 300.8h0M1158.5 300.5h0M1163 298.8h0M1155.7 310.2h0M1157.1 304.8h0M1157.6 302.2h0M1152.9 309h0M1156.4 310.2h0M1156.4 302h0M1153.4 310.1h0M1159 301.3h0M1155.6 307.4h0M1149.2 321.4h0M1150.8 314.4h0M1151.6 316.4h0M1150.9 316.6h0M1148.9 312.7h0M1144.1 331h0M1152.2 315.3h0M1150.2 313.2h0M1149.4 320.1h0M1143.6 327.9h0M1149.8 317.4h0M1146.1 328.9h0M1147.8 328.3h0M1149.9 315.6h0M1151.8 313.7h0M1151.8 317h0M1149.9 318.2h0M1150.5 323.6h0M1144.8 328.8h0M1146.8 322.7h0M1151.2 318h0M1151.7 313.9h0M1151.5 319.4h0M1144.8 330.1h0M1150.6 319.4h0M1150.6 321.9h0M1151.5 323.4h0M1149.4 317.7h0M1146.6 328.8h0M1150.1 321.5h0M1147.5 323.8h0M1135.8 340.4h0M1137.7 337.7h0M1142 337.2h0M1136.5 343h0M1138.5 337.6h0M1140.7 335.7h0M1143.6 328.4h0M1145.8 332.5h0M1141.8 333.8h0M1141.4 337.5h0M1135.5 339.1h0M1135.1 339h0M1141.6 333h0M1141.7 340.5h0M1142.1 331.5h0M1134.1 344.4h0M1137.9 345h0M1137.1 340h0M1139.8 334.7h0M1141 337.8h0M1139.4 334.9h0M1144.9 334.8h0M1139 340.7h0M1136.1 337.8h0M1137.4 341.7h0M1134.4 343.6h0M1133.1 348.9h0M1133.3 348h0M1135.9 345h0M1134.8 346h0M1128.1 349.9h0M1134.7 345.5h0M1134.4 343.1h0M1134.9 346.1h0M1129.1 349.4h0M1131.5 349.5h0M1133.3 346h0M1135.5 345.5h0M1129.1 350.1h0M1132.1 349.3h0M1137 344.8h0M1101.9 349.7h0M1092 349.4h0M1093.4 231.6h0M1107.1 228.4h0M1105.4 218.1h0M1114 220h0M1108.2 231.6h0M1110.3 224.5h0M1110.4 227.8h0M1118.9 221.9h0M1117 218.9h0M1099.5 219.3h0M1120.5 223.6h0M1100.4 232.4h0M1131.3 237.1h0M1116 231.4h0M1120.4 235h0M1113 229.9h0M1111.5 218.8h0M1117.2 228.4h0M1114.4 236.2h0M1120.2 236.3h0M1090.4 220.3h0M1110.4 237.3h0M1117.8 236h0M1100.1 223.7h0M1119 236.8h0M1108.3 235h0M1125.5 219h0M1102.5 223.3h0M1096.2 231.7h0M1089.7 218.3h0M1103.7 221.1h0M1117.7 222.2h0M1099 223.1h0M1108.4 226.1h0M1123.3 233.2h0M1104.7 237h0M1131.5 219.5h0M1113.8 221.6h0M1108.3 230.4h0M1091.3 227.5h0M1107.5 221.6h0M1098.1 222.1h0M1111.7 237.4h0M1111.4 237.4h0M1103 223.3h0M1118.6 233.8h0M1102.8 236h0M1109.8 236.9h0M1121 222.1h0M1112.9 230.9h0M1103.7 223.8h0M1116.6 230.2h0M1096.9 231.7h0M1109.2 227.4h0M1120.5 234.1h0M1105.6 237h0M1099 234h0M1099.4 232.4h0M1113.4 220.8h0M1120.1 217.9h0M1105.7 222.8h0M1100.5 218h0M1125.6 225h0M1111.8 226.6h0M1098.8 232.2h0M1088.2 222.1h0M1116.4 229.6h0M1109 231h0M1104.2 230.3h0M1131.7 232.4h0M1122.7 223.5h0M1125.2 230.4h0M1108.7 223h0M1099.9 224.4h0M1125.3 227.4h0M1107.3 229.3h0M1104.7 219.1h0M1102.4 219.8h0M1096.7 238h0M1102.2 230.5h0M1128.8 227.9h0M1083.9 226.3h0M1099.1 233.4h0M1111.4 229.5h0M1129 228.5h0M1128.4 233.2h0M1095.6 229.5h0M1105.2 219.9h0M1121.5 224.8h0M1122.4 220.2h0M1116.7 233.5h0M1092.9 225.6h0M1121.9 222h0M1123 231.5h0M1106.6 217.5h0M1101.3 229.8h0M1113.1 238.1h0M1095.4 222.3h0M1108.1 229.6h0M1097.9 223.8h0M1111.2 230.2h0M1123.1 236.5h0M1099.3 231.1h0M1101.7 230.6h0M1102.3 231.8h0M1114.2 225.6h0M1115.9 225h0M1111 231.9h0M1102.4 234.6h0M1099 224.3h0M1098.7 231.7h0M1124.1 226.4h0M1111.4 228.7h0M1107.9 235.5h0M1114.6 234.4h0M1104.6 228.6h0M1118.4 231.4h0M1105.6 230.9h0M1119.4 225.6h0M1108.9 220.1h0M1107.8 235.3h0M1105.7 220.5h0M1119.2 227.9h0M1134.3 233.3h0M1104.9 225.2h0M1116.2 238.1h0M1117.9 236h0M1131.5 231.7h0M1107.7 236.4h0M1127 229.9h0M1112.3 237.5h0M1124.1 229.9h0M1113.8 230.7h0M1115.4 218.5h0M1120 222.9h0M1109.6 227.8h0M1122 231.6h0M1115.7 224.1h0M1097.9 234h0M1102.9 229.6h0M1100.4 234.7h0M1098.8 219.5h0M1125.9 235h0M1123.8 217.7h0M1121.2 235.4h0M1100.3 232.2h0M1105.7 233.5h0M1113.2 232.4h0M1101 225.1h0M1111.1 237.1h0M1102.2 238.1h0M1111.2 238h0M1112.7 232.8h0M1115.9 225.6h0M1093.2 223.2h0M1112.2 229.9h0M1111.7 228.9h0M1116.9 226.4h0M1114.2 236.7h0M1105.7 223h0M1106.6 224.1h0M1113.8 238h0M1096.1 237.9h0M1125.2 232h0M1114.1 221h0M1120.1 222.7h0M1106.1 231.7h0M1115.1 228.4h0M1107.3 220.5h0M1117.5 219.9h0M1105.5 228.4h0M1111.1 222.8h0M1110.7 235.4h0M1101 237.3h0M1116.5 236.9h0M1106.1 227.4h0M1118.6 228.8h0M1101.4 222.9h0M1110 236h0M1099.1 232.3h0M1107 223.1h0M1110.7 226.2h0M1099.6 217.6h0M1119.9 227.3h0M1130.5 231.9h0M1092.6 231.9h0M1076.5 234h0M1084.6 227.1h0M1083.7 229h0M1110.2 230h0M1103.8 227.7h0M1124.5 237.2h0M1145.7 237.4h0M1109.4 218.4h0M1118.4 234.8h0M1113.8 229.2h0M1109.3 222.7h0M1114.5 220.2h0M1120.6 221.5h0M1123.6 221h0M1105.3 234.9h0M1105.5 231.1h0M1122.1 232.8h0M1097.3 223.1h0M1100.1 225.7h0M1114.4 236.6h0M1091.5 230.7h0M1117.1 219.2h0M1113 234h0M1123.3 222.4h0M1109.5 227.1h0M1120.1 226.3h0M1122.7 223.3h0M1102.7 224.7h0M1103 225.7h0M1109.2 218.8h0M1097.3 236.3h0M1091.3 230h0M1099 229.1h0M1118.7 221.2h0M1097.1 221.6h0M1106.3 226.8h0M1117.5 224.4h0M1096.1 222.5h0M1100 223.7h0M1099.4 227.4h0M1096.7 235.9h0M1117.9 225.3h0M1095.9 231.5h0M1106.2 222.6h0M1109.9 220.5h0M1134.1 231.7h0M1108.7 226.9h0M1122.1 222.5h0M1121.7 218.3h0M1133.9 220.5h0M1108.7 221.6h0M1099 233.7h0M1116.8 232.3h0M1108.6 225.8h0M1124.1 236.2h0M1109.3 231.4h0M1117.4 232.3h0M1118.1 220.7h0M1137.9 236.8h0M1127 231.1h0M1125.1 238.2h0M1116 233.9h0M1106.9 230.7h0M1098 236.9h0M1105.2 220.5h0M1109.5 237.4h0M1103.1 220.6h0M1084.8 219.7h0M1104.8 227.2h0M1099 222.4h0M1111 232.7h0M1090.5 226.5h0M1098.6 227.2h0M1110.1 224.3h0M1084.2 222.1h0M1114.5 209.6h0M1100.6 213.5h0M1093.1 223.8h0M1113 218.8h0M1108.1 214.2h0M1097.1 223.2h0M1112.1 218.9h0M1115.3 222h0M1104.6 214.4h0M1116.9 217.9h0M1126 211.3h0M1118.6 219.7h0M1102.2 225.6h0M1103.6 217.3h0M1120.6 212.4h0M1083.9 220.2h0M1103.9 212h0M1103.8 214h0M1096.8 219.7h0M1097 214.3h0M1121.8 222.5h0M1107.7 213.2h0M1115.4 209.4h0M1132.9 214.9h0M1086 211.5h0M1123.9 211.6h0M1096.2 212.8h0M1104.1 211h0M1109.6 214.5h0M1113.6 218.4h0M1113.3 212.7h0M1131.6 219.6h0M1096.5 212.2h0M1110 223.4h0M1100.3 215h0M1103.5 220.3h0M1093.8 221.2h0M1106.3 214h0M1114.3 225.1h0M1117.4 212.9h0M1111.3 215.3h0M1113.7 209h0M1105 207.4h0M1100.8 215.6h0M1123.1 219.2h0M1100 214.7h0M1108.7 207.8h0M1125.1 208.9h0M1104.6 210.8h0M1111.9 221.1h0M1097.8 221.2h0M1120.9 210.8h0M1124.3 209.6h0M1109.2 212.7h0M1091 214.3h0M1108.6 215.4h0M1101.1 225.7h0M1126 223.7h0M1127 225.8h0M1109.7 215.3h0M1116.1 210.2h0M1121.1 222.9h0M1103.5 216.3h0M1084.4 209.4h0M1109.7 211.3h0M1117.8 221.8h0M1099 225.8h0M1111.4 221.2h0M1095.8 217h0M1111.2 224.4h0M1118.2 216.9h0M1123.6 225.7h0M1112.4 218.8h0M1098.4 218.9h0M1110 218.6h0M1087.8 223.7h0M1111.1 221.8h0M1107 210.7h0M1093.7 216.3h0M1108.8 224.9h0M1116.2 211.4h0M1117 214.6h0M1092 207.5h0M1115.8 220.4h0M1122.5 213.7h0M1104.6 219.4h0M1106 221.7h0M1112.1 217.8h0M1096.8 207.1h0M1147.2 230.8h0M1157.8 230.9h0M1162 250.3h0M1144.4 255.4h0M1157.3 244.9h0M1138.4 243.6h0M1171.2 234h0M1143.9 260.5h0M1142.8 255.6h0M1141.4 238.9h0M1147.9 251.2h0M1136.2 230.2h0M1167.5 258.2h0M1134.8 239.6h0M1147.4 249.7h0M1143.6 241.7h0M1140.5 230.8h0M1149.6 245.3h0M1152 146h0" fill="none" stroke="#131313" stroke-width="4.2" stroke-linecap="round"/>
<g clip-path="url(#cb1b)">
<g filter="url(#bl5)">
<path d="M1088.5 313.8C1089.3 306.5 1089.4 292.5 1093.8 286.6C1098.1 280.6 1107.4 278.9 1114.7 278.2C1122 277.5 1132.2 278.6 1137.7 282.4C1143.3 286.2 1147.5 293.9 1148.2 301.2C1148.9 308.6 1145.8 319.7 1141.9 326.4C1138.1 333 1132.2 338.6 1125.2 341C1118.2 343.5 1106.1 342.8 1100 341C1094 339.3 1091.1 335.1 1089.2 330.5C1087.2 326 1087.8 321.1 1088.5 313.8z" fill="#3c3c3c"/>
<path d="M1138.8 312.7C1138.8 316.4 1137.9 320.4 1136.3 323.6C1134.7 326.9 1132.2 330.1 1129.3 332.4C1126.5 334.7 1122.8 336.4 1119.2 337.2C1115.7 338 1111.6 338 1108.1 337.2C1104.5 336.4 1100.8 334.7 1098 332.4C1095.2 330.1 1092.6 326.9 1091 323.6C1089.4 320.4 1088.5 316.4 1088.5 312.7C1088.5 309.1 1089.4 305.1 1091 301.8C1092.6 298.6 1095.2 295.4 1098 293.1C1100.8 290.8 1104.5 289.1 1108.1 288.3C1111.6 287.4 1115.7 287.4 1119.2 288.3C1122.8 289.1 1126.5 290.8 1129.3 293.1C1132.2 295.4 1134.7 298.6 1136.3 301.8C1137.9 305.1 1138.8 309.1 1138.8 312.7z" fill="#5e5e5e"/>
</g><g filter="url(#bl2)">
<path d="M1133.5 308.6C1134.1 311.3 1134.1 314.4 1133.3 317.1C1132.6 319.8 1130.9 322.7 1128.9 325C1126.8 327.3 1123.9 329.4 1121 330.8C1118 332.1 1114.5 333.1 1111.2 333.3C1108 333.5 1104.4 333 1101.5 332C1098.7 331 1095.8 329.2 1093.8 327.2C1091.9 325.1 1090.3 322.4 1089.7 319.8C1089 317.2 1089 314.1 1089.8 311.3C1090.6 308.6 1092.2 305.7 1094.3 303.4C1096.3 301.1 1099.2 299 1102.1 297.7C1105.1 296.3 1108.7 295.4 1111.9 295.2C1115.1 295 1118.7 295.4 1121.6 296.5C1124.5 297.5 1127.3 299.2 1129.3 301.3C1131.3 303.3 1132.8 306 1133.5 308.6z" fill="#a8a8a8"/>
<path d="M1129 309.8C1129.5 311.8 1129.4 314.1 1128.8 316.2C1128.2 318.3 1126.8 320.5 1125.2 322.2C1123.5 324 1121.2 325.6 1118.9 326.7C1116.5 327.7 1113.7 328.5 1111.1 328.7C1108.5 328.8 1105.7 328.5 1103.4 327.8C1101.2 327 1098.9 325.7 1097.4 324.2C1095.8 322.7 1094.6 320.7 1094.1 318.7C1093.6 316.7 1093.7 314.3 1094.3 312.2C1095 310.2 1096.3 308 1097.9 306.2C1099.6 304.5 1101.9 302.8 1104.2 301.8C1106.6 300.7 1109.4 300 1112 299.8C1114.6 299.6 1117.4 299.9 1119.7 300.7C1122 301.4 1124.2 302.7 1125.8 304.2C1127.3 305.7 1128.5 307.8 1129 309.8z" fill="#8a8a8a"/>
</g><g filter="url(#bl1)">
<path d="M1123.7 311.9C1124 313.2 1123.8 314.8 1123.4 316.1C1122.9 317.5 1122 318.9 1120.8 320C1119.7 321.1 1118.1 322.1 1116.6 322.7C1115 323.3 1113.1 323.7 1111.5 323.7C1109.8 323.8 1108 323.5 1106.5 322.9C1105 322.3 1103.6 321.4 1102.7 320.3C1101.7 319.3 1101 317.9 1100.7 316.5C1100.4 315.2 1100.6 313.7 1101 312.3C1101.5 311 1102.4 309.5 1103.6 308.4C1104.7 307.3 1106.3 306.4 1107.8 305.7C1109.4 305.1 1111.2 304.7 1112.9 304.7C1114.6 304.7 1116.4 305 1117.9 305.5C1119.4 306.1 1120.8 307.1 1121.7 308.1C1122.7 309.2 1123.4 310.5 1123.7 311.9z" fill="#f2f2f2"/>
<path d="M1120 312.7C1120.2 313.5 1120.1 314.5 1119.8 315.3C1119.4 316.1 1118.8 316.9 1118.1 317.6C1117.4 318.3 1116.4 318.9 1115.3 319.3C1114.3 319.7 1113.1 319.9 1112.1 319.9C1111 320 1109.8 319.8 1108.9 319.5C1107.9 319.1 1107.1 318.6 1106.4 318C1105.8 317.3 1105.4 316.5 1105.2 315.7C1105.1 314.9 1105.2 314 1105.5 313.2C1105.8 312.3 1106.4 311.5 1107.1 310.8C1107.9 310.1 1108.9 309.5 1109.9 309.1C1110.9 308.8 1112.1 308.5 1113.2 308.5C1114.2 308.4 1115.4 308.6 1116.3 308.9C1117.3 309.3 1118.2 309.8 1118.8 310.5C1119.4 311.1 1119.8 311.9 1120 312.7z" fill="#3a3a3a"/>
</g></g></g>
<rect x="1064.5" y="153" width="107.5" height="125.6" fill="none" stroke="#5a5a5a" stroke-width="1.1"/>
<path d="M950 62H1240.8V352.5" fill="none" stroke="#1a1a1a" stroke-width="1.6"/>
<path d="M950 61V352.5H1241.8" fill="none" stroke="#111" stroke-width="1.7"/>
<path d="M950 352.5v8M950 352.5h-8M971.9 352.5v4M950 330.6h-4M984.7 352.5v4M950 317.8h-4M993.8 352.5v4M950 308.8h-4M1000.8 352.5v4M950 301.7h-4M1006.6 352.5v4M950 296h-4M1011.4 352.5v4M950 291.1h-4M1015.7 352.5v4M950 286.9h-4M1019.4 352.5v4M950 283.2h-4M1022.7 352.5v8M950 279.9h-8M1044.6 352.5v4M950 258h-4M1057.4 352.5v4M950 245.2h-4M1066.5 352.5v4M950 236.2h-4M1073.5 352.5v4M950 229.1h-4M1079.3 352.5v4M950 223.4h-4M1084.1 352.5v4M950 218.5h-4M1088.4 352.5v4M950 214.3h-4M1092.1 352.5v4M950 210.6h-4M1095.4 352.5v8M950 207.2h-8M1117.3 352.5v4M950 185.4h-4M1130.1 352.5v4M950 172.6h-4M1139.2 352.5v4M950 163.5h-4M1146.2 352.5v4M950 156.5h-4M1152 352.5v4M950 150.7h-4M1156.8 352.5v4M950 145.9h-4M1161.1 352.5v4M950 141.7h-4M1164.8 352.5v4M950 137.9h-4M1168.1 352.5v8M950 134.6h-8M1190 352.5v4M950 112.8h-4M1202.8 352.5v4M950 100h-4M1211.9 352.5v4M950 90.9h-4M1218.9 352.5v4M950 83.9h-4M1224.7 352.5v4M950 78.1h-4M1229.5 352.5v4M950 73.2h-4M1233.8 352.5v4M950 69h-4M1237.5 352.5v4M950 65.3h-4M1240.8 352.5v8M950 62h-8" fill="none" stroke="#111" stroke-width="1.3"/>
<text x="1121.4" y="128.5" text-anchor="middle" fill="#1a1a1a" font-size="20" stroke="#1a1a1a" stroke-width="0.8">2.06%</text>
<clipPath id="cb2"><rect x="1300.3" y="62" width="289.7" height="289.5"/></clipPath>
<g clip-path="url(#cb2)">
<clipPath id="cb2b"><path d="M1436.9 353.6L1436.4 332.6L1436.2 311.7L1436.4 290.8L1437.3 276.1L1438.5 263.5L1440.6 251L1444.2 241.6L1449 235.3L1456.3 232.1L1464.7 231.7L1473.1 234.2L1479.4 238.4L1483.1 245.8L1486.7 253.1L1493 259.4L1501.3 263.5L1509.7 269.8L1516.4 277.8L1514.3 288.7L1509.1 301.2L1500.7 315.9L1492.3 330.5L1484 343.1L1475.6 353.6z"/></clipPath>
<path d="M1436.9 353.6L1436.4 332.6L1436.2 311.7L1436.4 290.8L1437.3 276.1L1438.5 263.5L1440.6 251L1444.2 241.6L1449 235.3L1456.3 232.1L1464.7 231.7L1473.1 234.2L1479.4 238.4L1483.1 245.8L1486.7 253.1L1493 259.4L1501.3 263.5L1509.7 269.8L1516.4 277.8L1514.3 288.7L1509.1 301.2L1500.7 315.9L1492.3 330.5L1484 343.1L1475.6 353.6z" fill="#1b1b1b"/>
<path d="M1437.6 348.6h0M1437.6 339.4h0M1437 334.9h0M1434.9 344.5h0M1437.1 348.9h0M1438 348.8h0M1438 344.1h0M1435.3 341.8h0M1434.6 340.4h0M1437 341.9h0M1435.4 333.8h0M1434.2 332.5h0M1436.2 336.6h0M1438.3 337.2h0M1435.9 349.2h0M1437.5 332.1h0M1439.8 344.4h0M1436.3 341.9h0M1438.2 348.6h0M1435.4 348.7h0M1437.3 335.5h0M1437.9 347.3h0M1437.3 335.8h0M1439.4 347.5h0M1437.5 347.9h0M1435.3 349.7h0M1435.6 344.1h0M1434.8 344.9h0M1435.5 338.7h0M1434.3 344.3h0M1436.5 325.3h0M1437.1 318.3h0M1439.1 331.4h0M1435.4 311.4h0M1435.6 312.6h0M1434.5 320h0M1437.9 330.9h0M1437.6 324.4h0M1435.9 315.7h0M1435.6 325.3h0M1435.7 328.8h0M1435.7 315.3h0M1435.3 333.4h0M1439.1 330.1h0M1436 321.1h0M1433.8 327.4h0M1438.5 319.2h0M1436.1 309.9h0M1436.5 313.4h0M1437.8 321h0M1437.4 311.4h0M1439 318.8h0M1437 325.6h0M1439.4 324.1h0M1435.8 328.2h0M1434.8 311.6h0M1437.2 315.4h0M1434.7 325.9h0M1437 320.5h0M1436.3 329.9h0M1438.6 325.9h0M1435.6 329.7h0M1435.8 325.4h0M1433.7 327.2h0M1436.3 314.9h0M1433.9 293h0M1436.9 301.2h0M1434.7 301.3h0M1438.9 289.6h0M1434.4 307.3h0M1433.1 310.6h0M1437.1 292.4h0M1437.9 297.2h0M1439.8 305.9h0M1435.5 292.5h0M1437.4 292h0M1435.8 300.4h0M1435.4 305.9h0M1436 307.9h0M1436.2 309.9h0M1436.5 302h0M1436 308h0M1436.8 296.3h0M1436.1 297.1h0M1434.8 302.9h0M1434.3 296.6h0M1440.1 292h0M1435.5 310.4h0M1436.3 307.6h0M1434.5 292h0M1438.3 302.2h0M1438.6 291.8h0M1434.9 291.2h0M1435.1 293.8h0M1435.5 297.6h0M1432.1 294.2h0M1437.6 300h0M1433.6 306.7h0M1435.9 293.8h0M1437.8 303.8h0M1435.8 279h0M1438.5 283.6h0M1437.3 291.5h0M1438.2 288.5h0M1437.7 281.4h0M1439.4 276.7h0M1438.5 281h0M1436.2 275.4h0M1436.7 289.8h0M1434.7 287.8h0M1436.4 284.9h0M1435.7 285.4h0M1437.8 286.4h0M1435.4 287h0M1435 284.1h0M1437 277.2h0M1437.4 285.8h0M1435 278.9h0M1436 282.2h0M1436.8 280.8h0M1435.2 282.5h0M1434.4 284.4h0M1438.4 290.6h0M1437.2 286.9h0M1436.7 272.5h0M1438.6 265.8h0M1437.1 274.6h0M1440.3 271.8h0M1436.2 265.8h0M1437.8 274.6h0M1435.3 267.2h0M1438 276h0M1433.3 270.2h0M1441.6 266.7h0M1438.4 271.5h0M1440.4 266.5h0M1435.8 270.4h0M1437.2 271.9h0M1439 276.5h0M1438.4 269h0M1438 269.3h0M1437.1 269.1h0M1437.8 266.4h0M1436.5 263.3h0M1435.7 266.4h0M1438.8 259.1h0M1435.9 259.1h0M1442.7 253.2h0M1438.9 249.9h0M1440 260.5h0M1440.4 256.9h0M1438.6 258.6h0M1438.2 259.1h0M1434.4 261.9h0M1439 263.9h0M1441.7 252.2h0M1441.3 255h0M1439.4 251.3h0M1437.8 256.2h0M1441.4 252.3h0M1442.2 253.3h0M1438.3 258.6h0M1439.1 255.7h0M1440.3 253h0M1438.5 260.6h0M1438.2 260.3h0M1443.4 248h0M1440.5 240.4h0M1442.2 242.3h0M1444.8 242.4h0M1442.3 242.9h0M1441 247.2h0M1442.6 245.6h0M1442.7 249h0M1445.4 243.1h0M1444.8 245h0M1442.6 247.6h0M1444.6 242.6h0M1441.6 244h0M1443.3 247.3h0M1442.5 242.7h0M1443.9 246.3h0M1442 243.9h0M1445.7 240.9h0M1443 240.6h0M1445.1 238.2h0M1443.9 242h0M1444.8 237.4h0M1445.4 239.8h0M1445.3 242.6h0M1449.4 239.8h0M1445.5 242.6h0M1443.4 239.2h0M1447.4 236.1h0M1446.7 237.7h0M1445.3 242.7h0M1448.8 233.5h0M1458.1 235.6h0M1452.6 232.3h0M1452.2 232.3h0M1455.5 230.5h0M1451.9 237.8h0M1454.3 232.8h0M1455.7 233.4h0M1452.5 233.7h0M1452.1 234.5h0M1450.8 233.9h0M1452.7 237.1h0M1455 232.1h0M1459.3 230.3h0M1459 226.6h0M1464.4 232.4h0M1457.9 230.8h0M1459.3 232.4h0M1459.1 234.3h0M1461.5 230.1h0M1461.5 232.4h0M1467 229.1h0M1460.2 234.1h0M1460.1 232.7h0M1460.5 233h0M1467.6 230.4h0M1460.7 231h0M1472.7 232.8h0M1472 233.2h0M1464.5 234.8h0M1467.1 231h0M1469.3 235.1h0M1472.2 233.7h0M1470.8 232.7h0M1466.6 230.1h0M1468.9 232.3h0M1473.3 235.3h0M1472.1 231.7h0M1470.7 232.5h0M1467.7 233h0M1472.4 233.6h0M1478.8 238.1h0M1475.2 232.5h0M1477.4 236.5h0M1477.9 234.5h0M1473.5 234.4h0M1473.4 238.8h0M1473 236.6h0M1473.1 235.5h0M1478.2 235.2h0M1475.9 238h0M1472.6 235.6h0M1477.1 238h0M1484.8 242.5h0M1480.9 241.8h0M1480.4 243.4h0M1479.4 242h0M1482.7 246.3h0M1479.8 240.4h0M1483.9 240.2h0M1482 243.3h0M1482.4 244.5h0M1480.5 244.7h0M1482.1 242h0M1482.7 240.8h0M1481 237.3h0M1480.9 245.4h0M1480.9 245.1h0M1486.2 250.8h0M1484 247h0M1488.1 251.4h0M1485.6 251.5h0M1486.3 249h0M1484.7 254.3h0M1483.8 247.1h0M1485.3 253.1h0M1485.9 249.5h0M1484.3 252.1h0M1485.5 244.5h0M1486.3 248.8h0M1491.5 257.6h0M1487.8 253.3h0M1489.7 256.4h0M1493 251.6h0M1488.4 253.8h0M1487.6 253.1h0M1490.1 254h0M1489.2 255h0M1489.6 253.6h0M1490 258.2h0M1494.4 260.5h0M1486.4 256.3h0M1487 255.4h0M1491.2 256.8h0M1487.9 256.1h0M1496.7 260.6h0M1491.5 259.2h0M1499.9 262.8h0M1498.5 263.7h0M1497.2 261.7h0M1492.4 260.9h0M1497.5 260.1h0M1493.4 260.9h0M1500.9 264.2h0M1493.9 260.9h0M1497.2 263.5h0M1495.4 259h0M1501.3 265h0M1497.9 264.3h0M1500.2 263.3h0M1506.8 265.6h0M1507.3 270.2h0M1505.5 266.6h0M1507.5 266.9h0M1508.2 270.7h0M1503.8 263.9h0M1508.2 268.5h0M1508.1 269h0M1506.6 269.2h0M1504 265.8h0M1506.6 268.8h0M1505.7 266h0M1505 266h0M1510.2 270.6h0M1504.9 267.8h0M1505.4 267.9h0M1505.4 268.8h0M1517.3 279.2h0M1513.9 274h0M1510.2 273.1h0M1512.7 271.9h0M1509.3 267.4h0M1513.3 275.1h0M1508.1 270.8h0M1508.5 274.3h0M1512.1 274.5h0M1517.7 277.7h0M1515 277.4h0M1511.6 271.7h0M1514.8 274.1h0M1512.2 271.3h0M1510.6 273.2h0M1510.8 269.7h0M1512.1 272.4h0M1515.7 278.1h0M1514.2 281.4h0M1517.2 284.6h0M1512.7 282.8h0M1515.2 276.7h0M1513.6 288.5h0M1519.2 285.4h0M1513.6 287.5h0M1514.1 277h0M1515.2 282.2h0M1515.5 287.8h0M1516.5 280h0M1518.2 281.4h0M1514.8 287.3h0M1516.8 284.7h0M1518.1 277.4h0M1514.9 280.4h0M1511.8 285.2h0M1514.5 293.4h0M1509.3 297.9h0M1509.2 299.7h0M1510.9 296.3h0M1512.4 295.6h0M1511.5 294.4h0M1508 300.5h0M1513.9 297.5h0M1511.7 295.9h0M1511.9 294.2h0M1507.8 299.5h0M1507.7 302.8h0M1511.2 295h0M1510.7 301.5h0M1513.5 289.7h0M1508.4 295.1h0M1509.2 299.7h0M1512.8 291h0M1508.6 299.8h0M1508.9 297.5h0M1510.2 295h0M1510.7 289.2h0M1513.8 293.4h0M1507.3 300.8h0M1509 301.9h0M1506.5 309.3h0M1504.2 309.3h0M1508.6 304.6h0M1503.9 311h0M1505.7 309.6h0M1504.7 307.1h0M1504.5 309.6h0M1503.1 310.3h0M1502.4 307.4h0M1502.7 314.8h0M1501.5 309.9h0M1501.8 314.7h0M1506.9 310.7h0M1506.4 306.8h0M1501.6 315.1h0M1502.2 310h0M1508.3 303.7h0M1502 315.1h0M1507.4 309.3h0M1507.3 305.5h0M1504.9 313.6h0M1504.3 301.9h0M1508.9 304.2h0M1503.3 313h0M1503.5 312.5h0M1506.8 303.1h0M1495.9 324.1h0M1495.1 321.2h0M1499.1 317.5h0M1493.2 329h0M1500.1 315.8h0M1499.7 322.5h0M1495.7 328.9h0M1491.4 323.9h0M1499.7 319.2h0M1498.7 319.9h0M1494.7 329.2h0M1494.1 329.5h0M1492.5 327.1h0M1497.6 322.7h0M1499.2 316.2h0M1499.8 317.9h0M1492.4 325h0M1496.3 323.7h0M1496.6 322.2h0M1493.3 327.3h0M1496.5 315.6h0M1500.5 317h0M1497.2 318.3h0M1497.1 328.3h0M1499.4 317.2h0M1498.3 320.4h0M1497.5 324.3h0M1496.1 323.3h0M1488.7 338.3h0M1489.8 337h0M1489.5 332.7h0M1486.8 340.2h0M1490.9 339.3h0M1491.4 332.6h0M1486.8 339.2h0M1486.9 337.1h0M1483.2 340.7h0M1493 335.9h0M1489 336.8h0M1486.2 338.3h0M1491.2 334.4h0M1484.6 342.8h0M1490.7 332.2h0M1490.2 337.9h0M1490.4 330.9h0M1489.3 334.6h0M1483.5 340.5h0M1485.7 340.7h0M1489 335.5h0M1488.1 335h0M1487.2 341h0M1489 334.2h0M1490.4 333.5h0M1483.5 342.4h0M1474.3 350.4h0M1476 349h0M1482.6 345.3h0M1484.7 340.7h0M1481.9 346.8h0M1479.8 348.5h0M1478.9 347.8h0M1485.1 343.4h0M1482.9 346.1h0M1476.4 350.2h0M1482.2 347.8h0M1484 348.1h0M1476.3 347.8h0M1482 341.1h0M1483 345.9h0M1488.8 342.5h0M1468.2 349.8h0M1448.2 218.1h0M1473.4 238.5h0M1466 235h0M1448.5 228.8h0M1456.4 233.7h0M1453.4 221.8h0M1460.3 230.5h0M1472.1 237.7h0M1450.4 238.1h0M1465.3 220.9h0M1461.8 236h0M1479.5 229.7h0M1463 229.2h0M1483.5 218.1h0M1476.8 224.4h0M1478.8 220.2h0M1459.4 220.3h0M1482.1 226.4h0M1469.2 227.6h0M1454 220.1h0M1468 223.6h0M1471 223.3h0M1470 231.5h0M1469.3 239.2h0M1455.1 221.8h0M1473.5 226.6h0M1465.4 221.1h0M1473.8 238.6h0M1466.2 218.2h0M1457.6 227.7h0M1449.7 222.2h0M1482.1 237.9h0M1473.8 237.6h0M1455.2 236.2h0M1477 239.4h0M1481.9 227.6h0M1465.1 238.5h0M1460 240.3h0M1487.2 234h0M1463.1 232.2h0M1452.8 227h0M1468.6 221.6h0M1473.7 239.7h0M1466 219.5h0M1455.1 235.5h0M1474.9 238.3h0M1453.1 238.2h0M1456.2 224h0M1453 227h0M1459.1 225.7h0M1440.7 238.5h0M1464.2 219.2h0M1456.6 239.4h0M1467 230.4h0M1454 221.5h0M1457.6 227.5h0M1453.7 234.7h0M1482 225h0M1458.2 239.2h0M1469.7 232.8h0M1458.2 239.8h0M1459.2 237.8h0M1468.1 237.7h0M1470.3 218.8h0M1453.3 234.4h0M1464.2 228.6h0M1456.2 226.2h0M1467.3 217.6h0M1477.1 228.7h0M1471.5 221h0M1451.1 222.7h0M1457.4 225.8h0M1457.7 224.1h0M1469 230.7h0M1480.3 225.6h0M1477.4 221.7h0M1461.8 232.7h0M1458.1 217.9h0M1468 221.3h0M1458.6 229.6h0M1457.3 225.4h0M1454 228.5h0M1467.4 221.9h0M1450.5 236.8h0M1472.9 222.5h0M1473.9 224.1h0M1477.5 219.6h0M1465.7 240.1h0M1464.7 228.7h0M1440 237.4h0M1472.3 234.2h0M1472.6 229.9h0M1468.4 234.5h0M1470.6 218.3h0M1481.4 223.9h0M1464 230.4h0M1465.8 239.5h0M1471.4 239.3h0M1472.8 223.9h0M1455.6 234.3h0M1446.4 227.6h0M1471.6 231.9h0M1449.2 226.7h0M1467.8 228.7h0M1473.6 239.8h0M1472.5 220.1h0M1467.7 221.7h0M1467.9 234.8h0M1470.5 224.5h0M1456.5 220.6h0M1446.3 238.7h0M1470.9 227.4h0M1467.2 238.8h0M1457.6 233.1h0M1463.8 234.2h0M1476.2 236.6h0M1455 238.6h0M1479 221.6h0M1469.8 234.4h0M1468.9 239.7h0M1459.6 228.6h0M1440.7 230.4h0M1452.3 233.3h0M1462.9 218.2h0M1467.8 224.1h0M1471.3 221.3h0M1470.9 219.6h0M1466.1 225.9h0M1466 221.6h0M1445.4 224h0M1462.4 238.4h0M1467.3 234.4h0M1456.1 226.7h0M1466.3 217.5h0M1473.1 222.1h0M1471 226.2h0M1464.4 235h0M1444.1 221.7h0M1488.5 224.4h0M1463.1 230.3h0M1473.7 229.4h0M1469.5 236.4h0M1467.9 227.6h0M1466.8 224.1h0M1480.6 219h0M1467 236.7h0M1462.8 235.6h0M1458 230h0M1453.7 227.3h0M1465 224.9h0M1458.1 233.3h0M1470.6 219.2h0M1464.6 236.5h0M1454.7 218.4h0M1466.1 228.4h0M1457.2 233.6h0M1456.3 224.7h0M1471.2 226.9h0M1460 223h0M1474.4 217.7h0M1468 222.5h0M1453.2 229.7h0M1432.6 221.3h0M1464.6 218.8h0M1449.7 218.5h0M1483.6 222.4h0M1471.2 225h0M1483.2 227.5h0M1439.2 232h0M1456.1 234.1h0M1460.4 238.5h0M1469.8 230.1h0M1455.2 226.8h0M1457.2 231.1h0M1460.2 218.7h0M1458 224.7h0M1471.1 226.6h0M1462.7 218.7h0M1451.1 236.1h0M1481.5 224.9h0M1475.3 238.6h0M1463 224.5h0M1452.2 234.2h0M1494 227.5h0M1467.3 237.8h0M1451.8 234.4h0M1465.1 240h0M1478 228.1h0M1447.6 229.6h0M1477.6 219.2h0M1456.9 224h0M1460.8 222.7h0M1450.7 220.5h0M1457.8 221h0M1449.7 219h0M1456.4 218.4h0M1475 218.5h0M1472.8 223.6h0M1461 233.3h0M1468 239.5h0M1455.6 240.1h0M1453.1 226.2h0M1470 222h0M1461.9 232.9h0M1472.9 226.7h0M1487.4 221.3h0M1481 231.6h0M1459 230.9h0M1458.2 226.3h0M1458.1 234.5h0M1472.6 231.4h0M1453.2 230.7h0M1464.6 220.8h0M1471.6 237.1h0M1452.7 237.7h0M1448.4 232.1h0M1461.8 230h0M1468.6 219.6h0M1479.1 220.9h0M1449.5 225.6h0M1445.3 228.1h0M1459.9 238.9h0M1469.8 219.5h0M1476.3 222.1h0M1469.5 226.5h0M1470.3 233.8h0M1487.3 221.7h0M1467.4 232.8h0M1465.2 228.2h0M1465.9 228.1h0M1469.6 237.8h0M1461.9 227.5h0M1468.4 228.7h0M1463 237.9h0M1458.2 222.1h0M1472.3 223.2h0M1462.2 233.4h0M1470.1 238.9h0M1466.3 228.3h0M1473.2 229.8h0M1443.7 236.2h0M1450.7 218.9h0M1453.2 235.7h0M1478.9 225.6h0M1466.7 225h0M1460.7 228.6h0M1468.9 217.9h0M1478.8 239.3h0M1463.7 237h0M1456.4 230.4h0M1480.4 222.2h0M1435.6 238.5h0M1467.1 222.7h0M1468.2 226.3h0M1447.6 223.2h0M1463.5 232.5h0M1454.9 239.9h0M1456 227.4h0M1464.8 228h0M1465.7 226.1h0M1460.2 204.7h0M1448.7 204h0M1471.1 206.9h0M1474 218h0M1460.7 221h0M1466.3 205.9h0M1484.7 213.9h0M1465.6 205.1h0M1471 220.1h0M1477.3 212.6h0M1458.2 216.5h0M1449 218.4h0M1483.4 213.3h0M1463.4 207.5h0M1473.4 206.8h0M1464.6 208.1h0M1465.5 218h0M1466.1 209.4h0M1471.3 218.6h0M1476 223.4h0M1453.4 201.6h0M1457.8 219.4h0M1487.3 214.6h0M1456.2 208.7h0M1454.9 204.3h0M1483.3 200.2h0M1484.9 223.1h0M1467.7 202.8h0M1447.6 211.4h0M1481.5 205h0M1474.2 200.4h0M1431.1 212.7h0M1454.3 214.1h0M1472.9 208.8h0M1450.8 221.7h0M1470 208.4h0M1487 215.1h0M1448.2 217.3h0M1472 213.4h0M1456.2 211.6h0M1480.8 201.2h0M1480.9 210h0M1448 202h0M1468.6 214.5h0M1481.2 217.3h0M1468.5 222.3h0M1485.6 223.2h0M1469.6 206.1h0M1485 206.8h0M1456.5 210.6h0M1454.8 214.2h0M1442.5 206.1h0M1472.4 210.6h0M1471.8 206.5h0M1454.5 201.2h0M1465.9 199.9h0M1460.7 221.3h0M1455.1 222.5h0M1461.9 220.9h0M1469 220.8h0M1469.3 199.7h0M1444.2 208.8h0M1455.5 210.7h0M1446.1 207.2h0M1446.1 203.6h0M1463.5 207.4h0M1466.8 204.1h0M1472.7 200.2h0M1459.6 219.1h0M1471.8 219.9h0M1470.5 210.2h0M1480.2 215.4h0M1439.7 215.2h0M1475.8 222.8h0M1471.7 203.5h0M1452 219.8h0M1474.4 218.3h0M1455.5 208.9h0M1465.2 205.9h0M1451.2 200.7h0M1456.3 214.4h0M1472.1 219.3h0M1458.9 203.5h0M1482.5 202.3h0M1485.2 206.7h0M1449.3 205.9h0M1465.6 215.5h0M1456.3 203.6h0M1467.8 204.1h0M1439.2 202.1h0M1460.6 204.8h0M1482.9 210.4h0M1479.7 210.7h0M1459.6 203.3h0M1455 207.6h0M1457.3 210.7h0M1456.5 213.5h0M1484 213.4h0M1472.8 219.5h0M1475.9 221.6h0M1465.1 210.3h0M1479.6 220.9h0M1454.8 209.1h0M1455.4 212.3h0M1469 200.7h0M1460.1 223.2h0M1473.7 223.4h0M1461.5 214.9h0M1474.2 223h0M1465.1 205.4h0M1494.8 255.2h0M1490.2 248.9h0M1505.5 258.1h0M1494.4 250.8h0M1489 266.1h0M1503 255.6h0M1494.1 260.8h0M1498.5 256.9h0M1488.6 247.9h0M1482.7 253.1h0M1491.7 261.7h0M1489.5 251.4h0M1488 254h0M1501 263.2h0M1468.7 184.5h0M1476.5 193h0M1438 204h0M1503 211h0" fill="none" stroke="#131313" stroke-width="4.2" stroke-linecap="round"/>
<g clip-path="url(#cb2b)">
<g filter="url(#bl5)">
<path d="M1438.5 313.8C1439.3 306.5 1439.4 292.5 1443.8 286.6C1448.1 280.6 1457.4 278.9 1464.7 278.2C1472 277.5 1482.2 278.6 1487.7 282.4C1493.3 286.2 1497.5 293.9 1498.2 301.2C1498.9 308.6 1495.8 319.7 1491.9 326.4C1488.1 333 1482.2 338.6 1475.2 341C1468.2 343.5 1456.1 342.8 1450 341C1444 339.3 1441.1 335.1 1439.2 330.5C1437.2 326 1437.8 321.1 1438.5 313.8z" fill="#3c3c3c"/>
<path d="M1488.8 312.7C1488.8 316.4 1487.9 320.4 1486.3 323.6C1484.7 326.9 1482.2 330.1 1479.3 332.4C1476.5 334.7 1472.8 336.4 1469.2 337.2C1465.7 338 1461.6 338 1458.1 337.2C1454.5 336.4 1450.8 334.7 1448 332.4C1445.2 330.1 1442.6 326.9 1441 323.6C1439.4 320.4 1438.5 316.4 1438.5 312.7C1438.5 309.1 1439.4 305.1 1441 301.8C1442.6 298.6 1445.2 295.4 1448 293.1C1450.8 290.8 1454.5 289.1 1458.1 288.3C1461.6 287.4 1465.7 287.4 1469.2 288.3C1472.8 289.1 1476.5 290.8 1479.3 293.1C1482.2 295.4 1484.7 298.6 1486.3 301.8C1487.9 305.1 1488.8 309.1 1488.8 312.7z" fill="#5e5e5e"/>
</g><g filter="url(#bl2)">
<path d="M1483.5 308.6C1484.1 311.3 1484.1 314.4 1483.3 317.1C1482.6 319.8 1480.9 322.7 1478.9 325C1476.8 327.3 1473.9 329.4 1471 330.8C1468 332.1 1464.5 333.1 1461.2 333.3C1458 333.5 1454.4 333 1451.5 332C1448.7 331 1445.8 329.2 1443.8 327.2C1441.9 325.1 1440.3 322.4 1439.7 319.8C1439 317.2 1439 314.1 1439.8 311.3C1440.6 308.6 1442.2 305.7 1444.3 303.4C1446.3 301.1 1449.2 299 1452.1 297.7C1455.1 296.3 1458.7 295.4 1461.9 295.2C1465.1 295 1468.7 295.4 1471.6 296.5C1474.5 297.5 1477.3 299.2 1479.3 301.3C1481.3 303.3 1482.8 306 1483.5 308.6z" fill="#a8a8a8"/>
<path d="M1479 309.8C1479.5 311.8 1479.4 314.1 1478.8 316.2C1478.2 318.3 1476.8 320.5 1475.2 322.2C1473.5 324 1471.2 325.6 1468.9 326.7C1466.5 327.7 1463.7 328.5 1461.1 328.7C1458.5 328.8 1455.7 328.5 1453.4 327.8C1451.2 327 1448.9 325.7 1447.4 324.2C1445.8 322.7 1444.6 320.7 1444.1 318.7C1443.6 316.7 1443.7 314.3 1444.3 312.2C1445 310.2 1446.3 308 1447.9 306.2C1449.6 304.5 1451.9 302.8 1454.2 301.8C1456.6 300.7 1459.4 300 1462 299.8C1464.6 299.6 1467.4 299.9 1469.7 300.7C1472 301.4 1474.2 302.7 1475.8 304.2C1477.3 305.7 1478.5 307.8 1479 309.8z" fill="#8a8a8a"/>
</g><g filter="url(#bl1)">
<path d="M1473.7 311.9C1474 313.2 1473.8 314.8 1473.4 316.1C1472.9 317.5 1472 318.9 1470.8 320C1469.7 321.1 1468.1 322.1 1466.6 322.7C1465 323.3 1463.1 323.7 1461.5 323.7C1459.8 323.8 1458 323.5 1456.5 322.9C1455 322.3 1453.6 321.4 1452.7 320.3C1451.7 319.3 1451 317.9 1450.7 316.5C1450.4 315.2 1450.6 313.7 1451 312.3C1451.5 311 1452.4 309.5 1453.6 308.4C1454.7 307.3 1456.3 306.4 1457.8 305.7C1459.4 305.1 1461.2 304.7 1462.9 304.7C1464.6 304.7 1466.4 305 1467.9 305.5C1469.4 306.1 1470.8 307.1 1471.7 308.1C1472.7 309.2 1473.4 310.5 1473.7 311.9z" fill="#f2f2f2"/>
<path d="M1470 312.7C1470.2 313.5 1470.1 314.5 1469.8 315.3C1469.4 316.1 1468.8 316.9 1468.1 317.6C1467.4 318.3 1466.4 318.9 1465.3 319.3C1464.3 319.7 1463.1 319.9 1462.1 319.9C1461 320 1459.8 319.8 1458.9 319.5C1457.9 319.1 1457.1 318.6 1456.4 318C1455.8 317.3 1455.4 316.5 1455.2 315.7C1455.1 314.9 1455.2 314 1455.5 313.2C1455.8 312.3 1456.4 311.5 1457.1 310.8C1457.9 310.1 1458.9 309.5 1459.9 309.1C1460.9 308.8 1462.1 308.5 1463.2 308.5C1464.2 308.4 1465.4 308.6 1466.3 308.9C1467.3 309.3 1468.2 309.8 1468.8 310.5C1469.4 311.1 1469.8 311.9 1470 312.7z" fill="#3a3a3a"/>
</g></g></g>
<rect x="1413.8" y="153" width="107.5" height="125.6" fill="none" stroke="#5a5a5a" stroke-width="1.1"/>
<path d="M1299.3 62H1590V352.5" fill="none" stroke="#1a1a1a" stroke-width="1.6"/>
<path d="M1299.3 61V352.5H1591" fill="none" stroke="#111" stroke-width="1.7"/>
<path d="M1299.3 352.5v8M1299.3 352.5h-8M1321.2 352.5v4M1299.3 330.6h-4M1334 352.5v4M1299.3 317.8h-4M1343.1 352.5v4M1299.3 308.8h-4M1350.1 352.5v4M1299.3 301.7h-4M1355.9 352.5v4M1299.3 296h-4M1360.7 352.5v4M1299.3 291.1h-4M1364.9 352.5v4M1299.3 286.9h-4M1368.6 352.5v4M1299.3 283.2h-4M1372 352.5v8M1299.3 279.9h-8M1393.9 352.5v4M1299.3 258h-4M1406.6 352.5v4M1299.3 245.2h-4M1415.7 352.5v4M1299.3 236.2h-4M1422.8 352.5v4M1299.3 229.1h-4M1428.5 352.5v4M1299.3 223.4h-4M1433.4 352.5v4M1299.3 218.5h-4M1437.6 352.5v4M1299.3 214.3h-4M1441.3 352.5v4M1299.3 210.6h-4M1444.7 352.5v8M1299.3 207.2h-8M1466.5 352.5v4M1299.3 185.4h-4M1479.3 352.5v4M1299.3 172.6h-4M1488.4 352.5v4M1299.3 163.5h-4M1495.4 352.5v4M1299.3 156.5h-4M1501.2 352.5v4M1299.3 150.7h-4M1506.1 352.5v4M1299.3 145.9h-4M1510.3 352.5v4M1299.3 141.7h-4M1514 352.5v4M1299.3 137.9h-4M1517.3 352.5v8M1299.3 134.6h-8M1539.2 352.5v4M1299.3 112.8h-4M1552 352.5v4M1299.3 100h-4M1561.1 352.5v4M1299.3 90.9h-4M1568.1 352.5v4M1299.3 83.9h-4M1573.9 352.5v4M1299.3 78.1h-4M1578.7 352.5v4M1299.3 73.2h-4M1583 352.5v4M1299.3 69h-4M1586.7 352.5v4M1299.3 65.3h-4M1590 352.5v8M1299.3 62h-8" fill="none" stroke="#111" stroke-width="1.3"/>
<text x="1470.6" y="128.5" text-anchor="middle" fill="#1a1a1a" font-size="20" stroke="#1a1a1a" stroke-width="0.8">2.28%</text>
<path d="M246.2 460.5V788.7M236.9 775.2H814" fill="none" stroke="#000" stroke-width="4.6"/>
<path d="M236.9 460.5h11.6M236.9 523.4h9.3M236.9 586.3h9.3M236.9 649.2h9.3M236.9 712.1h9.3M441.4 775.2v13.5M636.6 775.2v13.5" fill="none" stroke="#000" stroke-width="4.199999999999999"/>
<text x="220.6" y="469.8" text-anchor="end" font-size="29">100000</text>
<text x="220.6" y="532.7" text-anchor="end" font-size="29">80000</text>
<text x="220.6" y="595.6" text-anchor="end" font-size="29">60000</text>
<text x="220.6" y="658.5" text-anchor="end" font-size="29">40000</text>
<text x="220.6" y="721.4" text-anchor="end" font-size="29">20000</text>
<text x="220.6" y="784.5" text-anchor="end" font-size="29">0</text>
<rect x="288.2" y="740.5" width="56" height="34.7" fill="#fff" stroke="#000" stroke-width="4.4"/>
<rect x="342" y="705.5" width="60" height="69.7" rx="1.5" fill="#000"/>
<rect x="483.5" y="767.5" width="55.9" height="7.7" fill="#fff" stroke="#000" stroke-width="4.4"/>
<rect x="537.2" y="756.5" width="60.3" height="18.7" rx="1.5" fill="#000"/>
<rect x="678.5" y="629.9" width="55.6" height="145.3" fill="#fff" stroke="#000" stroke-width="4.4"/>
<rect x="731.9" y="559.9" width="60.7" height="215.3" rx="1.5" fill="#000"/>
<path d="M315.9 740V723.2M307.7 723.2H324.1" fill="none" stroke="#000" stroke-width="2.9"/>
<path d="M372 707V694M363.8 694H380.2" fill="none" stroke="#000" stroke-width="2.9"/>
<path d="M511.2 766.5V763.6M503 763.6H519.4" fill="none" stroke="#000" stroke-width="2.9"/>
<path d="M567.1 758V754.3M558.9 754.3H575.3" fill="none" stroke="#000" stroke-width="2.9"/>
<path d="M706.6 630V555.8M698.4 555.8H714.8" fill="none" stroke="#000" stroke-width="2.9"/>
<path d="M762.2 562V509.7M754 509.7H770.4" fill="none" stroke="#000" stroke-width="2.9"/>
<path d="M275.3 520.2L401.4 520.2" stroke="#000" stroke-width="3.2"/>
<path d="M471.5 568L596.5 568" stroke="#000" stroke-width="3.2"/>
<text x="341.5" y="513.1" text-anchor="middle" style="font-family:'DejaVu Sans',sans-serif" font-weight="bold" font-size="38" letter-spacing="6">**</text>
<text x="536.5" y="561.5" text-anchor="middle" style="font-family:'DejaVu Sans',sans-serif" font-weight="bold" font-size="38" letter-spacing="6">**</text>
<text x="338.6" y="841.3" text-anchor="middle" font-size="44">TH2</text>
<text x="539" y="841.3" text-anchor="middle" font-size="44">ILC2</text>
<text x="726.5" y="841.3" text-anchor="middle" font-size="44">TH1</text>
<text text-anchor="middle" transform="translate(107 599.5) rotate(-90)" font-size="44">LLN Cell Counts</text>
<rect x="759.7" y="421.2" width="18.6" height="18.6" rx="1.5" fill="#fff" stroke="#000" stroke-width="4.6"/>
<text x="786" y="441.9" font-size="36.5">ND</text>
<rect x="757.4" y="463.8" width="23.2" height="23.2" rx="2" fill="#000"/>
<text x="786" y="486.8" font-size="36.5">HFD</text>
<path d="M1084.2 474.2V782.5M1074.9 769H1627" fill="none" stroke="#000" stroke-width="4.6"/>
<path d="M1074.9 474.2h11.6M1074.9 533.3h9.3M1074.9 592.3h9.3M1074.9 651.4h9.3M1074.9 710.4h9.3M1263.3 769v13.5M1442.6 769v13.5M1623 769v13.5" fill="none" stroke="#000" stroke-width="4.199999999999999"/>
<text x="1058.3" y="483.5" text-anchor="end" font-size="29">100000</text>
<text x="1058.3" y="542.6" text-anchor="end" font-size="29">80000</text>
<text x="1058.3" y="601.6" text-anchor="end" font-size="29">60000</text>
<text x="1058.3" y="660.7" text-anchor="end" font-size="29">40000</text>
<text x="1058.3" y="719.7" text-anchor="end" font-size="29">20000</text>
<text x="1058.3" y="778.3" text-anchor="end" font-size="29">0</text>
<rect x="1122.1" y="757.6" width="52.1" height="11.4" fill="#fff" stroke="#000" stroke-width="4.4"/>
<rect x="1172" y="753.8" width="55.1" height="15.2" rx="1.5" fill="#000"/>
<rect x="1302.3" y="762.1" width="51.3" height="6.9" fill="#fff" stroke="#000" stroke-width="4.4"/>
<rect x="1351.4" y="757.7" width="55.4" height="11.3" rx="1.5" fill="#000"/>
<rect x="1481.6" y="678.2" width="51.3" height="90.8" fill="#fff" stroke="#000" stroke-width="4.4"/>
<rect x="1530.7" y="659.4" width="56" height="109.6" rx="1.5" fill="#000"/>
<path d="M1148 756V749.4M1139.8 749.4H1156.2" fill="none" stroke="#000" stroke-width="2.9"/>
<path d="M1199.3 755V751.6M1191.1 751.6H1207.5" fill="none" stroke="#000" stroke-width="2.9"/>
<path d="M1327.3 761V755.8M1319.1 755.8H1335.5" fill="none" stroke="#000" stroke-width="2.9"/>
<path d="M1378.6 759V756.6M1370.4 756.6H1386.8" fill="none" stroke="#000" stroke-width="2.9"/>
<path d="M1507.3 678V667.1M1499.1 667.1H1515.5" fill="none" stroke="#000" stroke-width="2.9"/>
<path d="M1558.5 662V632.8M1550.3 632.8H1566.7" fill="none" stroke="#000" stroke-width="2.9"/>
<text x="1167" y="835" text-anchor="middle" font-size="44">TH2</text>
<text x="1353.5" y="835" text-anchor="middle" font-size="44">ILC2</text>
<text x="1528" y="835" text-anchor="middle" font-size="44">TH1</text>
<text text-anchor="middle" transform="translate(947.2 610.5) rotate(-90)" font-size="44">LLN Cell Counts</text>
<rect x="1330.3" y="451.3" width="16.9" height="16.9" rx="1.5" fill="#fff" stroke="#000" stroke-width="4.6"/>
<text x="1355.5" y="471.5" font-size="36.7">ND No Asthma</text>
<rect x="1328" y="498" width="21.5" height="21.5" rx="2" fill="#000"/>
<text x="1355.5" y="519.8" font-size="36.7">HFD No Asthma</text>
<path d="M1086.5 1849.2V2176.7M1077.2 2163.2H1628" fill="none" stroke="#000" stroke-width="4.6"/>
<path d="M1077.2 1849.2h11.6M1077.2 1912h9.3M1077.2 1974.8h9.3M1077.2 2037.7h9.3M1077.2 2100.6h9.3M1265.5 2163.2v13.5M1444.9 2163.2v13.5M1625.5 2163.2v13.5" fill="none" stroke="#000" stroke-width="4.199999999999999"/>
<text x="1061" y="1858.5" text-anchor="end" font-size="29">100</text>
<text x="1061" y="1921.3" text-anchor="end" font-size="29">80</text>
<text x="1061" y="1984.1" text-anchor="end" font-size="29">60</text>
<text x="1061" y="2047" text-anchor="end" font-size="29">40</text>
<text x="1061" y="2109.9" text-anchor="end" font-size="29">20</text>
<text x="1061" y="2172.5" text-anchor="end" font-size="29">0</text>
<rect x="1124.6" y="2074.8" width="51.9" height="88.4" fill="#fff" stroke="#000" stroke-width="4.4"/>
<rect x="1174.3" y="2016.6" width="55.4" height="146.6" rx="1.5" fill="#000"/>
<rect x="1303.9" y="2117.4" width="51.9" height="45.8" fill="#fff" stroke="#000" stroke-width="4.4"/>
<rect x="1353.6" y="2091.9" width="55.7" height="71.3" rx="1.5" fill="#000"/>
<rect x="1483.2" y="2143.4" width="51.9" height="19.8" fill="#fff" stroke="#000" stroke-width="4.4"/>
<rect x="1532.9" y="2130.3" width="56.1" height="32.9" rx="1.5" fill="#000"/>
<path d="M1150.3 2074V2059.8M1142.1 2059.8H1158.5" fill="none" stroke="#000" stroke-width="2.9"/>
<path d="M1201.8 2019V1977.9M1193.6 1977.9H1210" fill="none" stroke="#000" stroke-width="2.9"/>
<path d="M1329.6 2117V2094.4M1321.4 2094.4H1337.8" fill="none" stroke="#000" stroke-width="2.9"/>
<path d="M1381.1 2094V2088.3M1372.9 2088.3H1389.3" fill="none" stroke="#000" stroke-width="2.9"/>
<path d="M1509.2 2143V2119.1M1501 2119.1H1517.4" fill="none" stroke="#000" stroke-width="2.9"/>
<path d="M1561.1 2132V2111.7M1552.9 2111.7H1569.3" fill="none" stroke="#000" stroke-width="2.9"/>
<path d="M1118.3 1913.6L1226.7 1913.6" stroke="#000" stroke-width="3"/>
<path d="M1292.1 1934.1L1399.9 1934.1" stroke="#000" stroke-width="3"/>
<text x="1174.2" y="1910.5" text-anchor="middle" style="font-family:'DejaVu Sans',sans-serif" stroke="#000" stroke-width="0.6" font-size="39">*</text>
<text x="1347.3" y="1930.7" text-anchor="middle" style="font-family:'DejaVu Sans',sans-serif" stroke="#000" stroke-width="0.6" font-size="39">*</text>
<text x="1173" y="2230.5" text-anchor="middle" font-size="44">TH2</text>
<text x="1355.5" y="2230.5" text-anchor="middle" font-size="44">ILC2</text>
<text x="1529" y="2230.5" text-anchor="middle" font-size="44">TH1</text>
<text text-anchor="middle" transform="translate(945 1984.5) rotate(-90)" font-size="44">LLN Ki67+ Cell</text>
<text text-anchor="middle" transform="translate(994.5 1984) rotate(-90)" font-size="44">(%)</text>
<path d="M258.6 884.6V1168.8M249.8 1155H772" fill="none" stroke="#000" stroke-width="4.1"/>
<path d="M249.8 884.6h10.9M249.8 974.7h8.8M249.8 1064.9h8.8M386 1155v13.8M514 1155v13.8M642.5 1155v13.8M770 1155v13.8" fill="none" stroke="#000" stroke-width="3.8"/>
<text x="232.8" y="893.4" text-anchor="end" font-size="29">0.6</text>
<text x="232.8" y="983.5" text-anchor="end" font-size="29">0.4</text>
<text x="232.8" y="1073.7" text-anchor="end" font-size="29">0.2</text>
<text x="232.8" y="1163.8" text-anchor="end" font-size="29">0</text>
<path d="M450 1058V1020M441.8 1020H458.2" fill="none" stroke="#000" stroke-width="1.7"/>
<path d="M577.5 1021V990M569.3 990H585.7" fill="none" stroke="#000" stroke-width="1.7"/>
<path d="M706 964V917.5M697.8 917.5H714.2" fill="none" stroke="#000" stroke-width="1.7"/>
<path d="M577.5 1069V1040M569.3 1040H585.7" fill="none" stroke="#000" stroke-width="1.7"/>
<path d="M706 1047.5V1010M697.8 1010H714.2" fill="none" stroke="#000" stroke-width="1.7"/>
<path d="M322.5 1114L450 1087.5L577.5 1069.5L706 1047.5" fill="none" stroke="#000" stroke-width="4.4" stroke-linejoin="round"/>
<path d="M315.1 1114l7.4 -8.6l7.4 8.6l-7.4 8.6z" fill="#fff"/><path d="M315.5 1114h14" stroke="#000" stroke-width="3"/><path d="M315.1 1114l7.4 -8.6l7.4 8.6l-7.4 8.6z" fill="none" stroke="#000" stroke-width="3.8"/>
<path d="M442.6 1087.5l7.4 -8.6l7.4 8.6l-7.4 8.6z" fill="#fff"/><path d="M443 1087.5h14" stroke="#000" stroke-width="3"/><path d="M442.6 1087.5l7.4 -8.6l7.4 8.6l-7.4 8.6z" fill="none" stroke="#000" stroke-width="3.8"/>
<path d="M570.1 1069.5l7.4 -8.6l7.4 8.6l-7.4 8.6z" fill="#fff"/><path d="M570.5 1069.5h14" stroke="#000" stroke-width="3"/><path d="M570.1 1069.5l7.4 -8.6l7.4 8.6l-7.4 8.6z" fill="none" stroke="#000" stroke-width="3.8"/>
<path d="M698.6 1047.5l7.4 -8.6l7.4 8.6l-7.4 8.6z" fill="#fff"/><path d="M699 1047.5h14" stroke="#000" stroke-width="3"/><path d="M698.6 1047.5l7.4 -8.6l7.4 8.6l-7.4 8.6z" fill="none" stroke="#000" stroke-width="3.8"/>
<path d="M322.5 1114L450 1059L577.5 1021.5L706 964" fill="none" stroke="#000" stroke-width="4.4" stroke-linejoin="round"/>
<rect x="311.2" y="1102.7" width="22.6" height="22.6" rx="2.2" fill="#000"/>
<rect x="438.7" y="1047.7" width="22.6" height="22.6" rx="2.2" fill="#000"/>
<rect x="566.2" y="1010.2" width="22.6" height="22.6" rx="2.2" fill="#000"/>
<rect x="694.7" y="952.7" width="22.6" height="22.6" rx="2.2" fill="#000"/>
<text x="573.6" y="960.7" text-anchor="middle" style="font-family:'DejaVu Sans',sans-serif" stroke="#000" stroke-width="0.6" font-size="39">*</text>
<text x="710.7" y="912.7" text-anchor="middle" style="font-family:'DejaVu Sans',sans-serif" stroke="#000" stroke-width="0.6" font-size="39">*</text>
<text x="322.5" y="1221" text-anchor="middle" font-size="43">0</text>
<text x="450" y="1221" text-anchor="middle" font-size="43">10</text>
<text x="577.5" y="1221" text-anchor="middle" font-size="43">30</text>
<text x="706" y="1221" text-anchor="middle" font-size="43">100</text>
<path d="M285.2 895.6L358.5 895.6" stroke="#000" stroke-width="4.4"/>
<path d="M314.9 895.6l7.4 -8.6l7.4 8.6l-7.4 8.6z" fill="#fff"/><path d="M315.3 895.6h14" stroke="#000" stroke-width="3"/><path d="M314.9 895.6l7.4 -8.6l7.4 8.6l-7.4 8.6z" fill="none" stroke="#000" stroke-width="3.8"/>
<text x="364.4" y="906.3" font-size="35">ND</text>
<path d="M285.2 943L358.5 943" stroke="#000" stroke-width="4.4"/>
<rect x="311" y="931.7" width="22.6" height="22.6" rx="2.2" fill="#000"/>
<text x="364.4" y="954.2" font-size="35">HFD</text>
<text text-anchor="middle" transform="translate(159.3 1039.5) rotate(-90)" font-size="44.5">IL-4 (ng/ml)</text>
<path d="M258.6 1263.4V1504.8M249.8 1491H772" fill="none" stroke="#000" stroke-width="4.1"/>
<path d="M249.8 1263.4h10.9M249.8 1320.3h8.8M249.8 1377.2h8.8M249.8 1434.1h8.8M386 1491v13.8M514 1491v13.8M642.5 1491v13.8M770 1491v13.8" fill="none" stroke="#000" stroke-width="3.8"/>
<text x="232.8" y="1272.2" text-anchor="end" font-size="29">8</text>
<text x="232.8" y="1329.1" text-anchor="end" font-size="29">6</text>
<text x="232.8" y="1386" text-anchor="end" font-size="29">4</text>
<text x="232.8" y="1442.9" text-anchor="end" font-size="29">2</text>
<text x="232.8" y="1499.8" text-anchor="end" font-size="29">0</text>
<path d="M706 1357.5V1265M697.8 1265H714.2" fill="none" stroke="#000" stroke-width="1.7"/>
<path d="M706 1460V1435.5M697.8 1435.5H714.2" fill="none" stroke="#000" stroke-width="1.7"/>
<path d="M322.5 1489.5L450 1488L577.5 1477.5L706 1460" fill="none" stroke="#000" stroke-width="4.4" stroke-linejoin="round"/>
<path d="M315.1 1489.5l7.4 -8.6l7.4 8.6l-7.4 8.6z" fill="#fff"/><path d="M315.5 1489.5h14" stroke="#000" stroke-width="3"/><path d="M315.1 1489.5l7.4 -8.6l7.4 8.6l-7.4 8.6z" fill="none" stroke="#000" stroke-width="3.8"/>
<path d="M442.6 1488l7.4 -8.6l7.4 8.6l-7.4 8.6z" fill="#fff"/><path d="M443 1488h14" stroke="#000" stroke-width="3"/><path d="M442.6 1488l7.4 -8.6l7.4 8.6l-7.4 8.6z" fill="none" stroke="#000" stroke-width="3.8"/>
<path d="M570.1 1477.5l7.4 -8.6l7.4 8.6l-7.4 8.6z" fill="#fff"/><path d="M570.5 1477.5h14" stroke="#000" stroke-width="3"/><path d="M570.1 1477.5l7.4 -8.6l7.4 8.6l-7.4 8.6z" fill="none" stroke="#000" stroke-width="3.8"/>
<path d="M698.6 1460l7.4 -8.6l7.4 8.6l-7.4 8.6z" fill="#fff"/><path d="M699 1460h14" stroke="#000" stroke-width="3"/><path d="M698.6 1460l7.4 -8.6l7.4 8.6l-7.4 8.6z" fill="none" stroke="#000" stroke-width="3.8"/>
<path d="M322.5 1489L450 1485L577.5 1464L706 1357.5" fill="none" stroke="#000" stroke-width="4.4" stroke-linejoin="round"/>
<rect x="311.2" y="1477.7" width="22.6" height="22.6" rx="2.2" fill="#000"/>
<rect x="438.7" y="1473.7" width="22.6" height="22.6" rx="2.2" fill="#000"/>
<rect x="566.2" y="1452.7" width="22.6" height="22.6" rx="2.2" fill="#000"/>
<rect x="694.7" y="1346.2" width="22.6" height="22.6" rx="2.2" fill="#000"/>
<text x="706.3" y="1266.8" text-anchor="middle" style="font-family:'DejaVu Sans',sans-serif" stroke="#000" stroke-width="0.6" font-size="39">*</text>
<text x="322.5" y="1557" text-anchor="middle" font-size="43">0</text>
<text x="450" y="1557" text-anchor="middle" font-size="43">10</text>
<text x="577.5" y="1557" text-anchor="middle" font-size="43">30</text>
<text x="706" y="1557" text-anchor="middle" font-size="43">100</text>
<text text-anchor="middle" transform="translate(155.2 1377.4) rotate(-90)" font-size="44.5">IL-5 (ng/ml)</text>
<path d="M258.6 1559V1851.3M249.8 1837.5H772" fill="none" stroke="#000" stroke-width="4.1"/>
<path d="M249.8 1559h10.9M249.8 1651.8h8.8M249.8 1744.7h8.8M386 1837.5v13.8M514 1837.5v13.8M642.5 1837.5v13.8M770 1837.5v13.8" fill="none" stroke="#000" stroke-width="3.8"/>
<text x="232.8" y="1567.8" text-anchor="end" font-size="29">12</text>
<text x="232.8" y="1660.6" text-anchor="end" font-size="29">8</text>
<text x="232.8" y="1753.5" text-anchor="end" font-size="29">4</text>
<text x="232.8" y="1846.3" text-anchor="end" font-size="29">0</text>
<path d="M577.5 1725V1670.5M569.3 1670.5H585.7" fill="none" stroke="#000" stroke-width="1.7"/>
<path d="M706 1655V1606M697.8 1606H714.2" fill="none" stroke="#000" stroke-width="1.7"/>
<path d="M577.5 1806.5V1778.5M569.3 1778.5H585.7" fill="none" stroke="#000" stroke-width="1.7"/>
<path d="M706 1780V1728.5M697.8 1728.5H714.2" fill="none" stroke="#000" stroke-width="1.7"/>
<path d="M322.5 1837L450 1836L577.5 1806.5L706 1780" fill="none" stroke="#000" stroke-width="4.4" stroke-linejoin="round"/>
<path d="M315.1 1837l7.4 -8.6l7.4 8.6l-7.4 8.6z" fill="#fff"/><path d="M315.5 1837h14" stroke="#000" stroke-width="3"/><path d="M315.1 1837l7.4 -8.6l7.4 8.6l-7.4 8.6z" fill="none" stroke="#000" stroke-width="3.8"/>
<path d="M442.6 1836l7.4 -8.6l7.4 8.6l-7.4 8.6z" fill="#fff"/><path d="M443 1836h14" stroke="#000" stroke-width="3"/><path d="M442.6 1836l7.4 -8.6l7.4 8.6l-7.4 8.6z" fill="none" stroke="#000" stroke-width="3.8"/>
<path d="M570.1 1806.5l7.4 -8.6l7.4 8.6l-7.4 8.6z" fill="#fff"/><path d="M570.5 1806.5h14" stroke="#000" stroke-width="3"/><path d="M570.1 1806.5l7.4 -8.6l7.4 8.6l-7.4 8.6z" fill="none" stroke="#000" stroke-width="3.8"/>
<path d="M698.6 1780l7.4 -8.6l7.4 8.6l-7.4 8.6z" fill="#fff"/><path d="M699 1780h14" stroke="#000" stroke-width="3"/><path d="M698.6 1780l7.4 -8.6l7.4 8.6l-7.4 8.6z" fill="none" stroke="#000" stroke-width="3.8"/>
<path d="M322.5 1837L450 1826L577.5 1725L706 1655" fill="none" stroke="#000" stroke-width="4.4" stroke-linejoin="round"/>
<rect x="311.2" y="1825.7" width="22.6" height="22.6" rx="2.2" fill="#000"/>
<rect x="438.7" y="1814.7" width="22.6" height="22.6" rx="2.2" fill="#000"/>
<rect x="566.2" y="1713.7" width="22.6" height="22.6" rx="2.2" fill="#000"/>
<rect x="694.7" y="1643.7" width="22.6" height="22.6" rx="2.2" fill="#000"/>
<text x="572.5" y="1654" text-anchor="middle" style="font-family:'DejaVu Sans',sans-serif" stroke="#000" stroke-width="0.6" font-size="39">*</text>
<text x="702.5" y="1605" text-anchor="middle" style="font-family:'DejaVu Sans',sans-serif" stroke="#000" stroke-width="0.6" font-size="39">*</text>
<text x="322.5" y="1903.5" text-anchor="middle" font-size="43">0</text>
<text x="450" y="1903.5" text-anchor="middle" font-size="43">10</text>
<text x="577.5" y="1903.5" text-anchor="middle" font-size="43">30</text>
<text x="706" y="1903.5" text-anchor="middle" font-size="43">100</text>
<text text-anchor="middle" transform="translate(155.2 1701) rotate(-90)" font-size="44.5">IL-13 (ng/ml)</text>
<path d="M258.6 1908.5V2181.8M249.8 2168H772" fill="none" stroke="#000" stroke-width="4.1"/>
<path d="M249.8 1908.5h10.9M249.8 1973.4h8.8M249.8 2038.3h8.8M249.8 2103.1h8.8M386 2168v13.8M514 2168v13.8M642.5 2168v13.8M770 2168v13.8" fill="none" stroke="#000" stroke-width="3.8"/>
<text x="232.8" y="1917.3" text-anchor="end" font-size="29">0.8</text>
<text x="232.8" y="1982.2" text-anchor="end" font-size="29">0.6</text>
<text x="232.8" y="2047.1" text-anchor="end" font-size="29">0.4</text>
<text x="232.8" y="2111.9" text-anchor="end" font-size="29">0.2</text>
<text x="232.8" y="2176.8" text-anchor="end" font-size="29">0</text>
<path d="M450 2141V2111M441.8 2111H458.2" fill="none" stroke="#000" stroke-width="1.7"/>
<path d="M450 2150V2130M441.8 2130H458.2" fill="none" stroke="#000" stroke-width="1.7"/>
<path d="M577.5 2081.5V2051M569.3 2051H585.7" fill="none" stroke="#000" stroke-width="1.7"/>
<path d="M706 2045V1991.5M697.8 1991.5H714.2" fill="none" stroke="#000" stroke-width="1.7"/>
<path d="M706 2040V1996M697.8 1996H714.2" fill="none" stroke="#000" stroke-width="1.7"/>
<path d="M322.5 2165L450 2150L577.5 2097.5L706 2072.5" fill="none" stroke="#000" stroke-width="4.4" stroke-linejoin="round"/>
<path d="M315.1 2165l7.4 -8.6l7.4 8.6l-7.4 8.6z" fill="#fff"/><path d="M315.5 2165h14" stroke="#000" stroke-width="3"/><path d="M315.1 2165l7.4 -8.6l7.4 8.6l-7.4 8.6z" fill="none" stroke="#000" stroke-width="3.8"/>
<path d="M442.6 2150l7.4 -8.6l7.4 8.6l-7.4 8.6z" fill="#fff"/><path d="M443 2150h14" stroke="#000" stroke-width="3"/><path d="M442.6 2150l7.4 -8.6l7.4 8.6l-7.4 8.6z" fill="none" stroke="#000" stroke-width="3.8"/>
<path d="M570.1 2097.5l7.4 -8.6l7.4 8.6l-7.4 8.6z" fill="#fff"/><path d="M570.5 2097.5h14" stroke="#000" stroke-width="3"/><path d="M570.1 2097.5l7.4 -8.6l7.4 8.6l-7.4 8.6z" fill="none" stroke="#000" stroke-width="3.8"/>
<path d="M698.6 2072.5l7.4 -8.6l7.4 8.6l-7.4 8.6z" fill="#fff"/><path d="M699 2072.5h14" stroke="#000" stroke-width="3"/><path d="M698.6 2072.5l7.4 -8.6l7.4 8.6l-7.4 8.6z" fill="none" stroke="#000" stroke-width="3.8"/>
<path d="M322.5 2160L450 2141L577.5 2081.5L706 2045" fill="none" stroke="#000" stroke-width="4.4" stroke-linejoin="round"/>
<rect x="311.2" y="2148.7" width="22.6" height="22.6" rx="2.2" fill="#000"/>
<rect x="438.7" y="2129.7" width="22.6" height="22.6" rx="2.2" fill="#000"/>
<rect x="566.2" y="2070.2" width="22.6" height="22.6" rx="2.2" fill="#000"/>
<rect x="694.7" y="2033.7" width="22.6" height="22.6" rx="2.2" fill="#000"/>
<text x="322.5" y="2234" text-anchor="middle" font-size="43">0</text>
<text x="450" y="2234" text-anchor="middle" font-size="43">10</text>
<text x="577.5" y="2234" text-anchor="middle" font-size="43">30</text>
<text x="706" y="2234" text-anchor="middle" font-size="43">100</text>
<text text-anchor="middle" transform="translate(151.7 2048.5) rotate(-90)" font-size="44.5">IFN-<tspan font-family="Liberation Serif,DejaVu Serif,serif">γ</tspan> (ng/ml)</text>
<text x="533.2" y="2281" text-anchor="middle" font-size="44">OVA (ug/ml)</text>
<path d="M1043.5 921.3H1284V1160.3" fill="none" stroke="#2c2c2c" stroke-width="1.6"/>
<path d="M1043.5 920.6V1160.3H1284.7" fill="none" stroke="#222" stroke-width="2"/>
<path d="M1043.5 1160.3v5.5M1061.6 1160.3v3M1072.2 1160.3v3M1079.7 1160.3v3M1085.5 1160.3v3M1090.3 1160.3v3M1094.3 1160.3v3M1097.8 1160.3v3M1100.9 1160.3v3M1103.6 1160.3v5.5M1121.7 1160.3v3M1132.3 1160.3v3M1139.8 1160.3v3M1145.7 1160.3v3M1150.4 1160.3v3M1154.4 1160.3v3M1157.9 1160.3v3M1161 1160.3v3M1163.8 1160.3v5.5M1181.8 1160.3v3M1192.4 1160.3v3M1199.9 1160.3v3M1205.8 1160.3v3M1210.5 1160.3v3M1214.6 1160.3v3M1218 1160.3v3M1221.1 1160.3v3M1223.9 1160.3v5.5M1242 1160.3v3M1252.6 1160.3v3M1260.1 1160.3v3M1265.9 1160.3v3M1270.7 1160.3v3M1274.7 1160.3v3M1278.2 1160.3v3M1281.2 1160.3v3M1284 1160.3v5.5M1043.5 1160.3h-6M1043.5 1145.3h-3M1043.5 1130.4h-3M1043.5 1115.4h-3M1043.5 1100.5h-6M1043.5 1085.5h-3M1043.5 1070.6h-3M1043.5 1055.6h-3M1043.5 1040.7h-6M1043.5 1025.7h-3M1043.5 1010.8h-3M1043.5 995.8h-3M1043.5 980.9h-6M1043.5 965.9h-3M1043.5 951h-3M1043.5 936h-3M1043.5 921.1h-6" fill="none" stroke="#333" stroke-width="1.2"/>
<path d="M1319 921.3H1559V1160.3" fill="none" stroke="#2c2c2c" stroke-width="1.6"/>
<path d="M1319 920.6V1160.3H1559.7" fill="none" stroke="#222" stroke-width="2"/>
<path d="M1319 1160.3v5.5M1337.1 1160.3v3M1347.6 1160.3v3M1355.1 1160.3v3M1360.9 1160.3v3M1365.7 1160.3v3M1369.7 1160.3v3M1373.2 1160.3v3M1376.3 1160.3v3M1379 1160.3v5.5M1397.1 1160.3v3M1407.6 1160.3v3M1415.1 1160.3v3M1420.9 1160.3v3M1425.7 1160.3v3M1429.7 1160.3v3M1433.2 1160.3v3M1436.3 1160.3v3M1439 1160.3v5.5M1457.1 1160.3v3M1467.6 1160.3v3M1475.1 1160.3v3M1480.9 1160.3v3M1485.7 1160.3v3M1489.7 1160.3v3M1493.2 1160.3v3M1496.3 1160.3v3M1499 1160.3v5.5M1517.1 1160.3v3M1527.6 1160.3v3M1535.1 1160.3v3M1540.9 1160.3v3M1545.7 1160.3v3M1549.7 1160.3v3M1553.2 1160.3v3M1556.3 1160.3v3M1559 1160.3v5.5M1319 1160.3h-6M1319 1148.3h-3M1319 1136.3h-3M1319 1124.3h-3M1319 1112.3h-6M1319 1100.3h-3M1319 1088.3h-3M1319 1076.3h-3M1319 1064.3h-6M1319 1052.3h-3M1319 1040.3h-3M1319 1028.3h-3M1319 1016.3h-6M1319 1004.3h-3M1319 992.3h-3M1319 980.3h-3M1319 968.3h-6M1319 956.3h-3M1319 944.3h-3M1319 932.3h-3" fill="none" stroke="#333" stroke-width="1.2"/>
<path d="M1043 1110C1043.4 1113.3 1044.5 1123.3 1045.5 1130C1046.5 1136.7 1047.3 1146 1049 1150C1050.7 1154 1053 1153 1055.5 1154C1058 1155 1061.2 1156.8 1064 1156C1066.8 1155.2 1069.7 1151.6 1072 1149C1074.3 1146.4 1075.8 1141.7 1078 1140.5C1080.2 1139.3 1082.6 1143.9 1085.5 1142C1088.4 1140.1 1093.2 1136 1095.5 1129C1097.8 1122 1098.2 1110.7 1099.5 1100C1100.8 1089.3 1101.8 1075.4 1103 1065C1104.2 1054.6 1105.8 1043.9 1107 1037.5C1108.2 1031.1 1109.3 1026.5 1110.5 1026.5C1111.7 1026.5 1112.8 1031.9 1114 1037.5C1115.2 1043.1 1116.7 1051.2 1118 1060C1119.3 1068.8 1120.7 1082.1 1122 1090C1123.3 1097.9 1124.2 1103.5 1126 1107.5C1127.8 1111.5 1130.8 1113 1133 1114C1135.2 1115 1137.2 1111.8 1139 1113.5C1140.8 1115.2 1142.3 1120.2 1144 1124C1145.7 1127.8 1147.1 1132.1 1149 1136C1150.9 1139.9 1153.2 1144.7 1155.5 1147.5C1157.8 1150.3 1160.1 1151.8 1163 1153C1165.9 1154.2 1169.7 1155 1173 1155C1176.3 1155 1179.7 1154 1183 1153C1186.3 1152 1190.3 1149 1193 1149C1195.7 1149 1196.9 1151.2 1199 1153C1201.1 1154.8 1201.5 1158.7 1205.5 1160C1209.5 1161.3 1210.1 1160.8 1223 1161C1235.9 1161.2 1273 1161 1283 1161" fill="none" stroke="#1e1e1e" stroke-width="1.9" stroke-linejoin="round"/>
<path d="M1319 1132.5C1319.5 1134.6 1320.8 1141.5 1322 1145C1323.2 1148.5 1323.3 1152.4 1326 1153.5C1328.7 1154.6 1334.3 1151.6 1338 1151.5C1341.7 1151.4 1344.8 1152.9 1348 1153C1351.2 1153.1 1354.1 1154.2 1357 1152C1359.9 1149.8 1363.1 1143.9 1365.5 1140C1367.9 1136.1 1369.8 1130.2 1371.5 1128.5C1373.2 1126.8 1374.7 1133.1 1376 1130C1377.3 1126.9 1378.3 1117.5 1379.5 1110C1380.7 1102.5 1381.8 1089.6 1383 1085C1384.2 1080.4 1385.4 1081.2 1386.5 1082.5C1387.6 1083.8 1388.4 1092.8 1389.5 1092.5C1390.6 1092.2 1391.8 1083.5 1393 1081C1394.2 1078.5 1395.5 1079.1 1397 1077.5C1398.5 1075.9 1400.7 1071.1 1402 1071.5C1403.3 1071.9 1404.1 1077.1 1405 1080C1405.9 1082.9 1406.2 1088.6 1407.5 1089C1408.8 1089.4 1411.4 1081.9 1413 1082.5C1414.6 1083.1 1415.7 1089.6 1417 1092.5C1418.3 1095.4 1419.6 1099.2 1421 1100C1422.4 1100.8 1423.9 1095.8 1425.5 1097.5C1427.1 1099.2 1428.8 1105.2 1430.5 1110C1432.2 1114.8 1433.9 1120.6 1436 1126C1438.1 1131.4 1440.6 1140 1443 1142.5C1445.4 1145 1448.3 1139.9 1450.5 1141C1452.7 1142.1 1454.1 1146.8 1456 1149C1457.9 1151.2 1459.6 1153 1462 1154C1464.4 1155 1467.8 1154.2 1470.5 1155C1473.2 1155.8 1475.8 1159.2 1478 1158.5C1480.2 1157.8 1481.9 1153.5 1484 1151C1486.1 1148.5 1488.4 1143.5 1490.5 1143.5C1492.6 1143.5 1494.4 1148.5 1496.5 1151C1498.6 1153.5 1498.6 1156.8 1503 1158.5C1507.4 1160.2 1513.8 1160.6 1523 1161C1532.2 1161.4 1552.2 1161 1558 1161" fill="none" stroke="#1e1e1e" stroke-width="1.9" stroke-linejoin="round"/>
<path d="M1130.5 1045.4v10M1279 1045.4v10" fill="none" stroke="#aaa" stroke-width="1.1"/><path d="M1130.5 1050.4H1279" fill="none" stroke="#777" stroke-width="1.2"/>
<text x="1201.5" y="1026.4" text-anchor="middle" fill="#1a1a1a" font-size="16" stroke="#1a1a1a" stroke-width="0.3">23.8%</text>
<path d="M1405.5 1045.4v10M1554 1045.4v10" fill="none" stroke="#aaa" stroke-width="1.1"/><path d="M1405.5 1050.4H1554" fill="none" stroke="#777" stroke-width="1.2"/>
<text x="1476" y="1026.4" text-anchor="middle" fill="#1a1a1a" font-size="16" stroke="#1a1a1a" stroke-width="0.3">45.7%</text>
<path d="M1042.3 1213.4H1276.8V1447" fill="none" stroke="#2c2c2c" stroke-width="1.6"/>
<path d="M1042.3 1212.7V1447H1277.5" fill="none" stroke="#222" stroke-width="2"/>
<path d="M1042.3 1447v5.5M1059.9 1447v3M1070.3 1447v3M1077.6 1447v3M1083.3 1447v3M1087.9 1447v3M1091.8 1447v3M1095.2 1447v3M1098.2 1447v3M1100.9 1447v5.5M1118.6 1447v3M1128.9 1447v3M1136.2 1447v3M1141.9 1447v3M1146.5 1447v3M1150.5 1447v3M1153.9 1447v3M1156.9 1447v3M1159.5 1447v5.5M1177.2 1447v3M1187.5 1447v3M1194.8 1447v3M1200.5 1447v3M1205.2 1447v3M1209.1 1447v3M1212.5 1447v3M1215.5 1447v3M1218.2 1447v5.5M1235.8 1447v3M1246.1 1447v3M1253.5 1447v3M1259.2 1447v3M1263.8 1447v3M1267.7 1447v3M1271.1 1447v3M1274.1 1447v3M1276.8 1447v5.5M1042.3 1447h-6M1042.3 1435.3h-3M1042.3 1423.7h-3M1042.3 1412h-3M1042.3 1400.3h-6M1042.3 1388.6h-3M1042.3 1377h-3M1042.3 1365.3h-3M1042.3 1353.6h-6M1042.3 1341.9h-3M1042.3 1330.3h-3M1042.3 1318.6h-3M1042.3 1306.9h-6M1042.3 1295.2h-3M1042.3 1283.6h-3M1042.3 1271.9h-3M1042.3 1260.2h-6M1042.3 1248.5h-3M1042.3 1236.9h-3M1042.3 1225.2h-3M1042.3 1213.5h-6" fill="none" stroke="#333" stroke-width="1.2"/>
<path d="M1317.7 1213.4H1553V1447" fill="none" stroke="#2c2c2c" stroke-width="1.6"/>
<path d="M1317.7 1212.7V1447H1553.7" fill="none" stroke="#222" stroke-width="2"/>
<path d="M1317.7 1447v5.5M1335.4 1447v3M1345.8 1447v3M1353.1 1447v3M1358.8 1447v3M1363.5 1447v3M1367.4 1447v3M1370.8 1447v3M1373.8 1447v3M1376.5 1447v5.5M1394.2 1447v3M1404.6 1447v3M1411.9 1447v3M1417.6 1447v3M1422.3 1447v3M1426.2 1447v3M1429.6 1447v3M1432.7 1447v3M1435.3 1447v5.5M1453.1 1447v3M1463.4 1447v3M1470.8 1447v3M1476.5 1447v3M1481.1 1447v3M1485.1 1447v3M1488.5 1447v3M1491.5 1447v3M1494.2 1447v5.5M1511.9 1447v3M1522.2 1447v3M1529.6 1447v3M1535.3 1447v3M1539.9 1447v3M1543.9 1447v3M1547.3 1447v3M1550.3 1447v3M1553 1447v5.5M1317.7 1447h-6M1317.7 1429h-3M1317.7 1411h-3M1317.7 1393h-6M1317.7 1375h-3M1317.7 1357h-3M1317.7 1339h-6M1317.7 1321h-3M1317.7 1303h-3M1317.7 1285h-6M1317.7 1267h-3M1317.7 1249h-3M1317.7 1231h-6M1317.7 1213h-3" fill="none" stroke="#333" stroke-width="1.2"/>
<path d="M1043 1447.5C1050.9 1447.5 1081.8 1449.6 1090.5 1447.5C1099.2 1445.4 1094.1 1441.2 1095.5 1435C1096.9 1428.8 1097.8 1419.2 1099 1410C1100.2 1400.8 1101.7 1390 1103 1380C1104.3 1370 1105.7 1358.8 1107 1350C1108.3 1341.2 1109.3 1334.5 1111 1327.5C1112.7 1320.5 1115.3 1309.7 1117 1308C1118.7 1306.3 1119.8 1311.3 1121 1317.5C1122.2 1323.7 1123.3 1335.8 1124.5 1345C1125.7 1354.2 1126.4 1367.7 1128 1372.5C1129.6 1377.3 1132.3 1370.7 1134 1374C1135.7 1377.3 1136.7 1386.9 1138 1392.5C1139.3 1398.1 1140.5 1403.6 1142 1407.5C1143.5 1411.4 1145.2 1414.8 1147 1416C1148.8 1417.2 1151.3 1413.5 1153 1415C1154.7 1416.5 1155.5 1421.7 1157 1425C1158.5 1428.3 1160.3 1432.8 1162 1435C1163.7 1437.2 1164.8 1438.2 1167 1438C1169.2 1437.8 1172.7 1433.8 1175.5 1434C1178.3 1434.2 1181.5 1439.7 1184 1439C1186.5 1438.3 1188.2 1432.8 1190.5 1430C1192.8 1427.2 1195.5 1423.3 1198 1422.5C1200.5 1421.7 1203 1423.8 1205.5 1425C1208 1426.2 1210.5 1427.1 1213 1430C1215.5 1432.9 1218.2 1439.6 1220.5 1442.5C1222.8 1445.4 1217.6 1446.7 1227 1447.5C1236.4 1448.3 1268.7 1447.5 1277 1447.5" fill="none" stroke="#1e1e1e" stroke-width="1.9" stroke-linejoin="round"/>
<path d="M1318 1447.5C1325.1 1447.5 1352.3 1448.6 1360.5 1447.5C1368.7 1446.4 1364.9 1443.9 1367 1441C1369.1 1438.1 1371 1433 1373 1430C1375 1427 1376.9 1424.4 1379 1423C1381.1 1421.6 1383.6 1424.1 1385.5 1421.5C1387.4 1418.9 1388.8 1415.2 1390.5 1407.5C1392.2 1399.8 1393.8 1387.1 1395.5 1375C1397.2 1362.9 1398.8 1347.2 1400.5 1335C1402.2 1322.8 1404.1 1304 1405.5 1301.5C1406.9 1299 1407.8 1311.9 1409 1320C1410.2 1328.1 1411.5 1344 1413 1350C1414.5 1356 1416.5 1352.7 1418 1356C1419.5 1359.3 1420.7 1364.3 1422 1370C1423.3 1375.7 1424.5 1383.6 1426 1390C1427.5 1396.4 1429 1403.5 1431 1408.5C1433 1413.5 1435.6 1416.7 1438 1420C1440.4 1423.3 1443.2 1428.8 1445.5 1428.5C1447.8 1428.2 1449.8 1420.6 1452 1418C1454.2 1415.4 1456.8 1413.5 1459 1413C1461.2 1412.5 1463.3 1414 1465 1415C1466.7 1416 1467.4 1420 1469 1419C1470.6 1418 1472.8 1408.4 1474.5 1409C1476.2 1409.6 1477.2 1419 1479 1422.5C1480.8 1426 1483.2 1428.6 1485.5 1430C1487.8 1431.4 1490.8 1429.3 1493 1431C1495.2 1432.7 1496.5 1437.7 1499 1440C1501.5 1442.3 1504.4 1443.8 1508 1445C1511.6 1446.2 1513 1447.1 1520.5 1447.5C1528 1447.9 1547.6 1447.5 1553 1447.5" fill="none" stroke="#1e1e1e" stroke-width="1.9" stroke-linejoin="round"/>
<path d="M1169.2 1360.5v10M1272.8 1360.5v10" fill="none" stroke="#aaa" stroke-width="1.1"/><path d="M1169.2 1365.5H1272.8" fill="none" stroke="#777" stroke-width="1.2"/>
<text x="1221.5" y="1342.3" text-anchor="middle" fill="#1a1a1a" font-size="16" stroke="#1a1a1a" stroke-width="0.3">15.4%</text>
<path d="M1444 1360.5v10M1548 1360.5v10" fill="none" stroke="#aaa" stroke-width="1.1"/><path d="M1444 1365.5H1548" fill="none" stroke="#777" stroke-width="1.2"/>
<text x="1496.5" y="1342.3" text-anchor="middle" fill="#1a1a1a" font-size="16" stroke="#1a1a1a" stroke-width="0.3">24.6%</text>
<path d="M1041.8 1519.8H1281.3V1759.6" fill="none" stroke="#2c2c2c" stroke-width="1.6"/>
<path d="M1041.8 1519.1V1759.6H1282" fill="none" stroke="#222" stroke-width="2"/>
<path d="M1041.8 1759.6v5.5M1059.8 1759.6v3M1070.4 1759.6v3M1077.8 1759.6v3M1083.7 1759.6v3M1088.4 1759.6v3M1092.4 1759.6v3M1095.9 1759.6v3M1098.9 1759.6v3M1101.7 1759.6v5.5M1119.7 1759.6v3M1130.2 1759.6v3M1137.7 1759.6v3M1143.5 1759.6v3M1148.3 1759.6v3M1152.3 1759.6v3M1155.7 1759.6v3M1158.8 1759.6v3M1161.5 1759.6v5.5M1179.6 1759.6v3M1190.1 1759.6v3M1197.6 1759.6v3M1203.4 1759.6v3M1208.1 1759.6v3M1212.2 1759.6v3M1215.6 1759.6v3M1218.7 1759.6v3M1221.4 1759.6v5.5M1239.4 1759.6v3M1250 1759.6v3M1257.5 1759.6v3M1263.3 1759.6v3M1268 1759.6v3M1272 1759.6v3M1275.5 1759.6v3M1278.6 1759.6v3M1281.3 1759.6v5.5M1041.8 1759.6h-6M1041.8 1749.3h-3M1041.8 1739.1h-3M1041.8 1728.8h-3M1041.8 1718.6h-6M1041.8 1708.3h-3M1041.8 1698.1h-3M1041.8 1687.8h-3M1041.8 1677.6h-6M1041.8 1667.3h-3M1041.8 1657.1h-3M1041.8 1646.8h-3M1041.8 1636.6h-6M1041.8 1626.3h-3M1041.8 1616.1h-3M1041.8 1605.8h-3M1041.8 1595.6h-6M1041.8 1585.3h-3M1041.8 1575.1h-3M1041.8 1564.8h-3M1041.8 1554.6h-6M1041.8 1544.3h-3M1041.8 1534.1h-3M1041.8 1523.8h-3" fill="none" stroke="#333" stroke-width="1.2"/>
<path d="M1321.6 1519.8H1562V1759.6" fill="none" stroke="#2c2c2c" stroke-width="1.6"/>
<path d="M1321.6 1519.1V1759.6H1562.7" fill="none" stroke="#222" stroke-width="2"/>
<path d="M1321.6 1759.6v5.5M1339.7 1759.6v3M1350.3 1759.6v3M1357.8 1759.6v3M1363.6 1759.6v3M1368.4 1759.6v3M1372.4 1759.6v3M1375.9 1759.6v3M1378.9 1759.6v3M1381.7 1759.6v5.5M1399.8 1759.6v3M1410.4 1759.6v3M1417.9 1759.6v3M1423.7 1759.6v3M1428.5 1759.6v3M1432.5 1759.6v3M1436 1759.6v3M1439 1759.6v3M1441.8 1759.6v5.5M1459.9 1759.6v3M1470.5 1759.6v3M1478 1759.6v3M1483.8 1759.6v3M1488.6 1759.6v3M1492.6 1759.6v3M1496.1 1759.6v3M1499.1 1759.6v3M1501.9 1759.6v5.5M1520 1759.6v3M1530.6 1759.6v3M1538.1 1759.6v3M1543.9 1759.6v3M1548.7 1759.6v3M1552.7 1759.6v3M1556.2 1759.6v3M1559.2 1759.6v3M1562 1759.6v5.5M1321.6 1759.6h-6M1321.6 1745.8h-3M1321.6 1731.9h-3M1321.6 1718.1h-3M1321.6 1704.2h-6M1321.6 1690.4h-3M1321.6 1676.5h-3M1321.6 1662.7h-3M1321.6 1648.8h-6M1321.6 1635h-3M1321.6 1621.1h-3M1321.6 1607.3h-3M1321.6 1593.4h-6M1321.6 1579.6h-3M1321.6 1565.7h-3M1321.6 1551.9h-3M1321.6 1538h-6M1321.6 1524.2h-3" fill="none" stroke="#333" stroke-width="1.2"/>
<path d="M1042 1759.5C1044 1759.3 1050.8 1759.8 1054 1758.5C1057.2 1757.2 1059 1757.1 1061 1751.5C1063 1745.9 1064.6 1737.8 1066 1725C1067.4 1712.2 1068.3 1691.7 1069.5 1675C1070.7 1658.3 1071.8 1640.4 1073 1625C1074.2 1609.6 1075.6 1593.2 1077 1582.5C1078.4 1571.8 1080.2 1561.8 1081.5 1561C1082.8 1560.2 1083.6 1574.1 1085 1577.5C1086.4 1580.9 1088.6 1576.5 1090 1581.5C1091.4 1586.5 1092.4 1599 1093.5 1607.5C1094.6 1616 1095.6 1626.2 1096.5 1632.5C1097.4 1638.8 1098.1 1639.2 1099 1645C1099.9 1650.8 1100.8 1662.5 1102 1667.5C1103.2 1672.5 1104.7 1671.4 1106 1675C1107.3 1678.6 1108.7 1684 1110 1689C1111.3 1694 1112.7 1698.6 1114 1705C1115.3 1711.4 1116.5 1721.7 1118 1727.5C1119.5 1733.3 1120.5 1737.3 1123 1740C1125.5 1742.7 1129.7 1743.9 1133 1743.5C1136.3 1743.1 1139.5 1739.6 1143 1737.5C1146.5 1735.4 1150.2 1731.8 1154 1731C1157.8 1730.2 1162.3 1732.1 1165.5 1733C1168.7 1733.9 1170.9 1736 1173 1736.5C1175.1 1737 1175.9 1735 1178 1736C1180.1 1737 1183 1740.3 1185.5 1742.5C1188 1744.7 1190.1 1747.3 1193 1749C1195.9 1750.7 1198.8 1750.9 1203 1752.5C1207.2 1754.1 1212.2 1757.3 1218 1758.5C1223.8 1759.7 1227.4 1759.3 1238 1759.5C1248.6 1759.7 1274.2 1759.5 1281.5 1759.5" fill="none" stroke="#1e1e1e" stroke-width="1.9" stroke-linejoin="round"/>
<path d="M1322 1759.5C1324.7 1759.2 1334.2 1759.8 1338 1757.5C1341.8 1755.2 1343.2 1753.1 1345 1746C1346.8 1738.9 1347.7 1729.3 1349 1715C1350.3 1700.7 1351.7 1677.9 1353 1660C1354.3 1642.1 1355.7 1621.2 1357 1607.5C1358.3 1593.8 1359.7 1584.8 1361 1577.5C1362.3 1570.2 1363.8 1562.7 1365 1563.5C1366.2 1564.3 1367 1574.3 1368 1582.5C1369 1590.7 1370.1 1604.4 1371 1612.5C1371.9 1620.6 1372.3 1628.3 1373.5 1631C1374.7 1633.7 1376.6 1626.2 1378 1628.5C1379.4 1630.8 1380.7 1637.7 1382 1645C1383.3 1652.3 1384.7 1663.8 1386 1672.5C1387.3 1681.2 1388.7 1690.8 1390 1697.5C1391.3 1704.2 1392.5 1707.3 1394 1712.5C1395.5 1717.7 1397.3 1726 1399 1728.5C1400.7 1731 1402.3 1726.2 1404 1727.5C1405.7 1728.8 1407.3 1733.7 1409 1736C1410.7 1738.3 1412 1741.2 1414 1741.5C1416 1741.8 1419 1739.1 1421 1738C1423 1736.9 1424.3 1735.2 1426 1735C1427.7 1734.8 1428.8 1737.1 1431 1736.5C1433.2 1735.9 1436.7 1734 1439 1731.5C1441.3 1729 1443.3 1721.8 1445 1721.5C1446.7 1721.2 1447.5 1727.3 1449 1730C1450.5 1732.7 1451.8 1735.2 1454 1737.5C1456.2 1739.8 1459.2 1741.4 1462 1743.5C1464.8 1745.6 1467 1747.9 1470.5 1750C1474 1752.1 1478.8 1754.6 1483 1756C1487.2 1757.4 1488.8 1757.9 1495.5 1758.5C1502.2 1759.1 1511.9 1759.3 1523 1759.5C1534.1 1759.7 1555.5 1759.5 1562 1759.5" fill="none" stroke="#1e1e1e" stroke-width="1.9" stroke-linejoin="round"/>
<path d="M1133 1630.6v10M1253 1630.6v10" fill="none" stroke="#aaa" stroke-width="1.1"/><path d="M1133 1635.6H1253" fill="none" stroke="#777" stroke-width="1.2"/>
<text x="1192.4" y="1613" text-anchor="middle" fill="#1a1a1a" font-size="16" stroke="#1a1a1a" stroke-width="0.3">18.0%</text>
<path d="M1414 1630.6v10M1534 1630.6v10" fill="none" stroke="#aaa" stroke-width="1.1"/><path d="M1414 1635.6H1534" fill="none" stroke="#777" stroke-width="1.2"/>
<text x="1473" y="1613" text-anchor="middle" fill="#1a1a1a" font-size="16" stroke="#1a1a1a" stroke-width="0.3">18.3%</text>
<text x="1163" y="903" text-anchor="middle" font-size="44">ND</text>
<text x="1436" y="903" text-anchor="middle" font-size="44">HFD</text>
<text text-anchor="middle" transform="translate(1572 1063.5) rotate(90)" font-size="44">TH2</text>
<text text-anchor="middle" transform="translate(1572 1346) rotate(90)" font-size="44">ILC2</text>
<text text-anchor="middle" transform="translate(1572 1628) rotate(90)" font-size="44">TH1</text>
<text text-anchor="middle" transform="translate(1016 1298.8) rotate(-90)" font-size="44">Cell Number</text>
<text x="1300.5" y="1818" text-anchor="middle" font-size="44">Ki67</text>
<text x="6" y="56" font-weight="bold" font-size="65.5">A</text>
<text x="873.5" y="56" font-weight="bold" font-size="65.5">B</text>
<text x="6.4" y="449.5" font-weight="bold" font-size="65.5">C</text>
<text x="875.2" y="449.9" font-weight="bold" font-size="65.5">D</text>
<text x="5.5" y="901.3" font-weight="bold" font-size="65.5">E</text>
<text x="870.7" y="901.3" font-weight="bold" font-size="65.5">F</text>
<text x="322" y="50.6" text-anchor="middle" font-size="43.5">ND</text>
<text x="668.5" y="50.6" text-anchor="middle" font-size="43.5">HFD</text>
<text x="1107" y="50.6" text-anchor="middle" font-size="43.5">ND</text>
<text x="1453" y="50.6" text-anchor="middle" font-size="43.5">HFD</text>
<text text-anchor="middle" transform="translate(132 206) rotate(-90)" font-size="44">IL-13</text>
<text x="481" y="408" text-anchor="middle" font-size="43.5">LIN</text>
<text text-anchor="middle" transform="translate(919.6 206) rotate(-90)" font-size="43.5">IFN-<tspan font-family="Liberation Serif,DejaVu Serif,serif">γ</tspan></text>
<text x="1270.6" y="408" text-anchor="middle" font-size="43.5">CD4</text>
</svg>
</body></html>
